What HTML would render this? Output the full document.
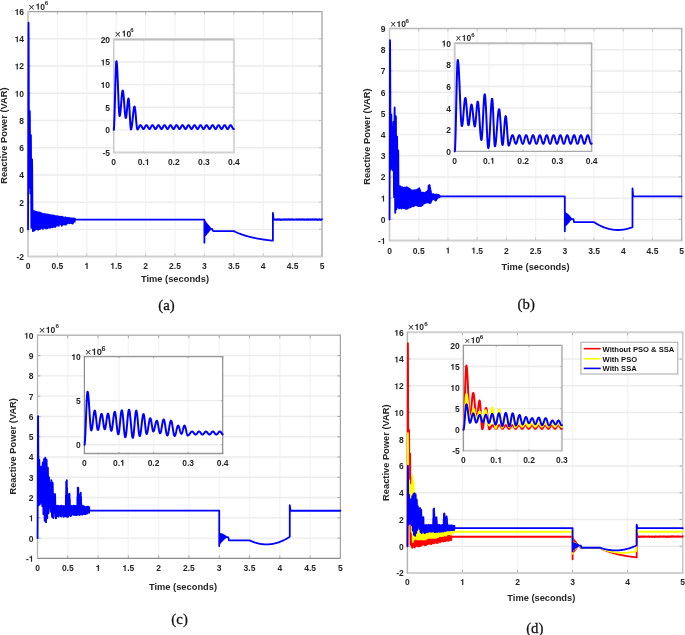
<!DOCTYPE html>
<html><head><meta charset="utf-8"><style>
html,body{margin:0;padding:0;background:#fff;}
svg{display:block;will-change:transform;}
text{font-family:"Liberation Sans",sans-serif;font-weight:bold;fill:#262626;}
text.cap{font-family:"Liberation Serif",serif;font-weight:normal;fill:#111;stroke:#111;stroke-width:0.25px;}
</style></head><body>
<svg width="685" height="635" viewBox="0 0 685 635">
<rect width="685" height="635" fill="#fff"/>
<clipPath id="c0"><rect x="26.5" y="10.1" width="297" height="248"/></clipPath>
<path d="M57.4 11.6V256.6M86.8 11.6V256.6M116.2 11.6V256.6M145.6 11.6V256.6M175 11.6V256.6M204.4 11.6V256.6M233.8 11.6V256.6M263.2 11.6V256.6M292.6 11.6V256.6" stroke="#f4f4f4" stroke-width="1.4" fill="none"/>
<path d="M28 229.38H322M28 202.16H322M28 174.93H322M28 147.71H322M28 120.49H322M28 93.27H322M28 66.04H322M28 38.82H322" stroke="#ececec" stroke-width="1.4" fill="none"/>
<path d="M28 256.6v-3M28 11.6v3M57.4 256.6v-3M57.4 11.6v3M86.8 256.6v-3M86.8 11.6v3M116.2 256.6v-3M116.2 11.6v3M145.6 256.6v-3M145.6 11.6v3M175 256.6v-3M175 11.6v3M204.4 256.6v-3M204.4 11.6v3M233.8 256.6v-3M233.8 11.6v3M263.2 256.6v-3M263.2 11.6v3M292.6 256.6v-3M292.6 11.6v3M322 256.6v-3M322 11.6v3M28 256.6h3M322 256.6h-3M28 229.38h3M322 229.38h-3M28 202.16h3M322 202.16h-3M28 174.93h3M322 174.93h-3M28 147.71h3M322 147.71h-3M28 120.49h3M322 120.49h-3M28 93.27h3M322 93.27h-3M28 66.04h3M322 66.04h-3M28 38.82h3M322 38.82h-3M28 11.6h3M322 11.6h-3" stroke="#c4c4c4" stroke-width="1" fill="none"/>
<path d="M27.5 11.6H322.5" stroke="#a0a0a0" stroke-width="1.2"/>
<path d="M27.5 256.6H322.5" stroke="#cfcfcf" stroke-width="2"/>
<path d="M28 11.1V257.1" stroke="#cfcfcf" stroke-width="2"/>
<path d="M322 11.1V257.1" stroke="#c2c2c2" stroke-width="2"/>
<g clip-path="url(#c0)" fill="none" stroke-linejoin="round" stroke-linecap="round">
<path d="M28 229.38 L28.01 228.99 L28.03 227.84 L28.04 225.93 L28.06 223.27 L28.07 219.89 L28.09 215.81 L28.1 211.07 L28.12 205.68 L28.13 199.71 L28.15 193.18 L28.16 186.16 L28.18 178.68 L28.19 170.82 L28.21 162.62 L28.22 154.14 L28.24 145.46 L28.25 136.63 L28.26 127.72 L28.28 118.8 L28.29 109.93 L28.31 101.18 L28.32 92.61 L28.34 84.29 L28.35 76.29 L28.37 68.65 L28.38 61.44 L28.4 54.71 L28.41 48.5 L28.43 42.88 L28.44 37.87 L28.46 33.52 L28.47 29.86 L28.49 26.91 L28.5 24.7 L28.51 23.24 L28.53 22.55 L28.54 22.57 L28.56 23.06 L28.57 23.99 L28.59 25.35 L28.6 27.15 L28.62 29.37 L28.63 31.99 L28.65 35 L28.66 38.4 L28.68 42.15 L28.69 46.24 L28.71 50.65 L28.72 55.35 L28.73 60.32 L28.75 65.53 L28.76 70.95 L28.78 76.55 L28.79 82.31 L28.81 88.19 L28.82 94.17 L28.84 100.2 L28.85 106.25 L28.87 112.3 L28.88 118.31 L28.9 124.25 L28.91 130.09 L28.93 135.79 L28.94 141.33 L28.96 146.67 L28.97 151.78 L28.98 156.65 L29 161.23 L29.01 165.52 L29.03 169.47 L29.04 173.08 L29.06 176.33 L29.07 179.19 L29.09 181.65 L29.1 183.7 L29.12 185.32 L29.13 186.52 L29.15 187.27 L29.16 187.58 L29.18 187.52 L29.19 187.22 L29.21 186.7 L29.22 185.96 L29.23 185 L29.25 183.83 L29.26 182.46 L29.28 180.89 L29.29 179.13 L29.31 177.19 L29.32 175.09 L29.34 172.83 L29.35 170.44 L29.37 167.92 L29.38 165.29 L29.4 162.57 L29.41 159.76 L29.43 156.9 L29.44 153.98 L29.46 151.05 L29.47 148.1 L29.48 145.15 L29.5 142.24 L29.51 139.36 L29.53 136.54 L29.54 133.8 L29.56 131.15 L29.57 128.61 L29.59 126.19 L29.6 123.9 L29.62 121.77 L29.63 119.8 L29.65 118 L29.66 116.39 L29.68 114.98 L29.69 113.77 L29.71 112.76 L29.72 111.98 L29.73 111.41 L29.75 111.07 L29.76 110.96 L29.78 111.08 L29.79 111.44 L29.81 112.04 L29.82 112.87 L29.84 113.93 L29.85 115.21 L29.87 116.71 L29.88 118.41 L29.9 120.31 L29.91 122.4 L29.93 124.66 L29.94 127.08 L29.96 129.65 L29.97 132.35 L29.98 135.16 L30 138.08 L30.01 141.07 L30.03 144.13 L30.04 147.24 L30.06 150.38 L30.07 153.53 L30.09 156.67 L30.1 159.79 L30.12 162.86 L30.13 165.87 L30.15 168.8 L30.16 171.64 L30.18 174.36 L30.19 176.96 L30.2 179.41 L30.22 181.7 L30.23 183.83 L30.25 185.77 L30.26 187.51 L30.28 189.05 L30.29 190.38 L30.31 191.48 L30.32 192.36 L30.34 193 L30.35 193.41 L30.37 193.58 L30.38 193.51 L30.4 193.21 L30.41 192.69 L30.43 191.95 L30.44 190.99 L30.45 189.83 L30.47 188.47 L30.48 186.92 L30.5 185.19 L30.51 183.3 L30.53 181.27 L30.54 179.1 L30.56 176.81 L30.57 174.43 L30.59 171.97 L30.6 169.45 L30.62 166.9 L30.63 164.32 L30.65 161.74 L30.66 159.18 L30.68 156.66 L30.69 154.2 L30.7 151.82 L30.72 149.54 L30.73 147.37 L30.75 145.33 L30.76 143.44 L30.78 141.72 L30.79 140.17 L30.81 138.8 L30.82 137.64 L30.84 136.68 L30.85 135.94 L30.87 135.42 L30.88 135.13 L30.9 135.06 L30.91 135.34 L30.93 136.03 L30.94 137.11 L30.95 138.59 L30.97 140.43 L30.98 142.64 L31 145.18 L31.01 148.04 L31.03 151.19 L31.04 154.61 L31.06 158.26 L31.07 162.11 L31.09 166.14 L31.1 170.29 L31.12 174.55 L31.13 178.86 L31.15 183.2 L31.16 187.52 L31.18 191.79 L31.19 195.97 L31.2 200.03 L31.22 203.92 L31.23 207.61 L31.25 211.08 L31.26 214.29 L31.28 217.21 L31.29 219.82 L31.31 222.09 L31.32 224.01 L31.34 225.55 L31.35 226.72 L31.37 227.48 L31.38 227.85 L31.4 227.85 L31.41 227.68 L31.43 227.35 L31.44 226.87 L31.45 226.23 L31.47 225.44 L31.48 224.51 L31.5 223.44 L31.51 222.23 L31.53 220.89 L31.54 219.42 L31.56 217.83 L31.57 216.14 L31.59 214.34 L31.6 212.44 L31.62 210.46 L31.63 208.4 L31.65 206.28 L31.66 204.09 L31.68 201.86 L31.69 199.59 L31.7 197.29 L31.72 194.97 L31.73 192.65 L31.75 190.33 L31.76 188.03 L31.78 185.75 L31.79 183.51 L31.81 181.32 L31.82 179.18 L31.84 177.11 L31.85 175.11 L31.87 173.19 L31.88 171.38 L31.9 169.66 L31.91 168.05 L31.92 166.56 L31.94 165.19 L31.95 163.95 L31.97 162.85 L31.98 161.89 L32 161.08 L32.01 160.41 L32.03 159.9 L32.04 159.53 L32.06 159.33 L32.07 159.28 L32.09 159.44 L32.1 159.81 L32.12 160.4 L32.13 161.21 L32.15 162.22 L32.16 163.43 L32.17 164.83 L32.19 166.42 L32.2 168.19 L32.22 170.12 L32.23 172.19 L32.25 174.41 L32.26 176.75 L32.28 179.2 L32.29 181.73 L32.31 184.35 L32.32 187.02 L32.34 189.74 L32.35 192.48 L32.37 195.23 L32.38 197.97 L32.4 200.68 L32.41 203.34 L32.42 205.94 L32.44 208.46 L32.45 210.89 L32.47 213.2 L32.48 215.39 L32.5 217.44 L32.51 219.34 L32.53 221.07 L32.54 222.62 L32.56 223.99 L32.57 225.16 L32.59 226.13 L32.6 226.89 L32.62 227.44 L32.63 227.77 L32.65 227.88 L32.65 210.71 L32.94 231.16 L33.23 210.79 L33.53 229.23 L33.82 211 L34.12 230.49 L34.41 211.34 L34.7 228.63 L35 211.29 L35.29 229.62 L35.59 211.77 L35.88 228.28 L36.17 212.11 L36.47 228.18 L36.76 211.9 L37.06 229.24 L37.35 212.12 L37.64 227.81 L37.94 212.69 L38.23 229.65 L38.53 212.32 L38.82 229.27 L39.11 212.51 L39.41 228.42 L39.7 212.92 L40 228.89 L40.29 212.68 L40.58 228.37 L40.88 213.09 L41.17 227.87 L41.47 213.65 L41.76 227.43 L42.05 213.51 L42.35 227.53 L42.64 213.78 L42.94 228.96 L43.23 214.09 L43.52 226.89 L43.82 214.23 L44.11 226.74 L44.41 214.06 L44.7 227.73 L44.99 214.03 L45.29 226.99 L45.58 214.16 L45.88 228.43 L46.17 214.36 L46.46 228.07 L46.76 214.55 L47.05 228.27 L47.35 214.41 L47.64 227.9 L47.93 214.57 L48.23 227.22 L48.52 214.62 L48.82 225.73 L49.11 215.11 L49.4 227.61 L49.7 214.96 L49.99 226.97 L50.29 215.13 L50.58 227.48 L50.87 215.56 L51.17 225.01 L51.46 215.39 L51.76 226.3 L52.05 215.23 L52.34 227.24 L52.64 215.5 L52.93 226.69 L53.23 215.93 L53.52 226.87 L53.81 215.47 L54.11 224.63 L54.4 215.91 L54.7 226.72 L54.99 216.02 L55.28 226.94 L55.58 216.1 L55.87 224.25 L56.17 216.43 L56.46 224.92 L56.75 216.11 L57.05 225.72 L57.34 216.14 L57.64 224.51 L57.93 216.48 L58.22 224.39 L58.52 216.42 L58.81 225.8 L59.11 216.84 L59.4 223.62 L59.69 216.95 L59.99 224.01 L60.28 217.01 L60.58 224.08 L60.87 216.69 L61.16 224.59 L61.46 216.86 L61.75 225.81 L62.05 216.73 L62.34 225.03 L62.63 216.97 L62.93 223.8 L63.22 217.53 L63.52 224.36 L63.81 217.6 L64.1 222.79 L64.4 217.69 L64.69 224.38 L64.99 217.28 L65.28 224.65 L65.57 217.35 L65.87 224.61 L66.16 217.72 L66.46 222.61 L66.75 217.95 L67.04 223.66 L67.34 217.91 L67.63 222.68 L67.93 217.61 L68.22 222.96 L68.51 218.25 L68.81 222.52 L69.1 218.23 L69.4 223.25 L69.69 217.93 L69.98 222.3 L70.28 218.12 L70.57 222.16 L70.87 218.63 L71.16 223.16 L71.45 218.33 L71.75 221.56 L72.04 218.64 L72.34 223.57 L72.63 218.31 L72.92 223.52 L73.22 218.93 L73.51 221.63 L73.81 218.5 L74.1 221.47 L74.39 219.15 L74.69 221.87 L74.98 218.73 L75.04 219.71 L76.22 219.71 L77.39 219.71 L78.57 219.71 L79.74 219.71 L80.92 219.71 L82.1 219.71 L83.27 219.71 L84.45 219.71 L85.62 219.71 L86.8 219.71 L87.98 219.71 L89.15 219.71 L90.33 219.71 L91.5 219.71 L92.68 219.71 L93.86 219.71 L95.03 219.71 L96.21 219.71 L97.38 219.71 L98.56 219.71 L99.74 219.71 L100.91 219.71 L102.09 219.71 L103.26 219.71 L104.44 219.71 L105.62 219.71 L106.79 219.71 L107.97 219.71 L109.14 219.71 L110.32 219.71 L111.5 219.71 L112.67 219.71 L113.85 219.71 L115.02 219.71 L116.2 219.71 L117.38 219.71 L118.55 219.71 L119.73 219.71 L120.9 219.71 L122.08 219.71 L123.26 219.71 L124.43 219.71 L125.61 219.71 L126.78 219.71 L127.96 219.71 L129.14 219.71 L130.31 219.71 L131.49 219.71 L132.66 219.71 L133.84 219.71 L135.02 219.71 L136.19 219.71 L137.37 219.71 L138.54 219.71 L139.72 219.71 L140.9 219.71 L142.07 219.71 L143.25 219.71 L144.42 219.71 L145.6 219.71 L146.78 219.71 L147.95 219.71 L149.13 219.71 L150.3 219.71 L151.48 219.71 L152.66 219.71 L153.83 219.71 L155.01 219.71 L156.18 219.71 L157.36 219.71 L158.54 219.71 L159.71 219.71 L160.89 219.71 L162.06 219.71 L163.24 219.71 L164.42 219.71 L165.59 219.71 L166.77 219.71 L167.94 219.71 L169.12 219.71 L170.3 219.71 L171.47 219.71 L172.65 219.71 L173.82 219.71 L175 219.71 L176.18 219.71 L177.35 219.71 L178.53 219.71 L179.7 219.71 L180.88 219.71 L182.06 219.71 L183.23 219.71 L184.41 219.71 L185.58 219.71 L186.76 219.71 L187.94 219.71 L189.11 219.71 L190.29 219.71 L191.46 219.71 L192.64 219.71 L193.82 219.71 L194.99 219.71 L196.17 219.71 L197.34 219.71 L198.52 219.71 L199.7 219.71 L200.87 219.71 L202.05 219.71 L203.22 219.71 L204.11 219.71 L204.4 219.71 L204.4 242.72 L204.58 220.94 L204.75 235.78 L204.99 221.67 L205.22 235.23 L205.46 222.25 L205.69 234.69 L205.93 222.84 L206.16 234.14 L206.4 223.42 L206.63 233.6 L206.87 224.01 L207.1 233.05 L207.34 224.59 L207.58 232.51 L207.81 225.18 L208.05 231.96 L208.28 225.76 L208.52 231.42 L208.75 226.35 L208.99 230.88 L209.22 226.93 L209.46 230.33 L209.69 227.52 L209.93 229.79 L210.16 228.1 L210.4 229.24 L210.63 228.69 L210.75 228.83 L212.04 228.97 L213.22 231.15 L233.8 231.15 L234.39 231.43 L234.98 231.71 L235.56 231.98 L236.15 232.24 L236.74 232.5 L237.33 232.75 L237.92 233 L238.5 233.23 L239.09 233.47 L239.68 233.7 L240.27 233.92 L240.86 234.14 L241.44 234.35 L242.03 234.56 L242.62 234.76 L243.21 234.96 L243.8 235.15 L244.38 235.34 L244.97 235.52 L245.56 235.7 L246.15 235.88 L246.74 236.05 L247.32 236.22 L247.91 236.38 L248.5 236.54 L249.09 236.69 L249.68 236.85 L250.26 236.99 L250.85 237.14 L251.44 237.28 L252.03 237.42 L252.62 237.55 L253.2 237.68 L253.79 237.81 L254.38 237.94 L254.97 238.06 L255.56 238.18 L256.14 238.3 L256.73 238.41 L257.32 238.52 L257.91 238.63 L258.5 238.74 L259.08 238.84 L259.67 238.94 L260.26 239.04 L260.85 239.14 L261.44 239.23 L262.02 239.32 L262.61 239.41 L263.2 239.5 L263.79 239.58 L264.38 239.67 L264.96 239.75 L265.55 239.83 L266.14 239.91 L266.73 239.98 L267.32 240.05 L267.9 240.13 L268.49 240.2 L269.08 240.27 L269.67 240.33 L270.26 240.4 L270.84 240.46 L271.43 240.53 L272.02 240.59 L272.61 240.65 L272.9 240.68 L272.9 212.91 L273.61 219.58 L274.31 219.26 L275.02 219.81 L275.72 219.37 L276.43 219.98 L277.14 219.24 L277.84 219.89 L278.55 219.18 L279.25 219.87 L279.96 219.2 L280.66 219.95 L281.37 219.33 L282.07 219.83 L282.78 219.31 L283.49 219.83 L284.19 219.25 L284.9 219.83 L285.6 219.29 L286.31 219.81 L287.01 219.19 L287.72 219.85 L288.43 219.28 L289.13 219.9 L289.84 219.19 L290.54 219.87 L291.25 219.19 L291.95 219.88 L292.66 219.27 L293.36 219.89 L294.07 219.37 L294.78 219.87 L295.48 219.34 L296.19 219.78 L296.89 219.21 L297.6 219.82 L298.3 219.28 L299.01 219.93 L299.71 219.26 L300.42 219.85 L301.13 219.27 L301.83 219.9 L302.54 219.21 L303.24 219.8 L303.95 219.26 L304.65 219.83 L305.36 219.32 L306.07 219.94 L306.77 219.27 L307.48 219.9 L308.18 219.22 L308.89 219.97 L309.59 219.28 L310.3 219.91 L311 219.27 L311.71 219.89 L312.42 219.23 L313.12 219.87 L313.83 219.26 L314.53 219.88 L315.24 219.18 L315.94 219.92 L316.65 219.19 L317.35 219.97 L318.06 219.32 L318.77 219.9 L319.47 219.18 L320.18 219.95 L320.88 219.35 L321.59 219.81 L322 219.28" stroke="#0000ff" stroke-width="1.8"/>
</g>
<text x="28" y="268.9" font-size="8.5" text-anchor="middle" style="font-kerning:none">0</text>
<text x="57.4" y="268.9" font-size="8.5" text-anchor="middle" style="font-kerning:none">0.5</text>
<text x="86.8" y="268.9" font-size="8.5" text-anchor="middle" style="font-kerning:none">&#8199;</text><path d="M378 0V-709H285C263 -625 190 -582 68 -582V-489H238V0Z" transform="translate(84.44 268.9) scale(0.0085)" fill="#262626"/>
<text x="116.2" y="268.9" font-size="8.5" text-anchor="middle" style="font-kerning:none">&#8199;.5</text><path d="M378 0V-709H285C263 -625 190 -582 68 -582V-489H238V0Z" transform="translate(110.29 268.9) scale(0.0085)" fill="#262626"/>
<text x="145.6" y="268.9" font-size="8.5" text-anchor="middle" style="font-kerning:none">2</text>
<text x="175" y="268.9" font-size="8.5" text-anchor="middle" style="font-kerning:none">2.5</text>
<text x="204.4" y="268.9" font-size="8.5" text-anchor="middle" style="font-kerning:none">3</text>
<text x="233.8" y="268.9" font-size="8.5" text-anchor="middle" style="font-kerning:none">3.5</text>
<text x="263.2" y="268.9" font-size="8.5" text-anchor="middle" style="font-kerning:none">4</text>
<text x="292.6" y="268.9" font-size="8.5" text-anchor="middle" style="font-kerning:none">4.5</text>
<text x="322" y="268.9" font-size="8.5" text-anchor="middle" style="font-kerning:none">5</text>
<text x="24.1" y="260" font-size="8.5" text-anchor="end" style="font-kerning:none">-2</text>
<text x="24.1" y="232.78" font-size="8.5" text-anchor="end" style="font-kerning:none">0</text>
<text x="24.1" y="205.56" font-size="8.5" text-anchor="end" style="font-kerning:none">2</text>
<text x="24.1" y="178.33" font-size="8.5" text-anchor="end" style="font-kerning:none">4</text>
<text x="24.1" y="151.11" font-size="8.5" text-anchor="end" style="font-kerning:none">6</text>
<text x="24.1" y="123.89" font-size="8.5" text-anchor="end" style="font-kerning:none">8</text>
<text x="24.1" y="96.67" font-size="8.5" text-anchor="end" style="font-kerning:none">&#8199;0</text><path d="M378 0V-709H285C263 -625 190 -582 68 -582V-489H238V0Z" transform="translate(14.65 96.67) scale(0.0085)" fill="#262626"/>
<text x="24.1" y="69.44" font-size="8.5" text-anchor="end" style="font-kerning:none">&#8199;2</text><path d="M378 0V-709H285C263 -625 190 -582 68 -582V-489H238V0Z" transform="translate(14.65 69.44) scale(0.0085)" fill="#262626"/>
<text x="24.1" y="42.22" font-size="8.5" text-anchor="end" style="font-kerning:none">&#8199;4</text><path d="M378 0V-709H285C263 -625 190 -582 68 -582V-489H238V0Z" transform="translate(14.65 42.22) scale(0.0085)" fill="#262626"/>
<text x="24.1" y="15" font-size="8.5" text-anchor="end" style="font-kerning:none">&#8199;6</text><path d="M378 0V-709H285C263 -625 190 -582 68 -582V-489H238V0Z" transform="translate(14.65 15) scale(0.0085)" fill="#262626"/>
<text x="28.2" y="10.8" font-size="11" style="font-weight:normal">&#215;</text>
<text x="35.6" y="9.6" font-size="8.5" text-anchor="start" style="font-kerning:none">&#8199;0</text><path d="M378 0V-709H285C263 -625 190 -582 68 -582V-489H238V0Z" transform="translate(35.6 9.6) scale(0.0085)" fill="#262626"/>
<text x="44.8" y="4.9" font-size="6.2">6</text>
<clipPath id="c1"><rect x="112.2" y="37.95" width="123.2" height="116.05"/></clipPath>
<rect x="113.7" y="39.45" width="120.2" height="113.05" fill="#fff"/>
<path d="M143.75 39.45V152.5M173.8 39.45V152.5M203.85 39.45V152.5" stroke="#f4f4f4" stroke-width="1.4" fill="none"/>
<path d="M113.7 129.89H233.9M113.7 107.28H233.9M113.7 84.67H233.9M113.7 62.06H233.9" stroke="#ececec" stroke-width="1.4" fill="none"/>
<path d="M113.7 152.5v-1.5M113.7 39.45v1.5M143.75 152.5v-1.5M143.75 39.45v1.5M173.8 152.5v-1.5M173.8 39.45v1.5M203.85 152.5v-1.5M203.85 39.45v1.5M233.9 152.5v-1.5M233.9 39.45v1.5M113.7 152.5h1.5M233.9 152.5h-1.5M113.7 129.89h1.5M233.9 129.89h-1.5M113.7 107.28h1.5M233.9 107.28h-1.5M113.7 84.67h1.5M233.9 84.67h-1.5M113.7 62.06h1.5M233.9 62.06h-1.5M113.7 39.45h1.5M233.9 39.45h-1.5" stroke="#c8c8c8" stroke-width="1" fill="none"/>
<path d="M113.2 39.45H234.4" stroke="#bcbcbc" stroke-width="2"/>
<path d="M113.2 152.5H234.4" stroke="#d2d2d2" stroke-width="2"/>
<path d="M113.7 38.95V153" stroke="#c8c8c8" stroke-width="1.5"/>
<path d="M233.9 38.95V153" stroke="#d6d6d6" stroke-width="2"/>
<g clip-path="url(#c1)" fill="none" stroke-linejoin="round" stroke-linecap="round">
<path d="M113.7 129.89 L113.8 129.66 L113.9 128.98 L114 127.86 L114.1 126.31 L114.2 124.36 L114.3 122.02 L114.4 119.33 L114.5 116.33 L114.6 113.05 L114.7 109.54 L114.8 105.84 L114.9 102.01 L115 98.09 L115.1 94.14 L115.2 90.21 L115.3 86.34 L115.4 82.6 L115.5 79.03 L115.6 75.68 L115.7 72.59 L115.8 69.8 L115.9 67.35 L116 65.28 L116.1 63.6 L116.2 62.35 L116.3 61.54 L116.4 61.18 L116.5 61.22 L116.6 61.53 L116.7 62.11 L116.81 62.93 L116.91 64.01 L117.01 65.31 L117.11 66.84 L117.21 68.58 L117.31 70.51 L117.41 72.61 L117.51 74.87 L117.61 77.26 L117.71 79.75 L117.81 82.33 L117.91 84.97 L118.01 87.64 L118.11 90.33 L118.21 92.99 L118.31 95.62 L118.41 98.17 L118.51 100.64 L118.61 102.99 L118.71 105.2 L118.81 107.25 L118.91 109.12 L119.01 110.8 L119.11 112.27 L119.21 113.5 L119.31 114.5 L119.41 115.25 L119.51 115.75 L119.61 115.99 L119.71 115.98 L119.81 115.84 L119.91 115.56 L120.01 115.15 L120.11 114.61 L120.21 113.96 L120.31 113.2 L120.41 112.33 L120.51 111.36 L120.61 110.31 L120.71 109.18 L120.81 108 L120.91 106.76 L121.01 105.49 L121.11 104.19 L121.21 102.89 L121.31 101.58 L121.41 100.3 L121.51 99.05 L121.61 97.84 L121.71 96.69 L121.81 95.61 L121.91 94.61 L122.01 93.7 L122.11 92.89 L122.21 92.19 L122.31 91.61 L122.41 91.15 L122.51 90.82 L122.61 90.62 L122.72 90.55 L122.82 90.62 L122.92 90.83 L123.02 91.18 L123.12 91.67 L123.22 92.28 L123.32 93.02 L123.42 93.88 L123.52 94.84 L123.62 95.9 L123.72 97.05 L123.82 98.27 L123.92 99.56 L124.02 100.89 L124.12 102.26 L124.22 103.65 L124.32 105.04 L124.42 106.43 L124.52 107.79 L124.62 109.12 L124.72 110.4 L124.82 111.61 L124.92 112.75 L125.02 113.8 L125.12 114.76 L125.22 115.6 L125.32 116.33 L125.42 116.93 L125.52 117.4 L125.62 117.74 L125.72 117.94 L125.82 118 L125.92 117.92 L126.02 117.7 L126.12 117.36 L126.22 116.89 L126.32 116.3 L126.42 115.6 L126.52 114.8 L126.62 113.91 L126.72 112.94 L126.82 111.9 L126.92 110.82 L127.02 109.7 L127.12 108.56 L127.22 107.42 L127.32 106.29 L127.42 105.18 L127.52 104.12 L127.62 103.12 L127.72 102.19 L127.82 101.34 L127.92 100.59 L128.02 99.94 L128.12 99.41 L128.22 99 L128.32 98.72 L128.42 98.58 L128.52 98.57 L128.62 98.79 L128.72 99.24 L128.83 99.92 L128.93 100.81 L129.03 101.92 L129.13 103.21 L129.23 104.66 L129.33 106.26 L129.43 107.98 L129.53 109.8 L129.63 111.67 L129.73 113.59 L129.83 115.51 L129.93 117.4 L130.03 119.25 L130.13 121.01 L130.23 122.66 L130.33 124.18 L130.43 125.53 L130.53 126.71 L130.63 127.69 L130.73 128.46 L130.83 129.01 L130.93 129.32 L131.03 129.39 L131.13 129.33 L131.23 129.17 L131.33 128.92 L131.43 128.58 L131.53 128.16 L131.63 127.65 L131.73 127.07 L131.83 126.41 L131.93 125.68 L132.03 124.89 L132.13 124.05 L132.23 123.15 L132.33 122.22 L132.43 121.24 L132.53 120.25 L132.63 119.23 L132.73 118.2 L132.83 117.17 L132.93 116.15 L133.03 115.15 L133.13 114.16 L133.23 113.21 L133.33 112.3 L133.43 111.43 L133.53 110.62 L133.63 109.87 L133.73 109.18 L133.83 108.57 L133.93 108.03 L134.03 107.57 L134.13 107.2 L134.23 106.91 L134.33 106.72 L134.43 106.62 L134.53 106.61 L134.63 106.73 L134.74 106.97 L134.84 107.35 L134.94 107.84 L135.04 108.45 L135.14 109.16 L135.24 109.98 L135.34 110.89 L135.44 111.88 L135.54 112.94 L135.64 114.06 L135.74 115.22 L135.84 116.42 L135.94 117.63 L136.04 118.85 L136.14 120.06 L136.24 121.24 L136.34 122.39 L136.44 123.48 L136.54 124.52 L136.64 125.48 L136.74 126.35 L136.84 127.13 L136.94 127.8 L137.04 128.37 L137.14 128.81 L137.24 129.13 L137.34 129.33 L137.44 129.39 L137.54 129.38 L137.64 129.35 L137.74 129.29 L137.84 129.21 L137.94 129.11 L138.04 128.99 L138.14 128.85 L138.24 128.69 L138.34 128.52 L138.44 128.33 L138.54 128.13 L138.64 127.92 L138.74 127.71 L138.84 127.49 L138.94 127.27 L139.04 127.05 L139.14 126.83 L139.24 126.61 L139.34 126.4 L139.44 126.2 L139.54 126.02 L139.64 125.85 L139.74 125.69 L139.84 125.55 L139.94 125.43 L140.04 125.33 L140.14 125.25 L140.24 125.19 L140.34 125.15 L140.44 125.14 L140.54 125.15 L140.64 125.18 L140.75 125.24 L140.85 125.31 L140.95 125.4 L141.05 125.51 L141.15 125.64 L141.25 125.78 L141.35 125.93 L141.45 126.1 L141.55 126.28 L141.65 126.47 L141.75 126.66 L141.85 126.86 L141.95 127.06 L142.05 127.26 L142.15 127.46 L142.25 127.66 L142.35 127.85 L142.45 128.02 L142.55 128.19 L142.65 128.35 L142.75 128.49 L142.85 128.62 L142.95 128.73 L143.05 128.82 L143.15 128.89 L143.25 128.94 L143.35 128.98 L143.45 128.99 L143.55 128.98 L143.65 128.94 L143.75 128.89 L143.85 128.82 L143.95 128.73 L144.05 128.62 L144.15 128.49 L144.25 128.35 L144.35 128.19 L144.45 128.02 L144.55 127.85 L144.65 127.66 L144.75 127.46 L144.85 127.26 L144.95 127.06 L145.05 126.86 L145.15 126.66 L145.25 126.47 L145.35 126.28 L145.45 126.1 L145.55 125.93 L145.65 125.78 L145.75 125.64 L145.85 125.51 L145.95 125.4 L146.05 125.31 L146.15 125.24 L146.25 125.18 L146.35 125.15 L146.45 125.14 L146.55 125.15 L146.65 125.18 L146.75 125.24 L146.86 125.31 L146.96 125.4 L147.06 125.51 L147.16 125.64 L147.26 125.78 L147.36 125.93 L147.46 126.1 L147.56 126.28 L147.66 126.47 L147.76 126.66 L147.86 126.86 L147.96 127.06 L148.06 127.26 L148.16 127.46 L148.26 127.66 L148.36 127.85 L148.46 128.02 L148.56 128.19 L148.66 128.35 L148.76 128.49 L148.86 128.62 L148.96 128.73 L149.06 128.82 L149.16 128.89 L149.26 128.94 L149.36 128.98 L149.46 128.99 L149.56 128.98 L149.66 128.94 L149.76 128.89 L149.86 128.82 L149.96 128.73 L150.06 128.62 L150.16 128.49 L150.26 128.35 L150.36 128.19 L150.46 128.02 L150.56 127.85 L150.66 127.66 L150.76 127.46 L150.86 127.26 L150.96 127.06 L151.06 126.86 L151.16 126.66 L151.26 126.47 L151.36 126.28 L151.46 126.1 L151.56 125.93 L151.66 125.78 L151.76 125.64 L151.86 125.51 L151.96 125.4 L152.06 125.31 L152.16 125.24 L152.26 125.18 L152.36 125.15 L152.46 125.14 L152.56 125.15 L152.66 125.18 L152.77 125.24 L152.87 125.31 L152.97 125.4 L153.07 125.51 L153.17 125.64 L153.27 125.78 L153.37 125.93 L153.47 126.1 L153.57 126.28 L153.67 126.47 L153.77 126.66 L153.87 126.86 L153.97 127.06 L154.07 127.26 L154.17 127.46 L154.27 127.66 L154.37 127.85 L154.47 128.02 L154.57 128.19 L154.67 128.35 L154.77 128.49 L154.87 128.62 L154.97 128.73 L155.07 128.82 L155.17 128.89 L155.27 128.94 L155.37 128.98 L155.47 128.99 L155.57 128.98 L155.67 128.94 L155.77 128.89 L155.87 128.82 L155.97 128.73 L156.07 128.62 L156.17 128.49 L156.27 128.35 L156.37 128.19 L156.47 128.02 L156.57 127.85 L156.67 127.66 L156.77 127.46 L156.87 127.26 L156.97 127.06 L157.07 126.86 L157.17 126.66 L157.27 126.47 L157.37 126.28 L157.47 126.1 L157.57 125.93 L157.67 125.78 L157.77 125.64 L157.87 125.51 L157.97 125.4 L158.07 125.31 L158.17 125.24 L158.27 125.18 L158.37 125.15 L158.47 125.14 L158.57 125.15 L158.67 125.18 L158.78 125.24 L158.88 125.31 L158.98 125.4 L159.08 125.51 L159.18 125.64 L159.28 125.78 L159.38 125.93 L159.48 126.1 L159.58 126.28 L159.68 126.47 L159.78 126.66 L159.88 126.86 L159.98 127.06 L160.08 127.26 L160.18 127.46 L160.28 127.66 L160.38 127.85 L160.48 128.02 L160.58 128.19 L160.68 128.35 L160.78 128.49 L160.88 128.62 L160.98 128.73 L161.08 128.82 L161.18 128.89 L161.28 128.94 L161.38 128.98 L161.48 128.99 L161.58 128.98 L161.68 128.94 L161.78 128.89 L161.88 128.82 L161.98 128.73 L162.08 128.62 L162.18 128.49 L162.28 128.35 L162.38 128.19 L162.48 128.02 L162.58 127.85 L162.68 127.66 L162.78 127.46 L162.88 127.26 L162.98 127.06 L163.08 126.86 L163.18 126.66 L163.28 126.47 L163.38 126.28 L163.48 126.1 L163.58 125.93 L163.68 125.78 L163.78 125.64 L163.88 125.51 L163.98 125.4 L164.08 125.31 L164.18 125.24 L164.28 125.18 L164.38 125.15 L164.48 125.14 L164.58 125.15 L164.68 125.18 L164.78 125.24 L164.89 125.31 L164.99 125.4 L165.09 125.51 L165.19 125.64 L165.29 125.78 L165.39 125.93 L165.49 126.1 L165.59 126.28 L165.69 126.47 L165.79 126.66 L165.89 126.86 L165.99 127.06 L166.09 127.26 L166.19 127.46 L166.29 127.66 L166.39 127.85 L166.49 128.02 L166.59 128.19 L166.69 128.35 L166.79 128.49 L166.89 128.62 L166.99 128.73 L167.09 128.82 L167.19 128.89 L167.29 128.94 L167.39 128.98 L167.49 128.99 L167.59 128.98 L167.69 128.94 L167.79 128.89 L167.89 128.82 L167.99 128.73 L168.09 128.62 L168.19 128.49 L168.29 128.35 L168.39 128.19 L168.49 128.02 L168.59 127.85 L168.69 127.66 L168.79 127.46 L168.89 127.26 L168.99 127.06 L169.09 126.86 L169.19 126.66 L169.29 126.47 L169.39 126.28 L169.49 126.1 L169.59 125.93 L169.69 125.78 L169.79 125.64 L169.89 125.51 L169.99 125.4 L170.09 125.31 L170.19 125.24 L170.29 125.18 L170.39 125.15 L170.49 125.14 L170.59 125.15 L170.69 125.18 L170.8 125.24 L170.9 125.31 L171 125.4 L171.1 125.51 L171.2 125.64 L171.3 125.78 L171.4 125.93 L171.5 126.1 L171.6 126.28 L171.7 126.47 L171.8 126.66 L171.9 126.86 L172 127.06 L172.1 127.26 L172.2 127.46 L172.3 127.66 L172.4 127.85 L172.5 128.02 L172.6 128.19 L172.7 128.35 L172.8 128.49 L172.9 128.62 L173 128.73 L173.1 128.82 L173.2 128.89 L173.3 128.94 L173.4 128.98 L173.5 128.99 L173.6 128.98 L173.7 128.94 L173.8 128.89 L173.9 128.82 L174 128.73 L174.1 128.62 L174.2 128.49 L174.3 128.35 L174.4 128.19 L174.5 128.02 L174.6 127.85 L174.7 127.66 L174.8 127.46 L174.9 127.26 L175 127.06 L175.1 126.86 L175.2 126.66 L175.3 126.47 L175.4 126.28 L175.5 126.1 L175.6 125.93 L175.7 125.78 L175.8 125.64 L175.9 125.51 L176 125.4 L176.1 125.31 L176.2 125.24 L176.3 125.18 L176.4 125.15 L176.5 125.14 L176.6 125.15 L176.7 125.18 L176.81 125.24 L176.91 125.31 L177.01 125.4 L177.11 125.51 L177.21 125.64 L177.31 125.78 L177.41 125.93 L177.51 126.1 L177.61 126.28 L177.71 126.47 L177.81 126.66 L177.91 126.86 L178.01 127.06 L178.11 127.26 L178.21 127.46 L178.31 127.66 L178.41 127.85 L178.51 128.02 L178.61 128.19 L178.71 128.35 L178.81 128.49 L178.91 128.62 L179.01 128.73 L179.11 128.82 L179.21 128.89 L179.31 128.94 L179.41 128.98 L179.51 128.99 L179.61 128.98 L179.71 128.94 L179.81 128.89 L179.91 128.82 L180.01 128.73 L180.11 128.62 L180.21 128.49 L180.31 128.35 L180.41 128.19 L180.51 128.02 L180.61 127.85 L180.71 127.66 L180.81 127.46 L180.91 127.26 L181.01 127.06 L181.11 126.86 L181.21 126.66 L181.31 126.47 L181.41 126.28 L181.51 126.1 L181.61 125.93 L181.71 125.78 L181.81 125.64 L181.91 125.51 L182.01 125.4 L182.11 125.31 L182.21 125.24 L182.31 125.18 L182.41 125.15 L182.51 125.14 L182.61 125.15 L182.71 125.18 L182.81 125.24 L182.92 125.31 L183.02 125.4 L183.12 125.51 L183.22 125.64 L183.32 125.78 L183.42 125.93 L183.52 126.1 L183.62 126.28 L183.72 126.47 L183.82 126.66 L183.92 126.86 L184.02 127.06 L184.12 127.26 L184.22 127.46 L184.32 127.66 L184.42 127.85 L184.52 128.02 L184.62 128.19 L184.72 128.35 L184.82 128.49 L184.92 128.62 L185.02 128.73 L185.12 128.82 L185.22 128.89 L185.32 128.94 L185.42 128.98 L185.52 128.99 L185.62 128.98 L185.72 128.94 L185.82 128.89 L185.92 128.82 L186.02 128.73 L186.12 128.62 L186.22 128.49 L186.32 128.35 L186.42 128.19 L186.52 128.02 L186.62 127.85 L186.72 127.66 L186.82 127.46 L186.92 127.26 L187.02 127.06 L187.12 126.86 L187.22 126.66 L187.32 126.47 L187.42 126.28 L187.52 126.1 L187.62 125.93 L187.72 125.78 L187.82 125.64 L187.92 125.51 L188.02 125.4 L188.12 125.31 L188.22 125.24 L188.32 125.18 L188.42 125.15 L188.52 125.14 L188.62 125.15 L188.72 125.18 L188.82 125.24 L188.93 125.31 L189.03 125.4 L189.13 125.51 L189.23 125.64 L189.33 125.78 L189.43 125.93 L189.53 126.1 L189.63 126.28 L189.73 126.47 L189.83 126.66 L189.93 126.86 L190.03 127.06 L190.13 127.26 L190.23 127.46 L190.33 127.66 L190.43 127.85 L190.53 128.02 L190.63 128.19 L190.73 128.35 L190.83 128.49 L190.93 128.62 L191.03 128.73 L191.13 128.82 L191.23 128.89 L191.33 128.94 L191.43 128.98 L191.53 128.99 L191.63 128.98 L191.73 128.94 L191.83 128.89 L191.93 128.82 L192.03 128.73 L192.13 128.62 L192.23 128.49 L192.33 128.35 L192.43 128.19 L192.53 128.02 L192.63 127.85 L192.73 127.66 L192.83 127.46 L192.93 127.26 L193.03 127.06 L193.13 126.86 L193.23 126.66 L193.33 126.47 L193.43 126.28 L193.53 126.1 L193.63 125.93 L193.73 125.78 L193.83 125.64 L193.93 125.51 L194.03 125.4 L194.13 125.31 L194.23 125.24 L194.33 125.18 L194.43 125.15 L194.53 125.14 L194.63 125.15 L194.73 125.18 L194.84 125.24 L194.94 125.31 L195.04 125.4 L195.14 125.51 L195.24 125.64 L195.34 125.78 L195.44 125.93 L195.54 126.1 L195.64 126.28 L195.74 126.47 L195.84 126.66 L195.94 126.86 L196.04 127.06 L196.14 127.26 L196.24 127.46 L196.34 127.66 L196.44 127.85 L196.54 128.02 L196.64 128.19 L196.74 128.35 L196.84 128.49 L196.94 128.62 L197.04 128.73 L197.14 128.82 L197.24 128.89 L197.34 128.94 L197.44 128.98 L197.54 128.99 L197.64 128.98 L197.74 128.94 L197.84 128.89 L197.94 128.82 L198.04 128.73 L198.14 128.62 L198.24 128.49 L198.34 128.35 L198.44 128.19 L198.54 128.02 L198.64 127.85 L198.74 127.66 L198.84 127.46 L198.94 127.26 L199.04 127.06 L199.14 126.86 L199.24 126.66 L199.34 126.47 L199.44 126.28 L199.54 126.1 L199.64 125.93 L199.74 125.78 L199.84 125.64 L199.94 125.51 L200.04 125.4 L200.14 125.31 L200.24 125.24 L200.34 125.18 L200.44 125.15 L200.54 125.14 L200.64 125.15 L200.74 125.18 L200.84 125.24 L200.95 125.31 L201.05 125.4 L201.15 125.51 L201.25 125.64 L201.35 125.78 L201.45 125.93 L201.55 126.1 L201.65 126.28 L201.75 126.47 L201.85 126.66 L201.95 126.86 L202.05 127.06 L202.15 127.26 L202.25 127.46 L202.35 127.66 L202.45 127.85 L202.55 128.02 L202.65 128.19 L202.75 128.35 L202.85 128.49 L202.95 128.62 L203.05 128.73 L203.15 128.82 L203.25 128.89 L203.35 128.94 L203.45 128.98 L203.55 128.99 L203.65 128.98 L203.75 128.94 L203.85 128.89 L203.95 128.82 L204.05 128.73 L204.15 128.62 L204.25 128.49 L204.35 128.35 L204.45 128.19 L204.55 128.02 L204.65 127.85 L204.75 127.66 L204.85 127.46 L204.95 127.26 L205.05 127.06 L205.15 126.86 L205.25 126.66 L205.35 126.47 L205.45 126.28 L205.55 126.1 L205.65 125.93 L205.75 125.78 L205.85 125.64 L205.95 125.51 L206.05 125.4 L206.15 125.31 L206.25 125.24 L206.35 125.18 L206.45 125.15 L206.55 125.14 L206.65 125.15 L206.75 125.18 L206.85 125.24 L206.96 125.31 L207.06 125.4 L207.16 125.51 L207.26 125.64 L207.36 125.78 L207.46 125.93 L207.56 126.1 L207.66 126.28 L207.76 126.47 L207.86 126.66 L207.96 126.86 L208.06 127.06 L208.16 127.26 L208.26 127.46 L208.36 127.66 L208.46 127.85 L208.56 128.02 L208.66 128.19 L208.76 128.35 L208.86 128.49 L208.96 128.62 L209.06 128.73 L209.16 128.82 L209.26 128.89 L209.36 128.94 L209.46 128.98 L209.56 128.99 L209.66 128.98 L209.76 128.94 L209.86 128.89 L209.96 128.82 L210.06 128.73 L210.16 128.62 L210.26 128.49 L210.36 128.35 L210.46 128.19 L210.56 128.02 L210.66 127.85 L210.76 127.66 L210.86 127.46 L210.96 127.26 L211.06 127.06 L211.16 126.86 L211.26 126.66 L211.36 126.47 L211.46 126.28 L211.56 126.1 L211.66 125.93 L211.76 125.78 L211.86 125.64 L211.96 125.51 L212.06 125.4 L212.16 125.31 L212.26 125.24 L212.36 125.18 L212.46 125.15 L212.56 125.14 L212.66 125.15 L212.76 125.18 L212.87 125.24 L212.97 125.31 L213.07 125.4 L213.17 125.51 L213.27 125.64 L213.37 125.78 L213.47 125.93 L213.57 126.1 L213.67 126.28 L213.77 126.47 L213.87 126.66 L213.97 126.86 L214.07 127.06 L214.17 127.26 L214.27 127.46 L214.37 127.66 L214.47 127.85 L214.57 128.02 L214.67 128.19 L214.77 128.35 L214.87 128.49 L214.97 128.62 L215.07 128.73 L215.17 128.82 L215.27 128.89 L215.37 128.94 L215.47 128.98 L215.57 128.99 L215.67 128.98 L215.77 128.94 L215.87 128.89 L215.97 128.82 L216.07 128.73 L216.17 128.62 L216.27 128.49 L216.37 128.35 L216.47 128.19 L216.57 128.02 L216.67 127.85 L216.77 127.66 L216.87 127.46 L216.97 127.26 L217.07 127.06 L217.17 126.86 L217.27 126.66 L217.37 126.47 L217.47 126.28 L217.57 126.1 L217.67 125.93 L217.77 125.78 L217.87 125.64 L217.97 125.51 L218.07 125.4 L218.17 125.31 L218.27 125.24 L218.37 125.18 L218.47 125.15 L218.57 125.14 L218.67 125.15 L218.77 125.18 L218.88 125.24 L218.98 125.31 L219.08 125.4 L219.18 125.51 L219.28 125.64 L219.38 125.78 L219.48 125.93 L219.58 126.1 L219.68 126.28 L219.78 126.47 L219.88 126.66 L219.98 126.86 L220.08 127.06 L220.18 127.26 L220.28 127.46 L220.38 127.66 L220.48 127.85 L220.58 128.02 L220.68 128.19 L220.78 128.35 L220.88 128.49 L220.98 128.62 L221.08 128.73 L221.18 128.82 L221.28 128.89 L221.38 128.94 L221.48 128.98 L221.58 128.99 L221.68 128.98 L221.78 128.94 L221.88 128.89 L221.98 128.82 L222.08 128.73 L222.18 128.62 L222.28 128.49 L222.38 128.35 L222.48 128.19 L222.58 128.02 L222.68 127.85 L222.78 127.66 L222.88 127.46 L222.98 127.26 L223.08 127.06 L223.18 126.86 L223.28 126.66 L223.38 126.47 L223.48 126.28 L223.58 126.1 L223.68 125.93 L223.78 125.78 L223.88 125.64 L223.98 125.51 L224.08 125.4 L224.18 125.31 L224.28 125.24 L224.38 125.18 L224.48 125.15 L224.58 125.14 L224.68 125.15 L224.78 125.18 L224.88 125.24 L224.99 125.31 L225.09 125.4 L225.19 125.51 L225.29 125.64 L225.39 125.78 L225.49 125.93 L225.59 126.1 L225.69 126.28 L225.79 126.47 L225.89 126.66 L225.99 126.86 L226.09 127.06 L226.19 127.26 L226.29 127.46 L226.39 127.66 L226.49 127.85 L226.59 128.02 L226.69 128.19 L226.79 128.35 L226.89 128.49 L226.99 128.62 L227.09 128.73 L227.19 128.82 L227.29 128.89 L227.39 128.94 L227.49 128.98 L227.59 128.99 L227.69 128.98 L227.79 128.94 L227.89 128.89 L227.99 128.82 L228.09 128.73 L228.19 128.62 L228.29 128.49 L228.39 128.35 L228.49 128.19 L228.59 128.02 L228.69 127.85 L228.79 127.66 L228.89 127.46 L228.99 127.26 L229.09 127.06 L229.19 126.86 L229.29 126.66 L229.39 126.47 L229.49 126.28 L229.59 126.1 L229.69 125.93 L229.79 125.78 L229.89 125.64 L229.99 125.51 L230.09 125.4 L230.19 125.31 L230.29 125.24 L230.39 125.18 L230.49 125.15 L230.59 125.14 L230.69 125.15 L230.79 125.18 L230.89 125.24 L231 125.31 L231.1 125.4 L231.2 125.51 L231.3 125.64 L231.4 125.78 L231.5 125.93 L231.6 126.1 L231.7 126.28 L231.8 126.47 L231.9 126.66 L232 126.86 L232.1 127.06 L232.2 127.26 L232.3 127.46 L232.4 127.66 L232.5 127.85 L232.6 128.02 L232.7 128.19 L232.8 128.35 L232.9 128.49 L233 128.62 L233.1 128.73 L233.2 128.82 L233.3 128.89 L233.4 128.94 L233.5 128.98 L233.6 128.99 L233.7 128.98 L233.8 128.94 L233.9 128.89" stroke="#0000ff" stroke-width="2.0"/>
</g>
<text x="113.7" y="165" font-size="8.5" text-anchor="middle" style="font-kerning:none">0</text>
<text x="143.75" y="165" font-size="8.5" text-anchor="middle" style="font-kerning:none">0.&#8199;</text><path d="M378 0V-709H285C263 -625 190 -582 68 -582V-489H238V0Z" transform="translate(144.93 165) scale(0.0085)" fill="#262626"/>
<text x="173.8" y="165" font-size="8.5" text-anchor="middle" style="font-kerning:none">0.2</text>
<text x="203.85" y="165" font-size="8.5" text-anchor="middle" style="font-kerning:none">0.3</text>
<text x="233.9" y="165" font-size="8.5" text-anchor="middle" style="font-kerning:none">0.4</text>
<text x="110.1" y="155.9" font-size="8.5" text-anchor="end" style="font-kerning:none">-5</text>
<text x="110.1" y="133.29" font-size="8.5" text-anchor="end" style="font-kerning:none">0</text>
<text x="110.1" y="110.68" font-size="8.5" text-anchor="end" style="font-kerning:none">5</text>
<text x="110.1" y="88.07" font-size="8.5" text-anchor="end" style="font-kerning:none">&#8199;0</text><path d="M378 0V-709H285C263 -625 190 -582 68 -582V-489H238V0Z" transform="translate(100.65 88.07) scale(0.0085)" fill="#262626"/>
<text x="110.1" y="65.46" font-size="8.5" text-anchor="end" style="font-kerning:none">&#8199;5</text><path d="M378 0V-709H285C263 -625 190 -582 68 -582V-489H238V0Z" transform="translate(100.65 65.46) scale(0.0085)" fill="#262626"/>
<text x="110.1" y="42.85" font-size="8.5" text-anchor="end" style="font-kerning:none">20</text>
<text x="114.6" y="37.8" font-size="11" style="font-weight:normal">&#215;</text>
<text x="121.7" y="36.6" font-size="8.5" text-anchor="start" style="font-kerning:none">&#8199;0</text><path d="M378 0V-709H285C263 -625 190 -582 68 -582V-489H238V0Z" transform="translate(121.7 36.6) scale(0.0085)" fill="#262626"/>
<text x="130.2" y="32.4" font-size="6.2">6</text>
<clipPath id="c2"><rect x="388" y="27.1" width="295.2" height="215"/></clipPath>
<path d="M418.72 28.6V240.6M447.94 28.6V240.6M477.16 28.6V240.6M506.38 28.6V240.6M535.6 28.6V240.6M564.82 28.6V240.6M594.04 28.6V240.6M623.26 28.6V240.6M652.48 28.6V240.6" stroke="#f4f4f4" stroke-width="1.4" fill="none"/>
<path d="M389.5 219.4H681.7M389.5 198.2H681.7M389.5 177H681.7M389.5 155.8H681.7M389.5 134.6H681.7M389.5 113.4H681.7M389.5 92.2H681.7M389.5 71H681.7M389.5 49.8H681.7" stroke="#ececec" stroke-width="1.4" fill="none"/>
<path d="M389.5 240.6v-3M389.5 28.6v3M418.72 240.6v-3M418.72 28.6v3M447.94 240.6v-3M447.94 28.6v3M477.16 240.6v-3M477.16 28.6v3M506.38 240.6v-3M506.38 28.6v3M535.6 240.6v-3M535.6 28.6v3M564.82 240.6v-3M564.82 28.6v3M594.04 240.6v-3M594.04 28.6v3M623.26 240.6v-3M623.26 28.6v3M652.48 240.6v-3M652.48 28.6v3M681.7 240.6v-3M681.7 28.6v3M389.5 240.6h3M681.7 240.6h-3M389.5 219.4h3M681.7 219.4h-3M389.5 198.2h3M681.7 198.2h-3M389.5 177h3M681.7 177h-3M389.5 155.8h3M681.7 155.8h-3M389.5 134.6h3M681.7 134.6h-3M389.5 113.4h3M681.7 113.4h-3M389.5 92.2h3M681.7 92.2h-3M389.5 71h3M681.7 71h-3M389.5 49.8h3M681.7 49.8h-3M389.5 28.6h3M681.7 28.6h-3" stroke="#c0c0c0" stroke-width="1" fill="none"/>
<path d="M389 28.6H682.2" stroke="#b8b8b8" stroke-width="1.5"/>
<path d="M389 240.6H682.2" stroke="#cfcfcf" stroke-width="2"/>
<path d="M389.5 28.1V241.1" stroke="#c8c8c8" stroke-width="1.5"/>
<path d="M681.7 28.1V241.1" stroke="#acacac" stroke-width="1.3"/>
<g clip-path="url(#c2)" fill="none" stroke-linejoin="round" stroke-linecap="round">
<path d="M389.5 219.4 L389.51 219.06 L389.53 218.04 L389.54 216.34 L389.56 213.98 L389.57 210.99 L389.59 207.37 L389.6 203.16 L389.62 198.39 L389.63 193.1 L389.65 187.33 L389.66 181.12 L389.68 174.51 L389.69 167.57 L389.7 160.33 L389.72 152.87 L389.73 145.23 L389.75 137.47 L389.76 129.65 L389.78 121.84 L389.79 114.08 L389.81 106.45 L389.82 98.99 L389.84 91.77 L389.85 84.84 L389.87 78.25 L389.88 72.06 L389.89 66.31 L389.91 61.04 L389.92 56.29 L389.94 52.11 L389.95 48.52 L389.97 45.55 L389.98 43.23 L390 41.56 L390.01 40.57 L390.03 40.26 L390.04 40.41 L390.06 40.84 L390.07 41.55 L390.09 42.52 L390.1 43.77 L390.11 45.28 L390.13 47.04 L390.14 49.06 L390.16 51.31 L390.17 53.79 L390.19 56.5 L390.2 59.41 L390.22 62.52 L390.23 65.81 L390.25 69.27 L390.26 72.89 L390.28 76.64 L390.29 80.51 L390.3 84.49 L390.32 88.55 L390.33 92.69 L390.35 96.88 L390.36 101.11 L390.38 105.35 L390.39 109.59 L390.41 113.81 L390.42 117.99 L390.44 122.12 L390.45 126.18 L390.47 130.14 L390.48 133.99 L390.49 137.73 L390.51 141.32 L390.52 144.75 L390.54 148.02 L390.55 151.1 L390.57 153.98 L390.58 156.65 L390.6 159.1 L390.61 161.32 L390.63 163.29 L390.64 165.02 L390.66 166.49 L390.67 167.7 L390.68 168.63 L390.7 169.29 L390.71 169.68 L390.73 169.79 L390.74 169.69 L390.76 169.43 L390.77 169.01 L390.79 168.42 L390.8 167.68 L390.82 166.79 L390.83 165.76 L390.85 164.58 L390.86 163.27 L390.88 161.84 L390.89 160.29 L390.9 158.63 L390.92 156.88 L390.93 155.04 L390.95 153.12 L390.96 151.14 L390.98 149.1 L390.99 147.03 L391.01 144.92 L391.02 142.8 L391.04 140.68 L391.05 138.56 L391.07 136.47 L391.08 134.41 L391.09 132.4 L391.11 130.44 L391.12 128.56 L391.14 126.76 L391.15 125.05 L391.17 123.44 L391.18 121.94 L391.2 120.57 L391.21 119.32 L391.23 118.21 L391.24 117.24 L391.26 116.42 L391.27 115.75 L391.28 115.24 L391.3 114.89 L391.31 114.71 L391.33 114.68 L391.34 114.86 L391.36 115.22 L391.37 115.79 L391.39 116.54 L391.4 117.48 L391.42 118.6 L391.43 119.89 L391.45 121.34 L391.46 122.94 L391.47 124.68 L391.49 126.54 L391.5 128.51 L391.52 130.58 L391.53 132.73 L391.55 134.94 L391.56 137.2 L391.58 139.5 L391.59 141.8 L391.61 144.11 L391.62 146.39 L391.64 148.64 L391.65 150.83 L391.67 152.95 L391.68 154.98 L391.69 156.92 L391.71 158.74 L391.72 160.42 L391.74 161.97 L391.75 163.36 L391.77 164.59 L391.78 165.65 L391.8 166.52 L391.81 167.21 L391.83 167.7 L391.84 168 L391.86 168.1 L391.87 168.01 L391.88 167.76 L391.9 167.35 L391.91 166.78 L391.93 166.06 L391.94 165.19 L391.96 164.17 L391.97 163.02 L391.99 161.75 L392 160.37 L392.02 158.88 L392.03 157.3 L392.05 155.65 L392.06 153.93 L392.07 152.16 L392.09 150.36 L392.1 148.53 L392.12 146.7 L392.13 144.88 L392.15 143.09 L392.16 141.33 L392.18 139.63 L392.19 137.99 L392.21 136.44 L392.22 134.97 L392.24 133.61 L392.25 132.37 L392.26 131.26 L392.28 130.28 L392.29 129.44 L392.31 128.76 L392.32 128.23 L392.34 127.86 L392.35 127.65 L392.37 127.61 L392.38 127.71 L392.4 127.96 L392.41 128.34 L392.43 128.86 L392.44 129.51 L392.45 130.29 L392.47 131.2 L392.48 132.22 L392.5 133.35 L392.51 134.58 L392.53 135.91 L392.54 137.32 L392.56 138.81 L392.57 140.37 L392.59 141.99 L392.6 143.65 L392.62 145.34 L392.63 147.06 L392.65 148.8 L392.66 150.53 L392.67 152.26 L392.69 153.96 L392.7 155.63 L392.72 157.26 L392.73 158.83 L392.75 160.34 L392.76 161.77 L392.78 163.12 L392.79 164.38 L392.81 165.54 L392.82 166.59 L392.84 167.52 L392.85 168.33 L392.86 169.02 L392.88 169.57 L392.89 169.99 L392.91 170.27 L392.92 170.41 L392.94 170.4 L392.95 170.21 L392.97 169.81 L392.98 169.22 L393 168.45 L393.01 167.49 L393.03 166.36 L393.04 165.06 L393.05 163.61 L393.07 162.02 L393.08 160.3 L393.1 158.46 L393.11 156.52 L393.13 154.49 L393.14 152.4 L393.16 150.26 L393.17 148.08 L393.19 145.89 L393.2 143.7 L393.22 141.53 L393.23 139.4 L393.24 137.32 L393.26 135.32 L393.27 133.4 L393.29 131.59 L393.3 129.89 L393.32 128.33 L393.33 126.92 L393.35 125.66 L393.36 124.57 L393.38 123.66 L393.39 122.93 L393.41 122.38 L393.42 122.04 L393.44 121.89 L393.45 121.94 L393.46 122.19 L393.48 122.66 L393.49 123.32 L393.51 124.18 L393.52 125.24 L393.54 126.49 L393.55 127.92 L393.57 129.52 L393.58 131.29 L393.6 133.21 L393.61 135.28 L393.63 137.48 L393.64 139.8 L393.65 142.23 L393.67 144.75 L393.68 147.36 L393.7 150.03 L393.71 152.76 L393.73 155.52 L393.74 158.31 L393.76 161.1 L393.77 163.88 L393.79 166.64 L393.8 169.36 L393.82 172.02 L393.83 174.62 L393.84 177.13 L393.86 179.55 L393.87 181.85 L393.89 184.04 L393.9 186.08 L393.92 187.99 L393.93 189.73 L393.95 191.31 L393.96 192.71 L393.98 193.93 L393.99 194.97 L394.01 195.8 L394.02 196.44 L394.03 196.87 L394.05 197.1 L394.06 197.12 L394.08 196.85 L394.09 196.3 L394.11 195.45 L394.12 194.32 L394.14 192.92 L394.15 191.25 L394.17 189.32 L394.18 187.15 L394.2 184.75 L394.21 182.14 L394.23 179.33 L394.24 176.34 L394.25 173.2 L394.27 169.92 L394.28 166.52 L394.3 163.03 L394.31 159.47 L394.33 155.86 L394.34 152.23 L394.36 148.6 L394.37 144.99 L394.39 141.43 L394.4 137.95 L394.42 134.55 L394.43 131.28 L394.44 128.14 L394.46 125.16 L394.47 122.36 L394.49 119.75 L394.5 117.36 L394.52 115.2 L394.53 113.28 L394.55 111.62 L394.56 110.23 L394.58 109.11 L394.59 108.28 L394.61 107.73 L394.62 107.48 L394.63 107.52 L394.65 107.86 L394.66 108.47 L394.68 109.38 L394.69 110.56 L394.71 112.02 L394.72 113.74 L394.74 115.71 L394.75 117.93 L394.77 120.38 L394.78 123.06 L394.8 125.93 L394.81 128.99 L394.82 132.23 L394.84 135.62 L394.85 139.14 L394.87 142.78 L394.88 146.51 L394.9 150.32 L394.91 154.19 L394.93 158.08 L394.94 161.99 L394.96 165.89 L394.97 169.75 L394.99 173.57 L395 177.3 L395.01 180.95 L395.03 184.48 L395.04 187.88 L395.06 191.12 L395.07 194.19 L395.09 197.08 L395.1 199.76 L395.12 202.23 L395.13 204.46 L395.15 206.45 L395.16 208.19 L395.18 209.66 L395.19 210.85 L395.21 211.77 L395.22 212.41 L395.23 212.76 L395.25 212.82 L395.26 212.62 L395.28 212.19 L395.29 211.51 L395.31 210.6 L395.32 209.46 L395.34 208.09 L395.35 206.51 L395.37 204.71 L395.38 202.71 L395.4 200.52 L395.41 198.15 L395.42 195.61 L395.44 192.92 L395.45 190.08 L395.47 187.11 L395.48 184.03 L395.5 180.85 L395.51 177.59 L395.53 174.26 L395.54 170.89 L395.56 167.48 L395.57 164.06 L395.59 160.64 L395.6 157.24 L395.61 153.87 L395.63 150.56 L395.64 147.32 L395.66 144.16 L395.67 141.11 L395.69 138.17 L395.7 135.37 L395.72 132.71 L395.73 130.21 L395.75 127.89 L395.76 125.75 L395.78 123.8 L395.79 122.05 L395.8 120.52 L395.82 119.21 L395.83 118.13 L395.85 117.28 L395.86 116.66 L395.88 116.29 L395.89 116.16 L395.91 116.35 L395.92 116.97 L395.94 118.02 L395.95 119.47 L395.97 121.32 L395.98 123.56 L396 126.15 L396.01 129.08 L396.02 132.32 L396.04 135.84 L396.05 139.61 L396.07 143.6 L396.08 147.75 L396.1 152.05 L396.11 156.45 L396.13 160.9 L396.14 165.37 L396.16 169.82 L396.17 174.2 L396.19 178.48 L396.2 182.61 L396.21 186.56 L396.23 190.3 L396.24 193.78 L396.26 196.97 L396.27 199.86 L396.29 202.4 L396.3 204.57 L396.32 206.37 L396.33 207.76 L396.35 208.74 L396.36 209.3 L396.38 209.43 L396.39 209.33 L396.4 209.07 L396.42 208.65 L396.43 208.09 L396.45 207.38 L396.46 206.53 L396.48 205.53 L396.49 204.4 L396.51 203.13 L396.52 201.74 L396.54 200.23 L396.55 198.6 L396.57 196.86 L396.58 195.03 L396.59 193.1 L396.61 191.09 L396.62 189 L396.64 186.84 L396.65 184.62 L396.67 182.36 L396.68 180.06 L396.7 177.73 L396.71 175.37 L396.73 173.01 L396.74 170.65 L396.76 168.3 L396.77 165.97 L396.79 163.67 L396.8 161.41 L396.81 159.2 L396.83 157.04 L396.84 154.96 L396.86 152.95 L396.87 151.03 L396.89 149.2 L396.9 147.47 L396.92 145.84 L396.93 144.34 L396.95 142.95 L396.96 141.69 L396.98 140.57 L396.99 139.58 L397 138.73 L397.02 138.03 L397.03 137.48 L397.05 137.07 L397.06 136.82 L397.08 136.72 L397.09 136.8 L397.11 137.09 L397.12 137.59 L397.14 138.29 L397.15 139.2 L397.17 140.31 L397.18 141.6 L397.19 143.08 L397.21 144.74 L397.22 146.56 L397.24 148.53 L397.25 150.64 L397.27 152.88 L397.28 155.24 L397.3 157.69 L397.31 160.23 L397.33 162.85 L397.34 165.51 L397.36 168.22 L397.37 170.94 L397.38 173.67 L397.4 176.39 L397.41 179.08 L397.43 181.73 L397.44 184.32 L397.46 186.83 L397.47 189.25 L397.49 191.57 L397.5 193.76 L397.52 195.82 L397.53 197.74 L397.55 199.5 L397.56 201.09 L397.57 202.51 L397.59 203.73 L397.6 204.77 L397.62 205.6 L397.63 206.23 L397.65 206.66 L397.66 206.87 L397.68 206.87 L397.69 206.66 L397.71 206.24 L397.72 205.63 L397.74 204.82 L397.75 203.81 L397.77 202.62 L397.78 201.26 L397.79 199.73 L397.81 198.05 L397.82 196.22 L397.84 194.27 L397.85 192.2 L397.87 190.03 L397.88 187.78 L397.9 185.46 L397.91 183.09 L397.93 180.69 L397.94 178.27 L397.96 175.85 L397.97 173.46 L397.98 171.1 L398 168.8 L398.01 166.57 L398.03 164.42 L398.04 162.38 L398.06 160.46 L398.07 158.67 L398.09 157.03 L398.1 155.54 L398.12 154.22 L398.13 153.08 L398.15 152.13 L398.16 151.37 L398.17 150.81 L398.19 150.45 L398.2 150.29 L398.22 150.36 L398.23 150.65 L398.25 151.18 L398.26 151.93 L398.28 152.91 L398.29 154.1 L398.31 155.5 L398.32 157.09 L398.34 158.86 L398.35 160.79 L398.36 162.87 L398.38 165.09 L398.39 167.42 L398.41 169.85 L398.42 172.35 L398.44 174.91 L398.45 177.5 L398.47 180.1 L398.48 182.7 L398.5 185.27 L398.51 187.79 L398.53 190.23 L398.54 192.59 L398.56 194.84 L398.57 196.95 L398.58 198.93 L398.6 200.74 L398.61 202.37 L398.63 203.81 L398.64 205.06 L398.66 206.09 L398.67 206.9 L398.69 207.48 L398.7 207.83 L398.72 207.95 L398.72 185.59 L399.01 208.44 L399.3 185.8 L399.59 207.81 L399.88 187.08 L400.18 207.47 L400.47 186.36 L400.76 207.74 L401.05 187.33 L401.35 208.59 L401.64 187.88 L401.93 207.36 L402.22 187.12 L402.51 207.39 L402.81 187.6 L403.1 208.08 L403.39 188.7 L403.68 207.56 L403.98 187.59 L404.27 208.16 L404.56 187.97 L404.85 208.3 L405.14 187.36 L405.44 208.36 L405.73 188 L406.02 208.91 L406.31 187.61 L406.61 208.39 L406.9 187.06 L407.19 208.65 L407.48 188.32 L407.77 208.37 L408.07 187.85 L408.36 207.32 L408.65 189.28 L408.94 207 L409.24 188.63 L409.53 207.7 L409.82 188.89 L410.11 206.6 L410.4 189.59 L410.7 207.22 L410.99 190.18 L411.28 205.71 L411.57 191.13 L411.86 206.34 L412.16 190.49 L412.45 205.09 L412.74 191.15 L413.03 205.36 L413.33 190.36 L413.62 206.26 L413.91 191.18 L414.2 205.66 L414.49 190.2 L414.79 204.85 L415.08 190.96 L415.37 205 L415.66 190.07 L415.96 204.87 L416.25 189.79 L416.54 204.8 L416.83 190.04 L417.12 205.56 L417.42 189.87 L417.71 204.75 L418 189.13 L418.29 205.99 L418.59 189.2 L418.88 205.89 L419.17 188.26 L419.46 206.06 L419.75 189.13 L420.05 206.06 L420.34 190.86 L420.63 205.97 L420.92 192.87 L421.22 205.88 L421.51 192.85 L421.8 205.45 L422.09 192.69 L422.38 205.09 L422.68 192.62 L422.97 204.5 L423.26 193.41 L423.55 203.12 L423.85 192.67 L424.14 202.79 L424.43 193.85 L424.72 203.3 L425.01 193.39 L425.31 202.78 L425.6 192.53 L425.89 202.15 L426.18 191.99 L426.47 202.6 L426.77 192.04 L427.06 201.86 L427.35 191.15 L427.64 202.04 L427.94 190.3 L428.23 202.3 L428.52 185.78 L428.81 202.69 L429.1 185.14 L429.4 202.98 L429.69 185.16 L429.98 202.04 L430.27 187.97 L430.57 202.86 L430.86 191 L431.15 201.47 L431.44 194.55 L431.73 200.38 L432.03 194.23 L432.32 199.67 L432.61 194.34 L432.9 198.49 L433.2 194.23 L433.49 198.98 L433.78 194.47 L434.07 198.68 L434.36 195.61 L434.66 199.76 L434.95 194.62 L435.24 199.61 L435.53 194.81 L435.83 200.64 L436.12 194.44 L436.41 199.8 L436.7 195.23 L436.99 198.83 L437.29 194.91 L437.58 198.03 L437.87 194.71 L438.16 197.72 L438.46 194.92 L438.75 197.2 L439.04 195.09 L439.33 197.44 L439.62 195.76 L439.92 196.81 L440.21 196.46 L440.34 196.4 L441.51 196.4 L442.68 196.4 L443.85 196.4 L445.02 196.4 L446.19 196.4 L447.36 196.4 L448.52 196.4 L449.69 196.4 L450.86 196.4 L452.03 196.4 L453.2 196.4 L454.37 196.4 L455.54 196.4 L456.71 196.4 L457.87 196.4 L459.04 196.4 L460.21 196.4 L461.38 196.4 L462.55 196.4 L463.72 196.4 L464.89 196.4 L466.06 196.4 L467.23 196.4 L468.39 196.4 L469.56 196.4 L470.73 196.4 L471.9 196.4 L473.07 196.4 L474.24 196.4 L475.41 196.4 L476.58 196.4 L477.74 196.4 L478.91 196.4 L480.08 196.4 L481.25 196.4 L482.42 196.4 L483.59 196.4 L484.76 196.4 L485.93 196.4 L487.09 196.4 L488.26 196.4 L489.43 196.4 L490.6 196.4 L491.77 196.4 L492.94 196.4 L494.11 196.4 L495.28 196.4 L496.45 196.4 L497.61 196.4 L498.78 196.4 L499.95 196.4 L501.12 196.4 L502.29 196.4 L503.46 196.4 L504.63 196.4 L505.8 196.4 L506.96 196.4 L508.13 196.4 L509.3 196.4 L510.47 196.4 L511.64 196.4 L512.81 196.4 L513.98 196.4 L515.15 196.4 L516.31 196.4 L517.48 196.4 L518.65 196.4 L519.82 196.4 L520.99 196.4 L522.16 196.4 L523.33 196.4 L524.5 196.4 L525.67 196.4 L526.83 196.4 L528 196.4 L529.17 196.4 L530.34 196.4 L531.51 196.4 L532.68 196.4 L533.85 196.4 L535.02 196.4 L536.18 196.4 L537.35 196.4 L538.52 196.4 L539.69 196.4 L540.86 196.4 L542.03 196.4 L543.2 196.4 L544.37 196.4 L545.53 196.4 L546.7 196.4 L547.87 196.4 L549.04 196.4 L550.21 196.4 L551.38 196.4 L552.55 196.4 L553.72 196.4 L554.89 196.4 L556.05 196.4 L557.22 196.4 L558.39 196.4 L559.56 196.4 L560.73 196.4 L561.9 196.4 L563.07 196.4 L564.24 196.4 L564.53 196.4 L564.82 196.4 L564.82 231.27 L565 214.31 L565.17 225.79 L565.4 213.17 L565.64 225.27 L565.87 213.37 L566.11 224.74 L566.34 213.63 L566.57 224.22 L566.81 213.95 L567.04 223.69 L567.27 214.31 L567.51 223.17 L567.74 214.72 L567.98 222.65 L568.21 215.17 L568.44 222.12 L568.68 215.66 L568.91 221.6 L569.14 216.19 L569.38 221.07 L569.61 216.75 L569.85 220.55 L570.08 217.35 L570.31 220.02 L570.55 217.97 L570.78 219.5 L571.01 218.63 L571.25 218.98 L573.47 219.19 L574 222.16 L594.04 222.16 L594.62 222.53 L595.21 222.9 L595.79 223.26 L596.38 223.61 L596.96 223.95 L597.55 224.28 L598.13 224.6 L598.72 224.92 L599.3 225.22 L599.88 225.51 L600.47 225.8 L601.05 226.07 L601.64 226.34 L602.22 226.6 L602.81 226.84 L603.39 227.08 L603.97 227.31 L604.56 227.53 L605.14 227.74 L605.73 227.94 L606.31 228.13 L606.9 228.31 L607.48 228.49 L608.07 228.65 L608.65 228.8 L609.23 228.95 L609.82 229.08 L610.4 229.21 L610.99 229.32 L611.57 229.43 L612.16 229.53 L612.74 229.62 L613.33 229.7 L613.91 229.77 L614.49 229.83 L615.08 229.88 L615.66 229.92 L616.25 229.95 L616.83 229.98 L617.42 229.99 L618 230 L618.58 229.99 L619.17 229.98 L619.75 229.95 L620.34 229.92 L620.92 229.88 L621.51 229.83 L622.09 229.77 L622.68 229.7 L623.26 229.62 L623.84 229.53 L624.43 229.43 L625.01 229.32 L625.6 229.21 L626.18 229.08 L626.77 228.95 L627.35 228.8 L627.94 228.65 L628.52 228.49 L629.1 228.31 L629.69 228.13 L630.27 227.94 L630.86 227.74 L631.44 227.53 L632.03 227.31 L632.49 227.13 L632.49 188.45 L633.19 196.4 L634.95 196.4 L636.7 196.4 L638.45 196.4 L640.21 196.4 L641.96 196.4 L643.71 196.4 L645.47 196.4 L647.22 196.4 L648.97 196.4 L650.73 196.4 L652.48 196.4 L654.23 196.4 L655.99 196.4 L657.74 196.4 L659.49 196.4 L661.25 196.4 L663 196.4 L664.75 196.4 L666.51 196.4 L668.26 196.4 L670.01 196.4 L671.77 196.4 L673.52 196.4 L675.27 196.4 L677.02 196.4 L678.78 196.4 L680.53 196.4 L681.7 196.4" stroke="#0000ff" stroke-width="1.8"/>
</g>
<text x="389.5" y="253.5" font-size="8.5" text-anchor="middle" style="font-kerning:none">0</text>
<text x="418.72" y="253.5" font-size="8.5" text-anchor="middle" style="font-kerning:none">0.5</text>
<text x="447.94" y="253.5" font-size="8.5" text-anchor="middle" style="font-kerning:none">&#8199;</text><path d="M378 0V-709H285C263 -625 190 -582 68 -582V-489H238V0Z" transform="translate(445.58 253.5) scale(0.0085)" fill="#262626"/>
<text x="477.16" y="253.5" font-size="8.5" text-anchor="middle" style="font-kerning:none">&#8199;.5</text><path d="M378 0V-709H285C263 -625 190 -582 68 -582V-489H238V0Z" transform="translate(471.25 253.5) scale(0.0085)" fill="#262626"/>
<text x="506.38" y="253.5" font-size="8.5" text-anchor="middle" style="font-kerning:none">2</text>
<text x="535.6" y="253.5" font-size="8.5" text-anchor="middle" style="font-kerning:none">2.5</text>
<text x="564.82" y="253.5" font-size="8.5" text-anchor="middle" style="font-kerning:none">3</text>
<text x="594.04" y="253.5" font-size="8.5" text-anchor="middle" style="font-kerning:none">3.5</text>
<text x="623.26" y="253.5" font-size="8.5" text-anchor="middle" style="font-kerning:none">4</text>
<text x="652.48" y="253.5" font-size="8.5" text-anchor="middle" style="font-kerning:none">4.5</text>
<text x="681.7" y="253.5" font-size="8.5" text-anchor="middle" style="font-kerning:none">5</text>
<text x="385.6" y="244" font-size="8.5" text-anchor="end" style="font-kerning:none">-&#8199;</text><path d="M378 0V-709H285C263 -625 190 -582 68 -582V-489H238V0Z" transform="translate(380.87 244) scale(0.0085)" fill="#262626"/>
<text x="385.6" y="222.8" font-size="8.5" text-anchor="end" style="font-kerning:none">0</text>
<text x="385.6" y="201.6" font-size="8.5" text-anchor="end" style="font-kerning:none">&#8199;</text><path d="M378 0V-709H285C263 -625 190 -582 68 -582V-489H238V0Z" transform="translate(380.87 201.6) scale(0.0085)" fill="#262626"/>
<text x="385.6" y="180.4" font-size="8.5" text-anchor="end" style="font-kerning:none">2</text>
<text x="385.6" y="159.2" font-size="8.5" text-anchor="end" style="font-kerning:none">3</text>
<text x="385.6" y="138" font-size="8.5" text-anchor="end" style="font-kerning:none">4</text>
<text x="385.6" y="116.8" font-size="8.5" text-anchor="end" style="font-kerning:none">5</text>
<text x="385.6" y="95.6" font-size="8.5" text-anchor="end" style="font-kerning:none">6</text>
<text x="385.6" y="74.4" font-size="8.5" text-anchor="end" style="font-kerning:none">7</text>
<text x="385.6" y="53.2" font-size="8.5" text-anchor="end" style="font-kerning:none">8</text>
<text x="385.6" y="32" font-size="8.5" text-anchor="end" style="font-kerning:none">9</text>
<text x="390.2" y="28.2" font-size="10" style="font-weight:normal">&#215;</text>
<text x="396.5" y="27" font-size="8.5" text-anchor="start" style="font-kerning:none">&#8199;0</text><path d="M378 0V-709H285C263 -625 190 -582 68 -582V-489H238V0Z" transform="translate(396.5 27) scale(0.0085)" fill="#262626"/>
<text x="405.4" y="22.8" font-size="6.2">6</text>
<clipPath id="c3"><rect x="453.2" y="41.7" width="139.9" height="111.2"/></clipPath>
<rect x="454.7" y="43.2" width="136.9" height="108.2" fill="#fff"/>
<path d="M488.93 43.2V151.4M523.15 43.2V151.4M557.38 43.2V151.4" stroke="#f4f4f4" stroke-width="1.4" fill="none"/>
<path d="M454.7 129.76H591.6M454.7 108.12H591.6M454.7 86.48H591.6M454.7 64.84H591.6" stroke="#ececec" stroke-width="1.4" fill="none"/>
<path d="M454.7 151.4v-1.5M454.7 43.2v1.5M488.93 151.4v-1.5M488.93 43.2v1.5M523.15 151.4v-1.5M523.15 43.2v1.5M557.38 151.4v-1.5M557.38 43.2v1.5M591.6 151.4v-1.5M591.6 43.2v1.5M454.7 151.4h1.5M591.6 151.4h-1.5M454.7 129.76h1.5M591.6 129.76h-1.5M454.7 108.12h1.5M591.6 108.12h-1.5M454.7 86.48h1.5M591.6 86.48h-1.5M454.7 64.84h1.5M591.6 64.84h-1.5M454.7 43.2h1.5M591.6 43.2h-1.5" stroke="#b8b8b8" stroke-width="1" fill="none"/>
<path d="M454.2 43.2H592.1" stroke="#bbbbbb" stroke-width="2"/>
<path d="M454.2 151.4H592.1" stroke="#a8a8a8" stroke-width="1.4"/>
<path d="M454.7 42.7V151.9" stroke="#cccccc" stroke-width="2"/>
<path d="M591.6 42.7V151.9" stroke="#b0b0b0" stroke-width="1.5"/>
<g clip-path="url(#c3)" fill="none" stroke-linejoin="round" stroke-linecap="round">
<path d="M454.7 151.4 L454.81 151.09 L454.93 150.17 L455.04 148.64 L455.16 146.54 L455.27 143.88 L455.38 140.7 L455.5 137.06 L455.61 132.98 L455.73 128.54 L455.84 123.79 L455.95 118.8 L456.07 113.62 L456.18 108.34 L456.3 103.03 L456.41 97.75 L456.53 92.57 L456.64 87.58 L456.75 82.83 L456.87 78.39 L456.98 74.31 L457.1 70.67 L457.21 67.49 L457.32 64.83 L457.44 62.73 L457.55 61.2 L457.67 60.28 L457.78 59.97 L457.89 60.1 L458.01 60.47 L458.12 61.1 L458.24 61.96 L458.35 63.07 L458.46 64.4 L458.58 65.95 L458.69 67.7 L458.81 69.65 L458.92 71.78 L459.04 74.07 L459.15 76.5 L459.26 79.06 L459.38 81.72 L459.49 84.47 L459.61 87.29 L459.72 90.15 L459.83 93.03 L459.95 95.91 L460.06 98.77 L460.18 101.58 L460.29 104.33 L460.4 107 L460.52 109.55 L460.63 111.99 L460.75 114.27 L460.86 116.4 L460.97 118.35 L461.09 120.1 L461.2 121.65 L461.32 122.98 L461.43 124.09 L461.55 124.95 L461.66 125.58 L461.77 125.96 L461.89 126.08 L462 126.01 L462.12 125.79 L462.23 125.42 L462.34 124.91 L462.46 124.27 L462.57 123.5 L462.69 122.6 L462.8 121.6 L462.91 120.49 L463.03 119.3 L463.14 118.03 L463.26 116.69 L463.37 115.31 L463.48 113.89 L463.6 112.45 L463.71 111.01 L463.83 109.57 L463.94 108.17 L464.05 106.8 L464.17 105.49 L464.28 104.25 L464.4 103.08 L464.51 102.02 L464.63 101.06 L464.74 100.21 L464.85 99.49 L464.97 98.9 L465.08 98.45 L465.2 98.14 L465.31 97.98 L465.42 97.96 L465.54 98.13 L465.65 98.47 L465.77 98.98 L465.88 99.66 L465.99 100.5 L466.11 101.48 L466.22 102.6 L466.34 103.84 L466.45 105.18 L466.56 106.6 L466.68 108.09 L466.79 109.63 L466.91 111.19 L467.02 112.76 L467.14 114.31 L467.25 115.83 L467.36 117.28 L467.48 118.67 L467.59 119.96 L467.71 121.14 L467.82 122.19 L467.93 123.11 L468.05 123.87 L468.16 124.46 L468.28 124.89 L468.39 125.14 L468.5 125.21 L468.62 125.13 L468.73 124.89 L468.85 124.5 L468.96 123.98 L469.07 123.33 L469.19 122.55 L469.3 121.67 L469.42 120.68 L469.53 119.61 L469.64 118.48 L469.76 117.29 L469.87 116.06 L469.99 114.82 L470.1 113.58 L470.22 112.36 L470.33 111.17 L470.44 110.04 L470.56 108.98 L470.67 108.01 L470.79 107.13 L470.9 106.36 L471.01 105.72 L471.13 105.22 L471.24 104.85 L471.36 104.62 L471.47 104.55 L471.58 104.61 L471.7 104.8 L471.81 105.12 L471.93 105.55 L472.04 106.1 L472.15 106.76 L472.27 107.52 L472.38 108.38 L472.5 109.31 L472.61 110.32 L472.73 111.39 L472.84 112.51 L472.95 113.66 L473.07 114.83 L473.18 116.01 L473.3 117.18 L473.41 118.33 L473.52 119.45 L473.64 120.53 L473.75 121.54 L473.87 122.49 L473.98 123.35 L474.09 124.12 L474.21 124.79 L474.32 125.35 L474.44 125.8 L474.55 126.13 L474.66 126.33 L474.78 126.41 L474.89 126.33 L475.01 126.08 L475.12 125.66 L475.24 125.07 L475.35 124.31 L475.46 123.41 L475.58 122.37 L475.69 121.21 L475.81 119.95 L475.92 118.6 L476.03 117.19 L476.15 115.73 L476.26 114.24 L476.38 112.75 L476.49 111.28 L476.6 109.85 L476.72 108.48 L476.83 107.19 L476.95 106 L477.06 104.92 L477.17 103.98 L477.29 103.18 L477.4 102.54 L477.52 102.06 L477.63 101.76 L477.74 101.63 L477.86 101.69 L477.97 101.93 L478.09 102.36 L478.2 102.97 L478.32 103.75 L478.43 104.7 L478.54 105.8 L478.66 107.05 L478.77 108.44 L478.89 109.95 L479 111.56 L479.11 113.27 L479.23 115.04 L479.34 116.88 L479.46 118.75 L479.57 120.64 L479.68 122.54 L479.8 124.42 L479.91 126.26 L480.03 128.05 L480.14 129.77 L480.25 131.4 L480.37 132.93 L480.48 134.35 L480.6 135.63 L480.71 136.76 L480.83 137.74 L480.94 138.56 L481.05 139.2 L481.17 139.67 L481.28 139.95 L481.4 140.04 L481.51 139.91 L481.62 139.51 L481.74 138.85 L481.85 137.94 L481.97 136.79 L482.08 135.4 L482.19 133.81 L482.31 132.02 L482.42 130.06 L482.54 127.95 L482.65 125.71 L482.76 123.38 L482.88 120.97 L482.99 118.51 L483.11 116.04 L483.22 113.59 L483.33 111.17 L483.45 108.83 L483.56 106.58 L483.68 104.45 L483.79 102.48 L483.91 100.67 L484.02 99.06 L484.13 97.65 L484.25 96.48 L484.36 95.54 L484.48 94.86 L484.59 94.43 L484.7 94.27 L484.82 94.38 L484.93 94.74 L485.05 95.37 L485.16 96.24 L485.27 97.36 L485.39 98.71 L485.5 100.28 L485.62 102.05 L485.73 104.01 L485.84 106.14 L485.96 108.41 L486.07 110.81 L486.19 113.31 L486.3 115.88 L486.42 118.51 L486.53 121.16 L486.64 123.81 L486.76 126.44 L486.87 129.01 L486.99 131.51 L487.1 133.91 L487.21 136.18 L487.33 138.31 L487.44 140.26 L487.56 142.04 L487.67 143.61 L487.78 144.96 L487.9 146.07 L488.01 146.95 L488.13 147.57 L488.24 147.94 L488.35 148.04 L488.47 147.91 L488.58 147.56 L488.7 147 L488.81 146.22 L488.93 145.24 L489.04 144.07 L489.15 142.72 L489.27 141.19 L489.38 139.5 L489.5 137.67 L489.61 135.71 L489.72 133.64 L489.84 131.48 L489.95 129.25 L490.07 126.97 L490.18 124.66 L490.29 122.33 L490.41 120.01 L490.52 117.72 L490.64 115.49 L490.75 113.32 L490.86 111.24 L490.98 109.27 L491.09 107.43 L491.21 105.73 L491.32 104.18 L491.43 102.81 L491.55 101.62 L491.66 100.62 L491.78 99.82 L491.89 99.24 L492.01 98.86 L492.12 98.71 L492.23 98.83 L492.35 99.33 L492.46 100.21 L492.58 101.45 L492.69 103.04 L492.8 104.94 L492.92 107.13 L493.03 109.57 L493.15 112.22 L493.26 115.04 L493.37 117.98 L493.49 120.99 L493.6 124.03 L493.72 127.04 L493.83 129.98 L493.94 132.8 L494.06 135.45 L494.17 137.89 L494.29 140.08 L494.4 141.98 L494.52 143.57 L494.63 144.81 L494.74 145.69 L494.86 146.19 L494.97 146.31 L495.09 146.21 L495.2 145.98 L495.31 145.61 L495.43 145.1 L495.54 144.47 L495.66 143.71 L495.77 142.83 L495.88 141.83 L496 140.74 L496.11 139.54 L496.23 138.26 L496.34 136.9 L496.45 135.47 L496.57 133.98 L496.68 132.44 L496.8 130.88 L496.91 129.28 L497.02 127.68 L497.14 126.07 L497.25 124.48 L497.37 122.92 L497.48 121.39 L497.6 119.9 L497.71 118.48 L497.82 117.13 L497.94 115.85 L498.05 114.67 L498.17 113.58 L498.28 112.6 L498.39 111.73 L498.51 110.98 L498.62 110.36 L498.74 109.87 L498.85 109.51 L498.96 109.29 L499.08 109.2 L499.19 109.28 L499.31 109.55 L499.42 110.01 L499.53 110.65 L499.65 111.46 L499.76 112.45 L499.88 113.59 L499.99 114.88 L500.11 116.3 L500.22 117.84 L500.33 119.47 L500.45 121.19 L500.56 122.97 L500.68 124.79 L500.79 126.64 L500.9 128.5 L501.02 130.34 L501.13 132.15 L501.25 133.9 L501.36 135.58 L501.47 137.16 L501.59 138.64 L501.7 140 L501.82 141.22 L501.93 142.28 L502.04 143.18 L502.16 143.92 L502.27 144.46 L502.39 144.83 L502.5 145 L502.62 144.98 L502.73 144.78 L502.84 144.39 L502.96 143.82 L503.07 143.08 L503.19 142.18 L503.3 141.13 L503.41 139.94 L503.53 138.63 L503.64 137.22 L503.76 135.72 L503.87 134.15 L503.98 132.54 L504.1 130.9 L504.21 129.26 L504.33 127.63 L504.44 126.05 L504.55 124.52 L504.67 123.07 L504.78 121.71 L504.9 120.47 L505.01 119.37 L505.12 118.4 L505.24 117.6 L505.35 116.96 L505.47 116.5 L505.58 116.22 L505.7 116.13 L505.81 116.23 L505.92 116.55 L506.04 117.08 L506.15 117.8 L506.27 118.71 L506.38 119.8 L506.49 121.05 L506.61 122.44 L506.72 123.95 L506.84 125.56 L506.95 127.25 L507.06 128.99 L507.18 130.75 L507.29 132.52 L507.41 134.26 L507.52 135.96 L507.63 137.58 L507.75 139.1 L507.86 140.5 L507.98 141.77 L508.09 142.87 L508.21 143.8 L508.32 144.54 L508.43 145.09 L508.55 145.43 L508.66 145.56 L508.78 145.54 L508.89 145.47 L509 145.36 L509.12 145.21 L509.23 145.01 L509.35 144.77 L509.46 144.5 L509.57 144.18 L509.69 143.83 L509.8 143.45 L509.92 143.04 L510.03 142.61 L510.14 142.16 L510.26 141.7 L510.37 141.22 L510.49 140.73 L510.6 140.24 L510.71 139.75 L510.83 139.27 L510.94 138.8 L511.06 138.34 L511.17 137.9 L511.29 137.48 L511.4 137.08 L511.51 136.72 L511.63 136.39 L511.74 136.09 L511.86 135.83 L511.97 135.61 L512.08 135.43 L512.2 135.3 L512.31 135.22 L512.43 135.17 L512.54 135.18 L512.65 135.23 L512.77 135.33 L512.88 135.47 L513 135.66 L513.11 135.89 L513.22 136.16 L513.34 136.47 L513.45 136.81 L513.57 137.18 L513.68 137.57 L513.8 137.99 L513.91 138.42 L514.02 138.87 L514.14 139.32 L514.25 139.77 L514.37 140.22 L514.48 140.66 L514.59 141.09 L514.71 141.5 L514.82 141.89 L514.94 142.26 L515.05 142.59 L515.16 142.89 L515.28 143.15 L515.39 143.37 L515.51 143.55 L515.62 143.69 L515.73 143.78 L515.85 143.82 L515.96 143.82 L516.08 143.77 L516.19 143.67 L516.3 143.52 L516.42 143.33 L516.53 143.1 L516.65 142.83 L516.76 142.53 L516.88 142.19 L516.99 141.82 L517.1 141.42 L517.22 141.01 L517.33 140.57 L517.45 140.13 L517.56 139.68 L517.67 139.23 L517.79 138.78 L517.9 138.33 L518.02 137.9 L518.13 137.49 L518.24 137.1 L518.36 136.74 L518.47 136.41 L518.59 136.11 L518.7 135.84 L518.81 135.62 L518.93 135.44 L519.04 135.31 L519.16 135.22 L519.27 135.17 L519.39 135.18 L519.5 135.23 L519.61 135.33 L519.73 135.47 L519.84 135.66 L519.96 135.89 L520.07 136.16 L520.18 136.47 L520.3 136.81 L520.41 137.18 L520.53 137.57 L520.64 137.99 L520.75 138.42 L520.87 138.87 L520.98 139.32 L521.1 139.77 L521.21 140.22 L521.32 140.66 L521.44 141.09 L521.55 141.5 L521.67 141.89 L521.78 142.26 L521.9 142.59 L522.01 142.89 L522.12 143.15 L522.24 143.37 L522.35 143.55 L522.47 143.69 L522.58 143.78 L522.69 143.82 L522.81 143.82 L522.92 143.77 L523.04 143.67 L523.15 143.52 L523.26 143.33 L523.38 143.1 L523.49 142.83 L523.61 142.53 L523.72 142.19 L523.83 141.82 L523.95 141.42 L524.06 141.01 L524.18 140.57 L524.29 140.13 L524.4 139.68 L524.52 139.23 L524.63 138.78 L524.75 138.33 L524.86 137.9 L524.98 137.49 L525.09 137.1 L525.2 136.74 L525.32 136.41 L525.43 136.11 L525.55 135.84 L525.66 135.62 L525.77 135.44 L525.89 135.31 L526 135.22 L526.12 135.17 L526.23 135.18 L526.34 135.23 L526.46 135.33 L526.57 135.47 L526.69 135.66 L526.8 135.89 L526.91 136.16 L527.03 136.47 L527.14 136.81 L527.26 137.18 L527.37 137.57 L527.49 137.99 L527.6 138.42 L527.71 138.87 L527.83 139.32 L527.94 139.77 L528.06 140.22 L528.17 140.66 L528.28 141.09 L528.4 141.5 L528.51 141.89 L528.63 142.26 L528.74 142.59 L528.85 142.89 L528.97 143.15 L529.08 143.37 L529.2 143.55 L529.31 143.69 L529.42 143.78 L529.54 143.82 L529.65 143.82 L529.77 143.77 L529.88 143.67 L530 143.52 L530.11 143.33 L530.22 143.1 L530.34 142.83 L530.45 142.53 L530.57 142.19 L530.68 141.82 L530.79 141.42 L530.91 141.01 L531.02 140.57 L531.14 140.13 L531.25 139.68 L531.36 139.23 L531.48 138.78 L531.59 138.33 L531.71 137.9 L531.82 137.49 L531.93 137.1 L532.05 136.74 L532.16 136.41 L532.28 136.11 L532.39 135.84 L532.5 135.62 L532.62 135.44 L532.73 135.31 L532.85 135.22 L532.96 135.17 L533.08 135.18 L533.19 135.23 L533.3 135.33 L533.42 135.47 L533.53 135.66 L533.65 135.89 L533.76 136.16 L533.87 136.47 L533.99 136.81 L534.1 137.18 L534.22 137.57 L534.33 137.99 L534.44 138.42 L534.56 138.87 L534.67 139.32 L534.79 139.77 L534.9 140.22 L535.01 140.66 L535.13 141.09 L535.24 141.5 L535.36 141.89 L535.47 142.26 L535.59 142.59 L535.7 142.89 L535.81 143.15 L535.93 143.37 L536.04 143.55 L536.16 143.69 L536.27 143.78 L536.38 143.82 L536.5 143.82 L536.61 143.77 L536.73 143.67 L536.84 143.52 L536.95 143.33 L537.07 143.1 L537.18 142.83 L537.3 142.53 L537.41 142.19 L537.52 141.82 L537.64 141.42 L537.75 141.01 L537.87 140.57 L537.98 140.13 L538.09 139.68 L538.21 139.23 L538.32 138.78 L538.44 138.33 L538.55 137.9 L538.67 137.49 L538.78 137.1 L538.89 136.74 L539.01 136.41 L539.12 136.11 L539.24 135.84 L539.35 135.62 L539.46 135.44 L539.58 135.31 L539.69 135.22 L539.81 135.17 L539.92 135.18 L540.03 135.23 L540.15 135.33 L540.26 135.47 L540.38 135.66 L540.49 135.89 L540.6 136.16 L540.72 136.47 L540.83 136.81 L540.95 137.18 L541.06 137.57 L541.18 137.99 L541.29 138.42 L541.4 138.87 L541.52 139.32 L541.63 139.77 L541.75 140.22 L541.86 140.66 L541.97 141.09 L542.09 141.5 L542.2 141.89 L542.32 142.26 L542.43 142.59 L542.54 142.89 L542.66 143.15 L542.77 143.37 L542.89 143.55 L543 143.69 L543.11 143.78 L543.23 143.82 L543.34 143.82 L543.46 143.77 L543.57 143.67 L543.69 143.52 L543.8 143.33 L543.91 143.1 L544.03 142.83 L544.14 142.53 L544.26 142.19 L544.37 141.82 L544.48 141.42 L544.6 141.01 L544.71 140.57 L544.83 140.13 L544.94 139.68 L545.05 139.23 L545.17 138.78 L545.28 138.33 L545.4 137.9 L545.51 137.49 L545.62 137.1 L545.74 136.74 L545.85 136.41 L545.97 136.11 L546.08 135.84 L546.19 135.62 L546.31 135.44 L546.42 135.31 L546.54 135.22 L546.65 135.17 L546.77 135.18 L546.88 135.23 L546.99 135.33 L547.11 135.47 L547.22 135.66 L547.34 135.89 L547.45 136.16 L547.56 136.47 L547.68 136.81 L547.79 137.18 L547.91 137.57 L548.02 137.99 L548.13 138.42 L548.25 138.87 L548.36 139.32 L548.48 139.77 L548.59 140.22 L548.7 140.66 L548.82 141.09 L548.93 141.5 L549.05 141.89 L549.16 142.26 L549.28 142.59 L549.39 142.89 L549.5 143.15 L549.62 143.37 L549.73 143.55 L549.85 143.69 L549.96 143.78 L550.07 143.82 L550.19 143.82 L550.3 143.77 L550.42 143.67 L550.53 143.52 L550.64 143.33 L550.76 143.1 L550.87 142.83 L550.99 142.53 L551.1 142.19 L551.21 141.82 L551.33 141.42 L551.44 141.01 L551.56 140.57 L551.67 140.13 L551.78 139.68 L551.9 139.23 L552.01 138.78 L552.13 138.33 L552.24 137.9 L552.36 137.49 L552.47 137.1 L552.58 136.74 L552.7 136.41 L552.81 136.11 L552.93 135.84 L553.04 135.62 L553.15 135.44 L553.27 135.31 L553.38 135.22 L553.5 135.17 L553.61 135.18 L553.72 135.23 L553.84 135.33 L553.95 135.47 L554.07 135.66 L554.18 135.89 L554.29 136.16 L554.41 136.47 L554.52 136.81 L554.64 137.18 L554.75 137.57 L554.87 137.99 L554.98 138.42 L555.09 138.87 L555.21 139.32 L555.32 139.77 L555.44 140.22 L555.55 140.66 L555.66 141.09 L555.78 141.5 L555.89 141.89 L556.01 142.26 L556.12 142.59 L556.23 142.89 L556.35 143.15 L556.46 143.37 L556.58 143.55 L556.69 143.69 L556.8 143.78 L556.92 143.82 L557.03 143.82 L557.15 143.77 L557.26 143.67 L557.38 143.52 L557.49 143.33 L557.6 143.1 L557.72 142.83 L557.83 142.53 L557.95 142.19 L558.06 141.82 L558.17 141.42 L558.29 141.01 L558.4 140.57 L558.52 140.13 L558.63 139.68 L558.74 139.23 L558.86 138.78 L558.97 138.33 L559.09 137.9 L559.2 137.49 L559.31 137.1 L559.43 136.74 L559.54 136.41 L559.66 136.11 L559.77 135.84 L559.88 135.62 L560 135.44 L560.11 135.31 L560.23 135.22 L560.34 135.17 L560.46 135.18 L560.57 135.23 L560.68 135.33 L560.8 135.47 L560.91 135.66 L561.03 135.89 L561.14 136.16 L561.25 136.47 L561.37 136.81 L561.48 137.18 L561.6 137.57 L561.71 137.99 L561.82 138.42 L561.94 138.87 L562.05 139.32 L562.17 139.77 L562.28 140.22 L562.39 140.66 L562.51 141.09 L562.62 141.5 L562.74 141.89 L562.85 142.26 L562.97 142.59 L563.08 142.89 L563.19 143.15 L563.31 143.37 L563.42 143.55 L563.54 143.69 L563.65 143.78 L563.76 143.82 L563.88 143.82 L563.99 143.77 L564.11 143.67 L564.22 143.52 L564.33 143.33 L564.45 143.1 L564.56 142.83 L564.68 142.53 L564.79 142.19 L564.9 141.82 L565.02 141.42 L565.13 141.01 L565.25 140.57 L565.36 140.13 L565.47 139.68 L565.59 139.23 L565.7 138.78 L565.82 138.33 L565.93 137.9 L566.05 137.49 L566.16 137.1 L566.27 136.74 L566.39 136.41 L566.5 136.11 L566.62 135.84 L566.73 135.62 L566.84 135.44 L566.96 135.31 L567.07 135.22 L567.19 135.17 L567.3 135.18 L567.41 135.23 L567.53 135.33 L567.64 135.47 L567.76 135.66 L567.87 135.89 L567.98 136.16 L568.1 136.47 L568.21 136.81 L568.33 137.18 L568.44 137.57 L568.56 137.99 L568.67 138.42 L568.78 138.87 L568.9 139.32 L569.01 139.77 L569.13 140.22 L569.24 140.66 L569.35 141.09 L569.47 141.5 L569.58 141.89 L569.7 142.26 L569.81 142.59 L569.92 142.89 L570.04 143.15 L570.15 143.37 L570.27 143.55 L570.38 143.69 L570.49 143.78 L570.61 143.82 L570.72 143.82 L570.84 143.77 L570.95 143.67 L571.07 143.52 L571.18 143.33 L571.29 143.1 L571.41 142.83 L571.52 142.53 L571.64 142.19 L571.75 141.82 L571.86 141.42 L571.98 141.01 L572.09 140.57 L572.21 140.13 L572.32 139.68 L572.43 139.23 L572.55 138.78 L572.66 138.33 L572.78 137.9 L572.89 137.49 L573 137.1 L573.12 136.74 L573.23 136.41 L573.35 136.11 L573.46 135.84 L573.57 135.62 L573.69 135.44 L573.8 135.31 L573.92 135.22 L574.03 135.17 L574.15 135.18 L574.26 135.23 L574.37 135.33 L574.49 135.47 L574.6 135.66 L574.72 135.89 L574.83 136.16 L574.94 136.47 L575.06 136.81 L575.17 137.18 L575.29 137.57 L575.4 137.99 L575.51 138.42 L575.63 138.87 L575.74 139.32 L575.86 139.77 L575.97 140.22 L576.08 140.66 L576.2 141.09 L576.31 141.5 L576.43 141.89 L576.54 142.26 L576.66 142.59 L576.77 142.89 L576.88 143.15 L577 143.37 L577.11 143.55 L577.23 143.69 L577.34 143.78 L577.45 143.82 L577.57 143.82 L577.68 143.77 L577.8 143.67 L577.91 143.52 L578.02 143.33 L578.14 143.1 L578.25 142.83 L578.37 142.53 L578.48 142.19 L578.59 141.82 L578.71 141.42 L578.82 141.01 L578.94 140.57 L579.05 140.13 L579.16 139.68 L579.28 139.23 L579.39 138.78 L579.51 138.33 L579.62 137.9 L579.74 137.49 L579.85 137.1 L579.96 136.74 L580.08 136.41 L580.19 136.11 L580.31 135.84 L580.42 135.62 L580.53 135.44 L580.65 135.31 L580.76 135.22 L580.88 135.17 L580.99 135.18 L581.1 135.23 L581.22 135.33 L581.33 135.47 L581.45 135.66 L581.56 135.89 L581.67 136.16 L581.79 136.47 L581.9 136.81 L582.02 137.18 L582.13 137.57 L582.25 137.99 L582.36 138.42 L582.47 138.87 L582.59 139.32 L582.7 139.77 L582.82 140.22 L582.93 140.66 L583.04 141.09 L583.16 141.5 L583.27 141.89 L583.39 142.26 L583.5 142.59 L583.61 142.89 L583.73 143.15 L583.84 143.37 L583.96 143.55 L584.07 143.69 L584.18 143.78 L584.3 143.82 L584.41 143.82 L584.53 143.77 L584.64 143.67 L584.75 143.52 L584.87 143.33 L584.98 143.1 L585.1 142.83 L585.21 142.53 L585.33 142.19 L585.44 141.82 L585.55 141.42 L585.67 141.01 L585.78 140.57 L585.9 140.13 L586.01 139.68 L586.12 139.23 L586.24 138.78 L586.35 138.33 L586.47 137.9 L586.58 137.49 L586.69 137.1 L586.81 136.74 L586.92 136.41 L587.04 136.11 L587.15 135.84 L587.26 135.62 L587.38 135.44 L587.49 135.31 L587.61 135.22 L587.72 135.17 L587.84 135.18 L587.95 135.23 L588.06 135.33 L588.18 135.47 L588.29 135.66 L588.41 135.89 L588.52 136.16 L588.63 136.47 L588.75 136.81 L588.86 137.18 L588.98 137.57 L589.09 137.99 L589.2 138.42 L589.32 138.87 L589.43 139.32 L589.55 139.77 L589.66 140.22 L589.77 140.66 L589.89 141.09 L590 141.5 L590.12 141.89 L590.23 142.26 L590.35 142.59 L590.46 142.89 L590.57 143.15 L590.69 143.37 L590.8 143.55 L590.92 143.69 L591.03 143.78 L591.14 143.82 L591.26 143.82 L591.37 143.77 L591.49 143.67 L591.6 143.52" stroke="#0000ff" stroke-width="2.0"/>
</g>
<text x="454.7" y="163.7" font-size="8.5" text-anchor="middle" style="font-kerning:none">0</text>
<text x="488.93" y="163.7" font-size="8.5" text-anchor="middle" style="font-kerning:none">0.&#8199;</text><path d="M378 0V-709H285C263 -625 190 -582 68 -582V-489H238V0Z" transform="translate(490.11 163.7) scale(0.0085)" fill="#262626"/>
<text x="523.15" y="163.7" font-size="8.5" text-anchor="middle" style="font-kerning:none">0.2</text>
<text x="557.38" y="163.7" font-size="8.5" text-anchor="middle" style="font-kerning:none">0.3</text>
<text x="591.6" y="163.7" font-size="8.5" text-anchor="middle" style="font-kerning:none">0.4</text>
<text x="451.1" y="154.8" font-size="8.5" text-anchor="end" style="font-kerning:none">0</text>
<text x="451.1" y="133.16" font-size="8.5" text-anchor="end" style="font-kerning:none">2</text>
<text x="451.1" y="111.52" font-size="8.5" text-anchor="end" style="font-kerning:none">4</text>
<text x="451.1" y="89.88" font-size="8.5" text-anchor="end" style="font-kerning:none">6</text>
<text x="451.1" y="68.24" font-size="8.5" text-anchor="end" style="font-kerning:none">8</text>
<text x="451.1" y="46.6" font-size="8.5" text-anchor="end" style="font-kerning:none">&#8199;0</text><path d="M378 0V-709H285C263 -625 190 -582 68 -582V-489H238V0Z" transform="translate(441.65 46.6) scale(0.0085)" fill="#262626"/>
<text x="455.6" y="42.2" font-size="10" style="font-weight:normal">&#215;</text>
<text x="461.7" y="41" font-size="8.5" text-anchor="start" style="font-kerning:none">&#8199;0</text><path d="M378 0V-709H285C263 -625 190 -582 68 -582V-489H238V0Z" transform="translate(461.7 41) scale(0.0085)" fill="#262626"/>
<text x="471.2" y="36.8" font-size="6.2">6</text>
<clipPath id="c4"><rect x="36" y="333.8" width="305.9" height="226.1"/></clipPath>
<path d="M67.79 335.3V558.4M98.08 335.3V558.4M128.37 335.3V558.4M158.66 335.3V558.4M188.95 335.3V558.4M219.24 335.3V558.4M249.53 335.3V558.4M279.82 335.3V558.4M310.11 335.3V558.4" stroke="#f4f4f4" stroke-width="1.4" fill="none"/>
<path d="M37.5 538.12H340.4M37.5 517.84H340.4M37.5 497.55H340.4M37.5 477.27H340.4M37.5 456.99H340.4M37.5 436.71H340.4M37.5 416.43H340.4M37.5 396.15H340.4M37.5 375.86H340.4M37.5 355.58H340.4" stroke="#ececec" stroke-width="1.4" fill="none"/>
<path d="M37.5 558.4v-3M37.5 335.3v3M67.79 558.4v-3M67.79 335.3v3M98.08 558.4v-3M98.08 335.3v3M128.37 558.4v-3M128.37 335.3v3M158.66 558.4v-3M158.66 335.3v3M188.95 558.4v-3M188.95 335.3v3M219.24 558.4v-3M219.24 335.3v3M249.53 558.4v-3M249.53 335.3v3M279.82 558.4v-3M279.82 335.3v3M310.11 558.4v-3M310.11 335.3v3M340.4 558.4v-3M340.4 335.3v3M37.5 558.4h3M340.4 558.4h-3M37.5 538.12h3M340.4 538.12h-3M37.5 517.84h3M340.4 517.84h-3M37.5 497.55h3M340.4 497.55h-3M37.5 477.27h3M340.4 477.27h-3M37.5 456.99h3M340.4 456.99h-3M37.5 436.71h3M340.4 436.71h-3M37.5 416.43h3M340.4 416.43h-3M37.5 396.15h3M340.4 396.15h-3M37.5 375.86h3M340.4 375.86h-3M37.5 355.58h3M340.4 355.58h-3M37.5 335.3h3M340.4 335.3h-3" stroke="#a8a8a8" stroke-width="1" fill="none"/>
<path d="M37 335.3H340.9" stroke="#b8b8b8" stroke-width="1.5"/>
<path d="M37 558.4H340.9" stroke="#8c8c8c" stroke-width="1.3"/>
<path d="M37.5 334.8V558.9" stroke="#b3b3b3" stroke-width="1.3"/>
<path d="M340.4 334.8V558.9" stroke="#a3a3a3" stroke-width="1.2"/>
<g clip-path="url(#c4)" fill="none" stroke-linejoin="round" stroke-linecap="round">
<path d="M37.5 538.12 L37.52 537.9 L37.53 537.23 L37.55 536.13 L37.56 534.59 L37.58 532.64 L37.59 530.28 L37.61 527.54 L37.62 524.43 L37.64 520.97 L37.65 517.19 L37.67 513.12 L37.68 508.79 L37.7 504.23 L37.71 499.47 L37.73 494.54 L37.74 489.49 L37.76 484.35 L37.77 479.15 L37.79 473.94 L37.8 468.76 L37.82 463.63 L37.83 458.6 L37.85 453.71 L37.86 448.98 L37.88 444.46 L37.89 440.18 L37.91 436.17 L37.92 432.45 L37.94 429.06 L37.95 426.02 L37.97 423.35 L37.98 421.08 L38 419.21 L38.01 417.76 L38.03 416.74 L38.05 416.16 L38.06 416.03 L38.08 416.19 L38.09 416.59 L38.11 417.22 L38.12 418.09 L38.14 419.17 L38.15 420.48 L38.17 422 L38.18 423.72 L38.2 425.64 L38.21 427.74 L38.23 430.02 L38.24 432.46 L38.26 435.05 L38.27 437.77 L38.29 440.62 L38.3 443.57 L38.32 446.61 L38.33 449.72 L38.35 452.89 L38.36 456.11 L38.38 459.34 L38.39 462.59 L38.41 465.82 L38.42 469.03 L38.44 472.19 L38.45 475.29 L38.47 478.31 L38.48 481.24 L38.5 484.07 L38.51 486.76 L38.53 489.32 L38.55 491.73 L38.56 493.97 L38.58 496.04 L38.59 497.92 L38.61 499.6 L38.62 501.08 L38.64 502.34 L38.65 503.39 L38.67 504.2 L38.68 504.79 L38.7 505.14 L38.71 505.26 L38.73 505.19 L38.74 504.98 L38.76 504.63 L38.77 504.14 L38.79 503.52 L38.8 502.77 L38.82 501.9 L38.83 500.9 L38.85 499.79 L38.86 498.58 L38.88 497.26 L38.89 495.86 L38.91 494.37 L38.92 492.8 L38.94 491.18 L38.95 489.5 L38.97 487.77 L38.98 486.01 L39 484.23 L39.01 482.44 L39.03 480.65 L39.04 478.88 L39.06 477.12 L39.08 475.39 L39.09 473.71 L39.11 472.09 L39.12 470.52 L39.14 469.03 L39.15 467.63 L39.17 466.31 L39.18 465.09 L39.2 463.99 L39.21 462.99 L39.23 462.11 L39.24 461.36 L39.26 460.74 L39.27 460.26 L39.29 459.91 L39.3 459.7 L39.32 459.63 L39.33 459.71 L39.35 459.97 L39.36 460.39 L39.38 460.97 L39.39 461.72 L39.41 462.62 L39.42 463.66 L39.44 464.85 L39.45 466.16 L39.47 467.6 L39.48 469.14 L39.5 470.78 L39.51 472.51 L39.53 474.31 L39.54 476.16 L39.56 478.06 L39.57 479.99 L39.59 481.94 L39.61 483.88 L39.62 485.81 L39.64 487.71 L39.65 489.57 L39.67 491.37 L39.68 493.09 L39.7 494.73 L39.71 496.28 L39.73 497.71 L39.74 499.03 L39.76 500.21 L39.77 501.26 L39.79 502.16 L39.8 502.9 L39.82 503.49 L39.83 503.91 L39.85 504.16 L39.86 504.25 L39.88 504.2 L39.89 504.05 L39.91 503.8 L39.92 503.45 L39.94 503.01 L39.95 502.48 L39.97 501.85 L39.98 501.14 L40 500.34 L40.01 499.47 L40.03 498.52 L40.04 497.5 L40.06 496.42 L40.07 495.28 L40.09 494.09 L40.1 492.85 L40.12 491.58 L40.14 490.27 L40.15 488.94 L40.17 487.59 L40.18 486.23 L40.2 484.87 L40.21 483.52 L40.23 482.17 L40.24 480.84 L40.26 479.54 L40.27 478.27 L40.29 477.05 L40.3 475.87 L40.32 474.74 L40.33 473.67 L40.35 472.66 L40.36 471.73 L40.38 470.87 L40.39 470.09 L40.41 469.4 L40.42 468.79 L40.44 468.27 L40.45 467.85 L40.47 467.52 L40.48 467.29 L40.5 467.16 L40.51 467.13 L40.53 467.22 L40.54 467.44 L40.56 467.79 L40.57 468.26 L40.59 468.85 L40.6 469.56 L40.62 470.38 L40.64 471.31 L40.65 472.33 L40.67 473.45 L40.68 474.64 L40.7 475.92 L40.71 477.26 L40.73 478.65 L40.74 480.09 L40.76 481.56 L40.77 483.06 L40.79 484.58 L40.8 486.09 L40.82 487.59 L40.83 489.08 L40.85 490.54 L40.86 491.95 L40.88 493.31 L40.89 494.61 L40.91 495.84 L40.92 496.99 L40.94 498.05 L40.95 499.02 L40.97 499.88 L40.98 500.64 L41 501.27 L41.01 501.79 L41.03 502.19 L41.04 502.46 L41.06 502.6 L41.07 502.61 L41.09 502.5 L41.1 502.26 L41.12 501.9 L41.13 501.42 L41.15 500.82 L41.17 500.11 L41.18 499.28 L41.2 498.36 L41.21 497.34 L41.23 496.23 L41.24 495.04 L41.26 493.77 L41.27 492.44 L41.29 491.06 L41.3 489.63 L41.32 488.17 L41.33 486.68 L41.35 485.18 L41.36 483.67 L41.38 482.17 L41.39 480.68 L41.41 479.23 L41.42 477.81 L41.44 476.43 L41.45 475.12 L41.47 473.87 L41.48 472.69 L41.5 471.6 L41.51 470.6 L41.53 469.69 L41.54 468.89 L41.56 468.2 L41.57 467.62 L41.59 467.16 L41.6 466.83 L41.62 466.61 L41.63 466.53 L41.65 466.57 L41.66 466.74 L41.68 467.05 L41.7 467.49 L41.71 468.06 L41.73 468.75 L41.74 469.57 L41.76 470.49 L41.77 471.53 L41.79 472.67 L41.8 473.9 L41.82 475.21 L41.83 476.6 L41.85 478.06 L41.86 479.57 L41.88 481.13 L41.89 482.72 L41.91 484.34 L41.92 485.97 L41.94 487.61 L41.95 489.23 L41.97 490.83 L41.98 492.41 L42 493.94 L42.01 495.42 L42.03 496.84 L42.04 498.18 L42.06 499.45 L42.07 500.62 L42.09 501.7 L42.1 502.67 L42.12 503.53 L42.13 504.27 L42.15 504.89 L42.16 505.38 L42.18 505.75 L42.19 505.98 L42.21 506.07 L42.23 506.03 L42.24 505.86 L42.26 505.56 L42.27 505.12 L42.29 504.56 L42.3 503.88 L42.32 503.08 L42.33 502.17 L42.35 501.14 L42.36 500.01 L42.38 498.79 L42.39 497.48 L42.41 496.09 L42.42 494.63 L42.44 493.1 L42.45 491.52 L42.47 489.89 L42.48 488.23 L42.5 486.55 L42.51 484.85 L42.53 483.15 L42.54 481.45 L42.56 479.77 L42.57 478.12 L42.59 476.5 L42.6 474.93 L42.62 473.41 L42.63 471.96 L42.65 470.59 L42.66 469.29 L42.68 468.09 L42.69 466.98 L42.71 465.98 L42.73 465.09 L42.74 464.31 L42.76 463.65 L42.77 463.12 L42.79 462.71 L42.8 462.43 L42.82 462.29 L42.83 462.28 L42.85 462.42 L42.86 462.71 L42.88 463.17 L42.89 463.77 L42.91 464.52 L42.92 465.41 L42.94 466.45 L42.95 467.61 L42.97 468.9 L42.98 470.3 L43 471.81 L43.01 473.43 L43.03 475.13 L43.04 476.91 L43.06 478.76 L43.07 480.66 L43.09 482.62 L43.1 484.6 L43.12 486.61 L43.13 488.63 L43.15 490.64 L43.16 492.64 L43.18 494.62 L43.19 496.55 L43.21 498.44 L43.22 500.26 L43.24 502.01 L43.26 503.68 L43.27 505.25 L43.29 506.72 L43.3 508.08 L43.32 509.32 L43.33 510.43 L43.35 511.41 L43.36 512.25 L43.38 512.94 L43.39 513.48 L43.41 513.87 L43.42 514.11 L43.44 514.19 L43.45 514.1 L43.47 513.86 L43.48 513.45 L43.5 512.89 L43.51 512.17 L43.53 511.29 L43.54 510.27 L43.56 509.12 L43.57 507.82 L43.59 506.4 L43.6 504.87 L43.62 503.22 L43.63 501.48 L43.65 499.65 L43.66 497.74 L43.68 495.77 L43.69 493.74 L43.71 491.67 L43.72 489.57 L43.74 487.45 L43.75 485.33 L43.77 483.21 L43.79 481.12 L43.8 479.05 L43.82 477.04 L43.83 475.07 L43.85 473.18 L43.86 471.37 L43.88 469.64 L43.89 468.02 L43.91 466.51 L43.92 465.11 L43.94 463.85 L43.95 462.71 L43.97 461.72 L43.98 460.88 L44 460.19 L44.01 459.66 L44.03 459.28 L44.04 459.07 L44.06 459.02 L44.07 459.15 L44.09 459.47 L44.1 459.97 L44.12 460.65 L44.13 461.51 L44.15 462.54 L44.16 463.74 L44.18 465.1 L44.19 466.6 L44.21 468.25 L44.22 470.03 L44.24 471.92 L44.25 473.93 L44.27 476.04 L44.28 478.22 L44.3 480.48 L44.32 482.8 L44.33 485.16 L44.35 487.55 L44.36 489.95 L44.38 492.35 L44.39 494.74 L44.41 497.1 L44.42 499.42 L44.44 501.67 L44.45 503.86 L44.47 505.97 L44.48 507.97 L44.5 509.87 L44.51 511.65 L44.53 513.3 L44.54 514.8 L44.56 516.16 L44.57 517.35 L44.59 518.38 L44.6 519.24 L44.62 519.93 L44.63 520.43 L44.65 520.74 L44.66 520.87 L44.68 520.83 L44.69 520.61 L44.71 520.22 L44.72 519.68 L44.74 518.97 L44.75 518.11 L44.77 517.09 L44.78 515.92 L44.8 514.62 L44.82 513.18 L44.83 511.61 L44.85 509.93 L44.86 508.13 L44.88 506.24 L44.89 504.26 L44.91 502.19 L44.92 500.06 L44.94 497.87 L44.95 495.64 L44.97 493.37 L44.98 491.08 L45 488.78 L45.01 486.48 L45.03 484.2 L45.04 481.94 L45.06 479.72 L45.07 477.56 L45.09 475.45 L45.1 473.42 L45.12 471.47 L45.13 469.61 L45.15 467.86 L45.16 466.23 L45.18 464.71 L45.19 463.32 L45.21 462.07 L45.22 460.96 L45.24 460.01 L45.25 459.21 L45.27 458.56 L45.28 458.08 L45.3 457.76 L45.31 457.61 L45.33 457.63 L45.35 457.81 L45.36 458.17 L45.38 458.68 L45.39 459.36 L45.41 460.2 L45.42 461.19 L45.44 462.33 L45.45 463.61 L45.47 465.04 L45.48 466.59 L45.5 468.26 L45.51 470.04 L45.53 471.93 L45.54 473.91 L45.56 475.97 L45.57 478.11 L45.59 480.31 L45.6 482.56 L45.62 484.84 L45.63 487.16 L45.65 489.48 L45.66 491.81 L45.68 494.13 L45.69 496.43 L45.71 498.7 L45.72 500.92 L45.74 503.08 L45.75 505.17 L45.77 507.19 L45.78 509.11 L45.8 510.94 L45.81 512.66 L45.83 514.26 L45.84 515.73 L45.86 517.07 L45.88 518.27 L45.89 519.32 L45.91 520.22 L45.92 520.96 L45.94 521.55 L45.95 521.96 L45.97 522.21 L45.98 522.3 L46 522.2 L46.01 521.91 L46.03 521.43 L46.04 520.76 L46.06 519.91 L46.07 518.88 L46.09 517.68 L46.1 516.31 L46.12 514.79 L46.13 513.12 L46.15 511.31 L46.16 509.38 L46.18 507.34 L46.19 505.19 L46.21 502.95 L46.22 500.65 L46.24 498.28 L46.25 495.86 L46.27 493.42 L46.28 490.96 L46.3 488.5 L46.31 486.06 L46.33 483.65 L46.34 481.28 L46.36 478.97 L46.37 476.74 L46.39 474.59 L46.41 472.54 L46.42 470.61 L46.44 468.81 L46.45 467.14 L46.47 465.61 L46.48 464.25 L46.5 463.04 L46.51 462.01 L46.53 461.16 L46.54 460.49 L46.56 460.01 L46.57 459.72 L46.59 459.63 L46.6 459.72 L46.62 459.99 L46.63 460.44 L46.65 461.06 L46.66 461.86 L46.68 462.82 L46.69 463.95 L46.71 465.22 L46.72 466.65 L46.74 468.21 L46.75 469.9 L46.77 471.71 L46.78 473.62 L46.8 475.63 L46.81 477.72 L46.83 479.88 L46.84 482.09 L46.86 484.35 L46.87 486.64 L46.89 488.93 L46.91 491.23 L46.92 493.52 L46.94 495.78 L46.95 497.99 L46.97 500.15 L46.98 502.24 L47 504.25 L47.01 506.16 L47.03 507.97 L47.04 509.66 L47.06 511.22 L47.07 512.64 L47.09 513.92 L47.1 515.05 L47.12 516.01 L47.13 516.81 L47.15 517.43 L47.16 517.88 L47.18 518.15 L47.19 518.24 L47.21 518.18 L47.22 517.98 L47.24 517.66 L47.25 517.22 L47.27 516.64 L47.28 515.95 L47.3 515.14 L47.31 514.22 L47.33 513.19 L47.34 512.05 L47.36 510.82 L47.37 509.49 L47.39 508.08 L47.4 506.6 L47.42 505.04 L47.44 503.42 L47.45 501.75 L47.47 500.03 L47.48 498.28 L47.5 496.5 L47.51 494.7 L47.53 492.89 L47.54 491.08 L47.56 489.28 L47.57 487.5 L47.59 485.75 L47.6 484.03 L47.62 482.36 L47.63 480.74 L47.65 479.18 L47.66 477.7 L47.68 476.29 L47.69 474.96 L47.71 473.73 L47.72 472.59 L47.74 471.56 L47.75 470.64 L47.77 469.83 L47.78 469.14 L47.8 468.56 L47.81 468.12 L47.83 467.8 L47.84 467.6 L47.86 467.54 L47.87 467.62 L47.89 467.89 L47.9 468.32 L47.92 468.92 L47.93 469.68 L47.95 470.61 L47.97 471.68 L47.98 472.9 L48 474.25 L48.01 475.72 L48.03 477.31 L48.04 479 L48.06 480.77 L48.07 482.62 L48.09 484.52 L48.1 486.48 L48.12 488.46 L48.13 490.46 L48.15 492.45 L48.16 494.44 L48.18 496.39 L48.19 498.29 L48.21 500.14 L48.22 501.92 L48.24 503.6 L48.25 505.19 L48.27 506.66 L48.28 508.01 L48.3 509.23 L48.31 510.3 L48.33 511.23 L48.34 511.99 L48.36 512.59 L48.37 513.03 L48.39 513.29 L48.4 513.37 L48.42 513.32 L48.43 513.18 L48.45 512.93 L48.46 512.59 L48.48 512.15 L48.5 511.62 L48.51 511 L48.53 510.29 L48.54 509.51 L48.56 508.64 L48.57 507.7 L48.59 506.7 L48.6 505.63 L48.62 504.5 L48.63 503.33 L48.65 502.11 L48.66 500.85 L48.68 499.56 L48.69 498.25 L48.71 496.93 L48.72 495.59 L48.74 494.25 L48.75 492.92 L48.77 491.61 L48.78 490.31 L48.8 489.04 L48.81 487.8 L48.83 486.61 L48.84 485.46 L48.86 484.37 L48.87 483.34 L48.89 482.37 L48.9 481.48 L48.92 480.66 L48.93 479.92 L48.95 479.26 L48.96 478.7 L48.98 478.22 L49 477.84 L49.01 477.56 L49.03 477.37 L49.04 477.28 L49.06 477.29 L49.07 477.43 L49.09 477.68 L49.1 478.05 L49.12 478.53 L49.13 479.12 L49.15 479.82 L49.16 480.62 L49.18 481.51 L49.19 482.49 L49.21 483.54 L49.22 484.67 L49.24 485.86 L49.25 487.1 L49.27 488.39 L49.28 489.7 L49.3 491.04 L49.31 492.38 L49.33 493.73 L49.34 495.07 L49.36 496.38 L49.37 497.66 L49.39 498.9 L49.4 500.09 L49.42 501.22 L49.43 502.28 L49.45 503.26 L49.46 504.15 L49.48 504.95 L49.49 505.64 L49.51 506.24 L49.53 506.72 L49.54 507.09 L49.56 507.34 L49.57 507.47 L49.59 507.49 L49.6 507.42 L49.62 507.28 L49.63 507.06 L49.65 506.78 L49.66 506.42 L49.68 505.99 L49.69 505.5 L49.71 504.95 L49.72 504.33 L49.74 503.66 L49.75 502.94 L49.77 502.17 L49.78 501.36 L49.8 500.51 L49.81 499.63 L49.83 498.72 L49.84 497.79 L49.86 496.85 L49.87 495.89 L49.89 494.93 L49.9 493.97 L49.92 493.01 L49.93 492.07 L49.95 491.15 L49.96 490.25 L49.98 489.38 L49.99 488.55 L50.01 487.76 L50.02 487.01 L50.04 486.3 L50.06 485.66 L50.07 485.07 L50.09 484.54 L50.1 484.07 L50.12 483.67 L50.13 483.34 L50.15 483.08 L50.16 482.9 L50.18 482.79 L50.19 482.75 L50.21 482.8 L50.22 482.95 L50.24 483.2 L50.25 483.55 L50.27 484 L50.28 484.53 L50.3 485.16 L50.31 485.87 L50.33 486.66 L50.34 487.52 L50.36 488.45 L50.37 489.45 L50.39 490.49 L50.4 491.59 L50.42 492.72 L50.43 493.89 L50.45 495.08 L50.46 496.28 L50.48 497.49 L50.49 498.7 L50.51 499.9 L50.52 501.08 L50.54 502.24 L50.55 503.35 L50.57 504.43 L50.59 505.46 L50.6 506.43 L50.62 507.33 L50.63 508.17 L50.65 508.93 L50.66 509.6 L50.68 510.19 L50.69 510.69 L50.71 511.1 L50.72 511.41 L50.74 511.62 L50.75 511.73 L50.77 511.74 L50.78 511.66 L50.8 511.49 L50.81 511.23 L50.83 510.89 L50.84 510.45 L50.86 509.94 L50.87 509.35 L50.89 508.67 L50.9 507.93 L50.92 507.12 L50.93 506.24 L50.95 505.31 L50.96 504.32 L50.98 503.28 L50.99 502.21 L51.01 501.09 L51.02 499.95 L51.04 498.78 L51.05 497.6 L51.07 496.41 L51.09 495.22 L51.1 494.03 L51.12 492.85 L51.13 491.68 L51.15 490.55 L51.16 489.44 L51.18 488.37 L51.19 487.34 L51.21 486.36 L51.22 485.44 L51.24 484.58 L51.25 483.78 L51.27 483.05 L51.28 482.39 L51.3 481.81 L51.31 481.32 L51.33 480.9 L51.34 480.57 L51.36 480.33 L51.37 480.18 L51.39 480.11 L51.4 480.15 L51.42 480.28 L51.43 480.51 L51.45 480.85 L51.46 481.28 L51.48 481.81 L51.49 482.44 L51.51 483.15 L51.52 483.95 L51.54 484.83 L51.55 485.78 L51.57 486.81 L51.58 487.9 L51.6 489.05 L51.62 490.26 L51.63 491.51 L51.65 492.8 L51.66 494.12 L51.68 495.46 L51.69 496.82 L51.71 498.19 L51.72 499.56 L51.74 500.93 L51.75 502.28 L51.77 503.61 L51.78 504.92 L51.8 506.18 L51.81 507.41 L51.83 508.58 L51.84 509.7 L51.86 510.75 L51.87 511.73 L51.89 512.64 L51.9 513.48 L51.92 514.22 L51.93 514.88 L51.95 515.45 L51.96 515.92 L51.98 516.3 L51.99 516.57 L52.01 516.75 L52.02 516.82 L52.04 516.79 L52.05 516.67 L52.07 516.46 L52.08 516.16 L52.1 515.78 L52.11 515.3 L52.13 514.74 L52.15 514.11 L52.16 513.39 L52.18 512.6 L52.19 511.74 L52.21 510.82 L52.22 509.84 L52.24 508.8 L52.25 507.72 L52.27 506.59 L52.28 505.43 L52.3 504.24 L52.31 503.02 L52.33 501.78 L52.34 500.54 L52.36 499.29 L52.37 498.04 L52.39 496.8 L52.4 495.58 L52.42 494.38 L52.43 493.21 L52.45 492.07 L52.46 490.98 L52.48 489.93 L52.49 488.94 L52.51 488.01 L52.52 487.14 L52.54 486.33 L52.55 485.6 L52.57 484.95 L52.58 484.37 L52.6 483.88 L52.61 483.48 L52.63 483.16 L52.64 482.93 L52.66 482.79 L52.68 482.75 L52.69 482.8 L52.71 482.95 L52.72 483.19 L52.74 483.53 L52.75 483.97 L52.77 484.5 L52.78 485.11 L52.8 485.81 L52.81 486.6 L52.83 487.46 L52.84 488.39 L52.86 489.39 L52.87 490.45 L52.89 491.57 L52.9 492.74 L52.92 493.95 L52.93 495.19 L52.95 496.47 L52.96 497.76 L52.98 499.08 L52.99 500.39 L53.01 501.71 L53.02 503.02 L53.04 504.32 L53.05 505.6 L53.07 506.84 L53.08 508.05 L53.1 509.22 L53.11 510.33 L53.13 511.4 L53.14 512.4 L53.16 513.33 L53.18 514.19 L53.19 514.97 L53.21 515.68 L53.22 516.29 L53.24 516.82 L53.25 517.26 L53.27 517.6 L53.28 517.84 L53.3 517.99 L53.31 518.04 L53.33 518 L53.34 517.89 L53.36 517.72 L53.37 517.46 L53.39 517.15 L53.4 516.76 L53.42 516.31 L53.43 515.8 L53.45 515.23 L53.46 514.6 L53.48 513.92 L53.49 513.2 L53.51 512.43 L53.52 511.62 L53.54 510.78 L53.55 509.91 L53.57 509.02 L53.58 508.11 L53.6 507.19 L53.61 506.26 L53.63 505.33 L53.64 504.4 L53.66 503.49 L53.67 502.59 L53.69 501.71 L53.71 500.86 L53.72 500.04 L53.74 499.25 L53.75 498.51 L53.77 497.81 L53.78 497.16 L53.8 496.57 L53.81 496.03 L53.83 495.56 L53.84 495.15 L53.86 494.8 L53.87 494.52 L53.89 494.31 L53.9 494.18 L53.92 494.11 L53.93 494.12 L53.95 494.19 L53.96 494.32 L53.98 494.52 L53.99 494.78 L54.01 495.1 L54.02 495.48 L54.04 495.91 L54.05 496.39 L54.07 496.92 L54.08 497.5 L54.1 498.12 L54.11 498.78 L54.13 499.47 L54.14 500.18 L54.16 500.92 L54.17 501.68 L54.19 502.45 L54.2 503.23 L54.22 504.01 L54.24 504.78 L54.25 505.55 L54.27 506.3 L54.28 507.04 L54.3 507.75 L54.31 508.43 L54.33 509.08 L54.34 509.69 L54.36 510.26 L54.37 510.78 L54.39 511.26 L54.4 511.68 L54.42 512.04 L54.43 512.35 L54.45 512.6 L54.46 512.78 L54.48 512.91 L54.49 512.96 L54.51 512.96 L54.52 512.87 L54.54 512.72 L54.55 512.5 L54.57 512.2 L54.58 511.84 L54.6 511.41 L54.61 510.93 L54.63 510.38 L54.64 509.78 L54.66 509.13 L54.67 508.44 L54.69 507.72 L54.7 506.95 L54.72 506.17 L54.74 505.36 L54.75 504.53 L54.77 503.7 L54.78 502.87 L54.8 502.05 L54.81 501.23 L54.83 500.43 L54.84 499.66 L54.86 498.92 L54.87 498.21 L54.89 497.55 L54.9 496.93 L54.92 496.36 L54.93 495.85 L54.95 495.4 L54.96 495.01 L54.98 494.69 L54.99 494.44 L55.01 494.25 L55.02 494.14 L55.04 494.11 L55.05 494.15 L55.07 494.26 L55.08 494.45 L55.1 494.72 L55.11 495.06 L55.13 495.48 L55.14 495.96 L55.16 496.5 L55.17 497.11 L55.19 497.77 L55.2 498.49 L55.22 499.25 L55.23 500.06 L55.25 500.9 L55.27 501.78 L55.28 502.68 L55.3 503.6 L55.31 504.53 L55.33 505.46 L55.34 506.4 L55.36 507.33 L55.37 508.25 L55.39 509.15 L55.4 510.03 L55.42 510.87 L55.43 511.68 L55.45 512.44 L55.46 513.16 L55.48 513.82 L55.49 514.43 L55.51 514.97 L55.52 515.45 L55.54 515.87 L55.55 516.21 L55.57 516.47 L55.58 516.67 L55.6 516.78 L55.61 516.82 L55.61 505.73 L55.76 518.25 L55.92 506.4 L56.07 518.16 L56.22 507.36 L56.37 516.12 L56.52 506.94 L56.67 515.64 L56.83 507.05 L56.98 515.99 L57.13 505.67 L57.28 514.54 L57.43 507.18 L57.58 515.53 L57.73 506.75 L57.89 514.7 L58.04 505.8 L58.19 514.18 L58.34 506.18 L58.49 516.66 L58.64 506.21 L58.79 513.86 L58.95 506.08 L59.1 513.82 L59.25 507.65 L59.4 514.82 L59.55 506.44 L59.7 514.88 L59.85 507.05 L60.01 513.71 L60.16 506.92 L60.31 514.21 L60.46 505.82 L60.61 516.22 L60.76 506.18 L60.91 513.81 L61.07 506.28 L61.22 514.52 L61.37 505.69 L61.52 516.58 L61.67 506.21 L61.82 514.1 L61.97 507.07 L62.13 514.08 L62.28 506.26 L62.43 514.73 L62.58 506.61 L62.73 514.93 L62.88 505.91 L63.03 513.2 L63.19 506.07 L63.34 512.85 L63.49 507.57 L63.64 516.75 L63.79 506.6 L63.94 513.5 L64.09 507.63 L64.25 515 L64.4 506.21 L64.55 515.97 L64.7 507.59 L64.85 515.97 L65 506.85 L65.15 516.25 L65.31 506.73 L65.46 512.96 L65.61 505.94 L65.76 513.5 L65.91 495.34 L66.06 513.22 L66.21 481.54 L66.37 515.88 L66.52 481.93 L66.67 514.85 L66.82 480.16 L66.97 516.81 L67.12 487.94 L67.28 514.99 L67.43 498.93 L67.58 516.25 L67.73 501.29 L67.88 515.53 L68.03 502.3 L68.18 516.78 L68.34 502.12 L68.49 513.35 L68.64 498.34 L68.79 512.96 L68.94 494.54 L69.09 513.03 L69.24 493.68 L69.4 515.15 L69.55 493.89 L69.7 512.58 L69.85 499.32 L70 515.14 L70.15 505.28 L70.3 515.45 L70.46 505.77 L70.61 516.13 L70.76 507.36 L70.91 515.35 L71.06 507.56 L71.21 515.47 L71.36 506.21 L71.52 514.38 L71.67 506.05 L71.82 514.9 L71.97 507.61 L72.12 512.8 L72.27 507.31 L72.42 513.8 L72.58 507.52 L72.73 512.51 L72.88 506.78 L73.03 513.38 L73.18 505.77 L73.33 513.29 L73.48 506.58 L73.64 513.18 L73.79 506.97 L73.94 515.04 L74.09 505.77 L74.24 512.39 L74.39 505.93 L74.54 514.19 L74.7 506.36 L74.85 514.85 L75 507.17 L75.15 512.04 L75.3 506.19 L75.45 513.29 L75.6 506.28 L75.76 513.65 L75.91 506.47 L76.06 515.18 L76.21 506 L76.36 514.97 L76.51 507.5 L76.66 513.74 L76.82 506.11 L76.97 512.04 L77.12 507.69 L77.27 513.84 L77.42 496.82 L77.57 514.83 L77.73 487.6 L77.88 514.18 L78.03 487.6 L78.18 514.55 L78.33 487.94 L78.48 513.16 L78.63 494.62 L78.79 512.38 L78.94 500.42 L79.09 513.69 L79.24 500.65 L79.39 513.79 L79.54 500.27 L79.69 515.02 L79.85 500.15 L80 511.3 L80.15 494.97 L80.3 513.14 L80.45 493.56 L80.6 511.63 L80.75 492.72 L80.91 513.98 L81.06 496.8 L81.21 513.41 L81.36 503.89 L81.51 511.11 L81.66 507.41 L81.81 511.39 L81.97 505.78 L82.12 514.75 L82.27 507.21 L82.42 511.2 L82.57 506.77 L82.72 512.41 L82.87 505.86 L83.03 513.15 L83.18 507.78 L83.33 511.34 L83.48 507.67 L83.63 510.7 L83.78 506.48 L83.93 514.15 L84.09 506.33 L84.24 512.43 L84.39 507.44 L84.54 510.68 L84.69 507.56 L84.84 511.82 L84.99 507.69 L85.15 512.54 L85.3 507.3 L85.45 514.19 L85.6 507.81 L85.75 513.36 L85.9 508.13 L86.05 511.63 L86.21 506.92 L86.36 513.68 L86.51 506.86 L86.66 511.57 L86.81 507.8 L86.96 513.65 L87.12 506.57 L87.27 511.93 L87.42 507.65 L87.57 512.43 L87.72 506.96 L87.87 511.52 L88.02 506.57 L88.18 512.69 L88.33 507.53 L88.48 509.97 L88.63 507.94 L88.78 510.23 L88.93 507.64 L89.08 512.83 L89.24 507.18 L89.3 510.53 L90.51 510.53 L91.72 510.53 L92.93 510.53 L94.14 510.53 L95.35 510.53 L96.57 510.53 L97.78 510.53 L98.99 510.53 L100.2 510.53 L101.41 510.53 L102.62 510.53 L103.84 510.53 L105.05 510.53 L106.26 510.53 L107.47 510.53 L108.68 510.53 L109.89 510.53 L111.1 510.53 L112.32 510.53 L113.53 510.53 L114.74 510.53 L115.95 510.53 L117.16 510.53 L118.37 510.53 L119.59 510.53 L120.8 510.53 L122.01 510.53 L123.22 510.53 L124.43 510.53 L125.64 510.53 L126.86 510.53 L128.07 510.53 L129.28 510.53 L130.49 510.53 L131.7 510.53 L132.91 510.53 L134.13 510.53 L135.34 510.53 L136.55 510.53 L137.76 510.53 L138.97 510.53 L140.18 510.53 L141.39 510.53 L142.61 510.53 L143.82 510.53 L145.03 510.53 L146.24 510.53 L147.45 510.53 L148.66 510.53 L149.88 510.53 L151.09 510.53 L152.3 510.53 L153.51 510.53 L154.72 510.53 L155.93 510.53 L157.15 510.53 L158.36 510.53 L159.57 510.53 L160.78 510.53 L161.99 510.53 L163.2 510.53 L164.42 510.53 L165.63 510.53 L166.84 510.53 L168.05 510.53 L169.26 510.53 L170.47 510.53 L171.68 510.53 L172.9 510.53 L174.11 510.53 L175.32 510.53 L176.53 510.53 L177.74 510.53 L178.95 510.53 L180.17 510.53 L181.38 510.53 L182.59 510.53 L183.8 510.53 L185.01 510.53 L186.22 510.53 L187.44 510.53 L188.65 510.53 L189.86 510.53 L191.07 510.53 L192.28 510.53 L193.49 510.53 L194.71 510.53 L195.92 510.53 L197.13 510.53 L198.34 510.53 L199.55 510.53 L200.76 510.53 L201.97 510.53 L203.19 510.53 L204.4 510.53 L205.61 510.53 L206.82 510.53 L208.03 510.53 L209.24 510.53 L210.46 510.53 L211.67 510.53 L212.88 510.53 L214.09 510.53 L215.3 510.53 L216.51 510.53 L217.73 510.53 L218.94 510.53 L219.24 510.53 L219.24 546.03 L219.42 534.67 L219.6 543.53 L219.85 533.72 L220.09 542.88 L220.33 533.82 L220.57 542.3 L220.82 533.94 L221.06 541.76 L221.3 534.1 L221.54 541.25 L221.78 534.28 L222.03 540.77 L222.27 534.48 L222.51 540.3 L222.75 534.7 L223 539.84 L223.24 534.94 L223.48 539.39 L223.72 535.19 L223.97 538.96 L224.21 535.47 L224.45 538.53 L224.69 535.76 L224.93 538.12 L225.18 536.07 L225.42 537.7 L225.66 536.39 L225.9 537.3 L226.15 536.73 L226.39 536.9 L228.33 537.31 L228.93 540.35 L249.53 540.35 L250.14 540.63 L250.74 540.91 L251.35 541.17 L251.95 541.42 L252.56 541.67 L253.16 541.9 L253.77 542.12 L254.38 542.34 L254.98 542.54 L255.59 542.73 L256.19 542.91 L256.8 543.08 L257.41 543.24 L258.01 543.39 L258.62 543.53 L259.22 543.66 L259.83 543.78 L260.43 543.89 L261.04 543.99 L261.65 544.07 L262.25 544.15 L262.86 544.22 L263.46 544.27 L264.07 544.32 L264.67 544.36 L265.28 544.38 L265.89 544.4 L266.49 544.4 L267.1 544.4 L267.7 544.38 L268.31 544.36 L268.92 544.32 L269.52 544.27 L270.13 544.22 L270.73 544.15 L271.34 544.07 L271.94 543.99 L272.55 543.89 L273.16 543.78 L273.76 543.66 L274.37 543.53 L274.97 543.39 L275.58 543.24 L276.19 543.08 L276.79 542.91 L277.4 542.73 L278 542.54 L278.61 542.34 L279.21 542.12 L279.82 541.9 L280.43 541.67 L281.03 541.42 L281.64 541.17 L282.24 540.91 L282.85 540.63 L283.45 540.35 L284.06 540.05 L284.67 539.75 L285.27 539.43 L285.88 539.11 L286.48 538.77 L287.09 538.43 L287.7 538.07 L288.3 537.7 L288.91 537.32 L289.51 536.94 L289.76 536.78 L289.76 505.26 L290.48 510.74 L292.3 510.74 L294.12 510.74 L295.93 510.74 L297.75 510.74 L299.57 510.74 L301.39 510.74 L303.2 510.74 L305.02 510.74 L306.84 510.74 L308.66 510.74 L310.47 510.74 L312.29 510.74 L314.11 510.74 L315.93 510.74 L317.74 510.74 L319.56 510.74 L321.38 510.74 L323.2 510.74 L325.01 510.74 L326.83 510.74 L328.65 510.74 L330.46 510.74 L332.28 510.74 L334.1 510.74 L335.92 510.74 L337.73 510.74 L339.55 510.74 L340.4 510.74" stroke="#0000ff" stroke-width="1.8"/>
</g>
<text x="37.5" y="571.1" font-size="8.5" text-anchor="middle" style="font-kerning:none">0</text>
<text x="67.79" y="571.1" font-size="8.5" text-anchor="middle" style="font-kerning:none">0.5</text>
<text x="98.08" y="571.1" font-size="8.5" text-anchor="middle" style="font-kerning:none">&#8199;</text><path d="M378 0V-709H285C263 -625 190 -582 68 -582V-489H238V0Z" transform="translate(95.72 571.1) scale(0.0085)" fill="#262626"/>
<text x="128.37" y="571.1" font-size="8.5" text-anchor="middle" style="font-kerning:none">&#8199;.5</text><path d="M378 0V-709H285C263 -625 190 -582 68 -582V-489H238V0Z" transform="translate(122.46 571.1) scale(0.0085)" fill="#262626"/>
<text x="158.66" y="571.1" font-size="8.5" text-anchor="middle" style="font-kerning:none">2</text>
<text x="188.95" y="571.1" font-size="8.5" text-anchor="middle" style="font-kerning:none">2.5</text>
<text x="219.24" y="571.1" font-size="8.5" text-anchor="middle" style="font-kerning:none">3</text>
<text x="249.53" y="571.1" font-size="8.5" text-anchor="middle" style="font-kerning:none">3.5</text>
<text x="279.82" y="571.1" font-size="8.5" text-anchor="middle" style="font-kerning:none">4</text>
<text x="310.11" y="571.1" font-size="8.5" text-anchor="middle" style="font-kerning:none">4.5</text>
<text x="340.4" y="571.1" font-size="8.5" text-anchor="middle" style="font-kerning:none">5</text>
<text x="33.6" y="561.8" font-size="8.5" text-anchor="end" style="font-kerning:none">-&#8199;</text><path d="M378 0V-709H285C263 -625 190 -582 68 -582V-489H238V0Z" transform="translate(28.87 561.8) scale(0.0085)" fill="#262626"/>
<text x="33.6" y="541.52" font-size="8.5" text-anchor="end" style="font-kerning:none">0</text>
<text x="33.6" y="521.24" font-size="8.5" text-anchor="end" style="font-kerning:none">&#8199;</text><path d="M378 0V-709H285C263 -625 190 -582 68 -582V-489H238V0Z" transform="translate(28.87 521.24) scale(0.0085)" fill="#262626"/>
<text x="33.6" y="500.95" font-size="8.5" text-anchor="end" style="font-kerning:none">2</text>
<text x="33.6" y="480.67" font-size="8.5" text-anchor="end" style="font-kerning:none">3</text>
<text x="33.6" y="460.39" font-size="8.5" text-anchor="end" style="font-kerning:none">4</text>
<text x="33.6" y="440.11" font-size="8.5" text-anchor="end" style="font-kerning:none">5</text>
<text x="33.6" y="419.83" font-size="8.5" text-anchor="end" style="font-kerning:none">6</text>
<text x="33.6" y="399.55" font-size="8.5" text-anchor="end" style="font-kerning:none">7</text>
<text x="33.6" y="379.26" font-size="8.5" text-anchor="end" style="font-kerning:none">8</text>
<text x="33.6" y="358.98" font-size="8.5" text-anchor="end" style="font-kerning:none">9</text>
<text x="33.6" y="338.7" font-size="8.5" text-anchor="end" style="font-kerning:none">&#8199;0</text><path d="M378 0V-709H285C263 -625 190 -582 68 -582V-489H238V0Z" transform="translate(24.15 338.7) scale(0.0085)" fill="#262626"/>
<text x="38.7" y="334.1" font-size="11" style="font-weight:normal">&#215;</text>
<text x="45.8" y="332.9" font-size="8.5" text-anchor="start" style="font-kerning:none">&#8199;0</text><path d="M378 0V-709H285C263 -625 190 -582 68 -582V-489H238V0Z" transform="translate(45.8 332.9) scale(0.0085)" fill="#262626"/>
<text x="55.5" y="327.9" font-size="6.2">6</text>
<clipPath id="c5"><rect x="82.9" y="355.15" width="141.3" height="99.85"/></clipPath>
<rect x="84.4" y="356.65" width="138.3" height="96.85" fill="#fff"/>
<path d="M118.97 356.65V453.5M153.55 356.65V453.5M188.12 356.65V453.5" stroke="#f4f4f4" stroke-width="1.4" fill="none"/>
<path d="M84.4 444.7H222.7M84.4 400.67H222.7" stroke="#ececec" stroke-width="1.4" fill="none"/>
<path d="M84.4 453.5v-1.5M84.4 356.65v1.5M118.97 453.5v-1.5M118.97 356.65v1.5M153.55 453.5v-1.5M153.55 356.65v1.5M188.12 453.5v-1.5M188.12 356.65v1.5M222.7 453.5v-1.5M222.7 356.65v1.5M84.4 444.7h1.5M222.7 444.7h-1.5M84.4 400.67h1.5M222.7 400.67h-1.5M84.4 356.65h1.5M222.7 356.65h-1.5" stroke="#a0a0a0" stroke-width="1" fill="none"/>
<path d="M83.9 356.65H223.2" stroke="#999999" stroke-width="1.2"/>
<path d="M83.9 453.5H223.2" stroke="#999999" stroke-width="1.3"/>
<path d="M84.4 356.15V454" stroke="#8c8c8c" stroke-width="1.2"/>
<path d="M222.7 356.15V454" stroke="#8c8c8c" stroke-width="1.2"/>
<g clip-path="url(#c5)" fill="none" stroke-linejoin="round" stroke-linecap="round">
<path d="M84.4 444.7 L84.52 444.52 L84.63 444.01 L84.75 443.17 L84.86 442 L84.98 440.52 L85.09 438.75 L85.21 436.72 L85.32 434.45 L85.44 431.96 L85.55 429.3 L85.67 426.5 L85.78 423.59 L85.9 420.6 L86.01 417.59 L86.13 414.59 L86.24 411.63 L86.36 408.75 L86.47 406 L86.59 403.41 L86.71 401.01 L86.82 398.83 L86.94 396.9 L87.05 395.24 L87.17 393.89 L87.28 392.84 L87.4 392.13 L87.51 391.75 L87.63 391.71 L87.74 391.87 L87.86 392.21 L87.97 392.74 L88.09 393.43 L88.2 394.29 L88.32 395.3 L88.43 396.47 L88.55 397.77 L88.66 399.2 L88.78 400.73 L88.89 402.37 L89.01 404.09 L89.13 405.87 L89.24 407.7 L89.36 409.56 L89.47 411.44 L89.59 413.31 L89.7 415.16 L89.82 416.98 L89.93 418.73 L90.05 420.42 L90.16 422.02 L90.28 423.51 L90.39 424.89 L90.51 426.14 L90.62 427.25 L90.74 428.2 L90.85 428.99 L90.97 429.62 L91.08 430.07 L91.2 430.34 L91.31 430.43 L91.43 430.38 L91.55 430.22 L91.66 429.95 L91.78 429.58 L91.89 429.11 L92.01 428.54 L92.12 427.89 L92.24 427.15 L92.35 426.35 L92.47 425.48 L92.58 424.56 L92.7 423.59 L92.81 422.59 L92.93 421.56 L93.04 420.53 L93.16 419.49 L93.27 418.47 L93.39 417.47 L93.5 416.5 L93.62 415.57 L93.74 414.7 L93.85 413.9 L93.97 413.17 L94.08 412.51 L94.2 411.95 L94.31 411.48 L94.43 411.11 L94.54 410.84 L94.66 410.68 L94.77 410.62 L94.89 410.69 L95 410.88 L95.12 411.21 L95.23 411.65 L95.35 412.22 L95.46 412.89 L95.58 413.66 L95.69 414.52 L95.81 415.46 L95.93 416.47 L96.04 417.53 L96.16 418.63 L96.27 419.74 L96.39 420.87 L96.5 421.99 L96.62 423.08 L96.73 424.14 L96.85 425.15 L96.96 426.09 L97.08 426.95 L97.19 427.73 L97.31 428.4 L97.42 428.96 L97.54 429.41 L97.65 429.73 L97.77 429.93 L97.88 429.99 L98 429.95 L98.11 429.84 L98.23 429.65 L98.35 429.38 L98.46 429.05 L98.58 428.64 L98.69 428.17 L98.81 427.65 L98.92 427.06 L99.04 426.43 L99.15 425.76 L99.27 425.05 L99.38 424.3 L99.5 423.54 L99.61 422.76 L99.73 421.98 L99.84 421.19 L99.96 420.41 L100.07 419.64 L100.19 418.9 L100.3 418.18 L100.42 417.51 L100.53 416.87 L100.65 416.28 L100.77 415.75 L100.88 415.27 L101 414.86 L101.11 414.52 L101.23 414.25 L101.34 414.05 L101.46 413.93 L101.57 413.88 L101.69 413.92 L101.8 414.06 L101.92 414.3 L102.03 414.63 L102.15 415.05 L102.26 415.55 L102.38 416.14 L102.49 416.79 L102.61 417.51 L102.72 418.27 L102.84 419.09 L102.96 419.93 L103.07 420.8 L103.19 421.67 L103.3 422.55 L103.42 423.41 L103.53 424.25 L103.65 425.05 L103.76 425.81 L103.88 426.51 L103.99 427.15 L104.11 427.72 L104.22 428.21 L104.34 428.61 L104.45 428.93 L104.57 429.14 L104.68 429.26 L104.8 429.28 L104.91 429.21 L105.03 429.03 L105.15 428.76 L105.26 428.41 L105.38 427.96 L105.49 427.44 L105.61 426.84 L105.72 426.17 L105.84 425.44 L105.95 424.67 L106.07 423.86 L106.18 423.01 L106.3 422.15 L106.41 421.28 L106.53 420.41 L106.64 419.55 L106.76 418.72 L106.87 417.92 L106.99 417.16 L107.1 416.46 L107.22 415.82 L107.33 415.25 L107.45 414.75 L107.57 414.34 L107.68 414.02 L107.8 413.79 L107.91 413.65 L108.03 413.62 L108.14 413.68 L108.26 413.84 L108.37 414.11 L108.49 414.48 L108.6 414.94 L108.72 415.48 L108.83 416.11 L108.95 416.82 L109.06 417.58 L109.18 418.41 L109.29 419.28 L109.41 420.18 L109.52 421.11 L109.64 422.06 L109.75 423 L109.87 423.94 L109.99 424.85 L110.1 425.73 L110.22 426.57 L110.33 427.36 L110.45 428.08 L110.56 428.74 L110.68 429.31 L110.79 429.79 L110.91 430.19 L111.02 430.49 L111.14 430.68 L111.25 430.78 L111.37 430.77 L111.48 430.65 L111.6 430.44 L111.71 430.13 L111.83 429.72 L111.94 429.23 L112.06 428.64 L112.18 427.98 L112.29 427.25 L112.41 426.45 L112.52 425.6 L112.64 424.7 L112.75 423.76 L112.87 422.8 L112.98 421.82 L113.1 420.83 L113.21 419.85 L113.33 418.89 L113.44 417.95 L113.56 417.04 L113.67 416.18 L113.79 415.38 L113.9 414.64 L114.02 413.97 L114.13 413.38 L114.25 412.87 L114.37 412.46 L114.48 412.14 L114.6 411.91 L114.71 411.79 L114.83 411.77 L114.94 411.87 L115.06 412.09 L115.17 412.42 L115.29 412.87 L115.4 413.43 L115.52 414.09 L115.63 414.84 L115.75 415.69 L115.86 416.61 L115.98 417.6 L116.09 418.66 L116.21 419.75 L116.32 420.89 L116.44 422.04 L116.55 423.21 L116.67 424.38 L116.79 425.53 L116.9 426.65 L117.02 427.74 L117.13 428.77 L117.25 429.75 L117.36 430.65 L117.48 431.47 L117.59 432.19 L117.71 432.83 L117.82 433.35 L117.94 433.77 L118.05 434.06 L118.17 434.25 L118.28 434.31 L118.4 434.24 L118.51 434.05 L118.63 433.74 L118.74 433.31 L118.86 432.76 L118.97 432.11 L119.09 431.34 L119.21 430.49 L119.32 429.55 L119.44 428.53 L119.55 427.45 L119.67 426.31 L119.78 425.13 L119.9 423.93 L120.01 422.7 L120.13 421.47 L120.24 420.25 L120.36 419.06 L120.47 417.89 L120.59 416.78 L120.7 415.72 L120.82 414.73 L120.93 413.82 L121.05 413 L121.16 412.28 L121.28 411.67 L121.4 411.17 L121.51 410.78 L121.63 410.52 L121.74 410.38 L121.86 410.37 L121.97 410.5 L122.09 410.77 L122.2 411.18 L122.32 411.73 L122.43 412.41 L122.55 413.21 L122.66 414.12 L122.78 415.14 L122.89 416.25 L123.01 417.44 L123.12 418.69 L123.24 420.01 L123.35 421.36 L123.47 422.74 L123.59 424.13 L123.7 425.52 L123.82 426.89 L123.93 428.22 L124.05 429.51 L124.16 430.74 L124.28 431.89 L124.39 432.95 L124.51 433.92 L124.62 434.78 L124.74 435.52 L124.85 436.13 L124.97 436.61 L125.08 436.95 L125.2 437.15 L125.31 437.21 L125.43 437.13 L125.54 436.93 L125.66 436.6 L125.77 436.14 L125.89 435.57 L126.01 434.88 L126.12 434.08 L126.24 433.19 L126.35 432.2 L126.47 431.13 L126.58 430 L126.7 428.79 L126.81 427.54 L126.93 426.25 L127.04 424.94 L127.16 423.61 L127.27 422.28 L127.39 420.96 L127.5 419.66 L127.62 418.41 L127.73 417.19 L127.85 416.04 L127.96 414.96 L128.08 413.95 L128.19 413.04 L128.31 412.23 L128.43 411.52 L128.54 410.92 L128.66 410.44 L128.77 410.08 L128.89 409.85 L129 409.75 L129.12 409.77 L129.23 409.93 L129.35 410.21 L129.46 410.62 L129.58 411.15 L129.69 411.79 L129.81 412.55 L129.92 413.41 L130.04 414.37 L130.15 415.41 L130.27 416.53 L130.38 417.72 L130.5 418.96 L130.62 420.25 L130.73 421.57 L130.85 422.91 L130.96 424.26 L131.08 425.6 L131.19 426.93 L131.31 428.23 L131.42 429.48 L131.54 430.69 L131.65 431.83 L131.77 432.9 L131.88 433.88 L132 434.77 L132.11 435.56 L132.23 436.24 L132.34 436.8 L132.46 437.25 L132.57 437.57 L132.69 437.76 L132.81 437.83 L132.92 437.75 L133.04 437.53 L133.15 437.16 L133.27 436.65 L133.38 436.01 L133.5 435.23 L133.61 434.33 L133.73 433.33 L133.84 432.22 L133.96 431.03 L134.07 429.76 L134.19 428.43 L134.3 427.05 L134.42 425.65 L134.53 424.22 L134.65 422.8 L134.76 421.4 L134.88 420.02 L134.99 418.69 L135.11 417.42 L135.23 416.23 L135.34 415.12 L135.46 414.12 L135.57 413.22 L135.69 412.44 L135.8 411.8 L135.92 411.29 L136.03 410.92 L136.15 410.7 L136.26 410.62 L136.38 410.69 L136.49 410.9 L136.61 411.24 L136.72 411.72 L136.84 412.33 L136.95 413.05 L137.07 413.89 L137.18 414.83 L137.3 415.87 L137.41 416.98 L137.53 418.17 L137.65 419.41 L137.76 420.7 L137.88 422.01 L137.99 423.34 L138.11 424.67 L138.22 425.99 L138.34 427.28 L138.45 428.52 L138.57 429.71 L138.68 430.82 L138.8 431.86 L138.91 432.8 L139.03 433.64 L139.14 434.36 L139.26 434.97 L139.37 435.44 L139.49 435.79 L139.6 436 L139.72 436.07 L139.84 436.02 L139.95 435.87 L140.07 435.62 L140.18 435.28 L140.3 434.84 L140.41 434.32 L140.53 433.71 L140.64 433.03 L140.76 432.27 L140.87 431.45 L140.99 430.56 L141.1 429.63 L141.22 428.66 L141.33 427.66 L141.45 426.63 L141.56 425.58 L141.68 424.54 L141.79 423.5 L141.91 422.47 L142.02 421.46 L142.14 420.49 L142.26 419.56 L142.37 418.68 L142.49 417.85 L142.6 417.1 L142.72 416.41 L142.83 415.8 L142.95 415.28 L143.06 414.84 L143.18 414.5 L143.29 414.25 L143.41 414.11 L143.52 414.06 L143.64 414.12 L143.75 414.32 L143.87 414.66 L143.98 415.11 L144.1 415.69 L144.21 416.38 L144.33 417.18 L144.45 418.06 L144.56 419.03 L144.68 420.06 L144.79 421.15 L144.91 422.28 L145.02 423.43 L145.14 424.58 L145.25 425.73 L145.37 426.86 L145.48 427.95 L145.6 428.98 L145.71 429.95 L145.83 430.83 L145.94 431.63 L146.06 432.32 L146.17 432.9 L146.29 433.35 L146.4 433.69 L146.52 433.89 L146.63 433.95 L146.75 433.92 L146.87 433.8 L146.98 433.61 L147.1 433.35 L147.21 433.02 L147.33 432.62 L147.44 432.15 L147.56 431.63 L147.67 431.06 L147.79 430.43 L147.9 429.76 L148.02 429.06 L148.13 428.33 L148.25 427.58 L148.36 426.81 L148.48 426.04 L148.59 425.27 L148.71 424.5 L148.82 423.76 L148.94 423.03 L149.06 422.33 L149.17 421.68 L149.29 421.06 L149.4 420.5 L149.52 419.98 L149.63 419.53 L149.75 419.15 L149.86 418.83 L149.98 418.58 L150.09 418.41 L150.21 418.31 L150.32 418.28 L150.44 418.35 L150.55 418.51 L150.67 418.75 L150.78 419.08 L150.9 419.5 L151.01 419.99 L151.13 420.55 L151.25 421.16 L151.36 421.84 L151.48 422.55 L151.59 423.29 L151.71 424.06 L151.82 424.84 L151.94 425.62 L152.05 426.39 L152.17 427.13 L152.28 427.85 L152.4 428.52 L152.51 429.14 L152.63 429.69 L152.74 430.18 L152.86 430.6 L152.97 430.93 L153.09 431.18 L153.2 431.33 L153.32 431.4 L153.43 431.38 L153.55 431.31 L153.67 431.18 L153.78 430.99 L153.9 430.75 L154.01 430.46 L154.13 430.12 L154.24 429.74 L154.36 429.32 L154.47 428.86 L154.59 428.37 L154.7 427.86 L154.82 427.33 L154.93 426.78 L155.05 426.22 L155.16 425.67 L155.28 425.12 L155.39 424.57 L155.51 424.05 L155.62 423.54 L155.74 423.06 L155.85 422.61 L155.97 422.2 L156.09 421.83 L156.2 421.51 L156.32 421.23 L156.43 421.01 L156.55 420.84 L156.66 420.72 L156.78 420.67 L156.89 420.67 L157.01 420.75 L157.12 420.9 L157.24 421.13 L157.35 421.43 L157.47 421.8 L157.58 422.24 L157.7 422.73 L157.81 423.28 L157.93 423.87 L158.04 424.5 L158.16 425.16 L158.28 425.84 L158.39 426.53 L158.51 427.23 L158.62 427.93 L158.74 428.62 L158.85 429.28 L158.97 429.92 L159.08 430.52 L159.2 431.07 L159.31 431.58 L159.43 432.02 L159.54 432.41 L159.66 432.72 L159.77 432.97 L159.89 433.14 L160 433.23 L160.12 433.25 L160.23 433.19 L160.35 433.07 L160.46 432.87 L160.58 432.62 L160.7 432.29 L160.81 431.91 L160.93 431.48 L161.04 430.99 L161.16 430.45 L161.27 429.88 L161.39 429.26 L161.5 428.62 L161.62 427.96 L161.73 427.28 L161.85 426.59 L161.96 425.9 L162.08 425.21 L162.19 424.54 L162.31 423.88 L162.42 423.25 L162.54 422.65 L162.65 422.09 L162.77 421.58 L162.89 421.11 L163 420.69 L163.12 420.33 L163.23 420.04 L163.35 419.81 L163.46 419.64 L163.58 419.54 L163.69 419.51 L163.81 419.56 L163.92 419.69 L164.04 419.89 L164.15 420.17 L164.27 420.52 L164.38 420.94 L164.5 421.43 L164.61 421.98 L164.73 422.58 L164.84 423.23 L164.96 423.92 L165.07 424.65 L165.19 425.4 L165.31 426.18 L165.42 426.97 L165.54 427.76 L165.65 428.55 L165.77 429.33 L165.88 430.1 L166 430.83 L166.11 431.54 L166.23 432.2 L166.34 432.81 L166.46 433.38 L166.57 433.88 L166.69 434.32 L166.8 434.7 L166.92 435 L167.03 435.22 L167.15 435.37 L167.26 435.44 L167.38 435.44 L167.5 435.36 L167.61 435.21 L167.73 435 L167.84 434.71 L167.96 434.37 L168.07 433.96 L168.19 433.5 L168.3 432.98 L168.42 432.42 L168.53 431.82 L168.65 431.18 L168.76 430.5 L168.88 429.81 L168.99 429.1 L169.11 428.38 L169.22 427.66 L169.34 426.94 L169.45 426.23 L169.57 425.54 L169.69 424.87 L169.8 424.23 L169.92 423.63 L170.03 423.07 L170.15 422.56 L170.26 422.11 L170.38 421.7 L170.49 421.36 L170.61 421.09 L170.72 420.88 L170.84 420.74 L170.95 420.67 L171.07 420.67 L171.18 420.74 L171.3 420.9 L171.41 421.12 L171.53 421.42 L171.64 421.78 L171.76 422.21 L171.87 422.7 L171.99 423.25 L172.11 423.85 L172.22 424.49 L172.34 425.17 L172.45 425.88 L172.57 426.61 L172.68 427.37 L172.8 428.13 L172.91 428.89 L173.03 429.65 L173.14 430.39 L173.26 431.12 L173.37 431.81 L173.49 432.47 L173.6 433.09 L173.72 433.67 L173.83 434.19 L173.95 434.65 L174.06 435.05 L174.18 435.38 L174.3 435.64 L174.41 435.83 L174.53 435.94 L174.64 435.98 L174.76 435.95 L174.87 435.87 L174.99 435.73 L175.1 435.54 L175.22 435.3 L175.33 435.01 L175.45 434.67 L175.56 434.29 L175.68 433.88 L175.79 433.43 L175.91 432.95 L176.02 432.45 L176.14 431.93 L176.25 431.4 L176.37 430.87 L176.48 430.33 L176.6 429.79 L176.72 429.27 L176.83 428.77 L176.95 428.28 L177.06 427.82 L177.18 427.4 L177.29 427.01 L177.41 426.66 L177.52 426.35 L177.64 426.1 L177.75 425.89 L177.87 425.74 L177.98 425.64 L178.1 425.59 L178.21 425.6 L178.33 425.66 L178.44 425.77 L178.56 425.93 L178.67 426.13 L178.79 426.37 L178.9 426.66 L179.02 426.98 L179.14 427.33 L179.25 427.72 L179.37 428.12 L179.48 428.55 L179.6 428.99 L179.71 429.44 L179.83 429.89 L179.94 430.34 L180.06 430.78 L180.17 431.2 L180.29 431.61 L180.4 432 L180.52 432.36 L180.63 432.68 L180.75 432.97 L180.86 433.22 L180.98 433.42 L181.09 433.58 L181.21 433.7 L181.33 433.76 L181.44 433.78 L181.56 433.74 L181.67 433.64 L181.79 433.49 L181.9 433.29 L182.02 433.04 L182.13 432.74 L182.25 432.39 L182.36 432.02 L182.48 431.6 L182.59 431.17 L182.71 430.71 L182.82 430.24 L182.94 429.76 L183.05 429.27 L183.17 428.8 L183.28 428.34 L183.4 427.89 L183.51 427.47 L183.63 427.08 L183.75 426.73 L183.86 426.42 L183.98 426.15 L184.09 425.93 L184.21 425.77 L184.32 425.65 L184.44 425.6 L184.55 425.6 L184.67 425.66 L184.78 425.78 L184.9 425.95 L185.01 426.18 L185.13 426.47 L185.24 426.8 L185.36 427.18 L185.47 427.6 L185.59 428.05 L185.7 428.54 L185.82 429.05 L185.94 429.57 L186.05 430.11 L186.17 430.66 L186.28 431.2 L186.4 431.73 L186.51 432.25 L186.63 432.75 L186.74 433.22 L186.86 433.65 L186.97 434.05 L187.09 434.41 L187.2 434.72 L187.32 434.98 L187.43 435.18 L187.55 435.33 L187.66 435.42 L187.78 435.45 L187.89 435.44 L188.01 435.42 L188.12 435.39 L188.24 435.34 L188.36 435.28 L188.47 435.21 L188.59 435.12 L188.7 435.03 L188.82 434.92 L188.93 434.8 L189.05 434.68 L189.16 434.54 L189.28 434.4 L189.39 434.25 L189.51 434.1 L189.62 433.94 L189.74 433.78 L189.85 433.62 L189.97 433.45 L190.08 433.29 L190.2 433.13 L190.31 432.96 L190.43 432.81 L190.55 432.65 L190.66 432.51 L190.78 432.37 L190.89 432.23 L191.01 432.11 L191.12 432 L191.24 431.89 L191.35 431.8 L191.47 431.71 L191.58 431.64 L191.7 431.59 L191.81 431.54 L191.93 431.51 L192.04 431.49 L192.16 431.49 L192.27 431.5 L192.39 431.53 L192.5 431.57 L192.62 431.64 L192.73 431.71 L192.85 431.8 L192.97 431.91 L193.08 432.02 L193.2 432.15 L193.31 432.29 L193.43 432.43 L193.54 432.58 L193.66 432.74 L193.77 432.9 L193.89 433.06 L194 433.22 L194.12 433.38 L194.23 433.54 L194.35 433.69 L194.46 433.83 L194.58 433.96 L194.69 434.08 L194.81 434.2 L194.92 434.29 L195.04 434.38 L195.16 434.45 L195.27 434.5 L195.39 434.54 L195.5 434.56 L195.62 434.57 L195.73 434.56 L195.85 434.53 L195.96 434.48 L196.08 434.42 L196.19 434.35 L196.31 434.26 L196.42 434.15 L196.54 434.04 L196.65 433.91 L196.77 433.77 L196.88 433.63 L197 433.47 L197.11 433.32 L197.23 433.16 L197.34 433 L197.46 432.84 L197.58 432.68 L197.69 432.52 L197.81 432.37 L197.92 432.23 L198.04 432.1 L198.15 431.97 L198.27 431.86 L198.38 431.76 L198.5 431.68 L198.61 431.61 L198.73 431.55 L198.84 431.52 L198.96 431.49 L199.07 431.49 L199.19 431.5 L199.3 431.53 L199.42 431.57 L199.53 431.64 L199.65 431.71 L199.77 431.8 L199.88 431.91 L200 432.02 L200.11 432.15 L200.23 432.29 L200.34 432.43 L200.46 432.58 L200.57 432.74 L200.69 432.9 L200.8 433.06 L200.92 433.22 L201.03 433.38 L201.15 433.54 L201.26 433.69 L201.38 433.83 L201.49 433.96 L201.61 434.08 L201.72 434.2 L201.84 434.29 L201.95 434.38 L202.07 434.45 L202.19 434.5 L202.3 434.54 L202.42 434.56 L202.53 434.57 L202.65 434.56 L202.76 434.53 L202.88 434.48 L202.99 434.42 L203.11 434.35 L203.22 434.26 L203.34 434.15 L203.45 434.04 L203.57 433.91 L203.68 433.77 L203.8 433.63 L203.91 433.47 L204.03 433.32 L204.14 433.16 L204.26 433 L204.38 432.84 L204.49 432.68 L204.61 432.52 L204.72 432.37 L204.84 432.23 L204.95 432.1 L205.07 431.97 L205.18 431.86 L205.3 431.76 L205.41 431.68 L205.53 431.61 L205.64 431.55 L205.76 431.52 L205.87 431.49 L205.99 431.49 L206.1 431.5 L206.22 431.53 L206.33 431.57 L206.45 431.64 L206.56 431.71 L206.68 431.8 L206.8 431.91 L206.91 432.02 L207.03 432.15 L207.14 432.29 L207.26 432.43 L207.37 432.58 L207.49 432.74 L207.6 432.9 L207.72 433.06 L207.83 433.22 L207.95 433.38 L208.06 433.54 L208.18 433.69 L208.29 433.83 L208.41 433.96 L208.52 434.08 L208.64 434.2 L208.75 434.29 L208.87 434.38 L208.99 434.45 L209.1 434.5 L209.22 434.54 L209.33 434.56 L209.45 434.57 L209.56 434.56 L209.68 434.53 L209.79 434.48 L209.91 434.42 L210.02 434.35 L210.14 434.26 L210.25 434.15 L210.37 434.04 L210.48 433.91 L210.6 433.77 L210.71 433.63 L210.83 433.47 L210.94 433.32 L211.06 433.16 L211.17 433 L211.29 432.84 L211.41 432.68 L211.52 432.52 L211.64 432.37 L211.75 432.23 L211.87 432.1 L211.98 431.97 L212.1 431.86 L212.21 431.76 L212.33 431.68 L212.44 431.61 L212.56 431.55 L212.67 431.52 L212.79 431.49 L212.9 431.49 L213.02 431.5 L213.13 431.53 L213.25 431.57 L213.36 431.64 L213.48 431.71 L213.6 431.8 L213.71 431.91 L213.83 432.02 L213.94 432.15 L214.06 432.29 L214.17 432.43 L214.29 432.58 L214.4 432.74 L214.52 432.9 L214.63 433.06 L214.75 433.22 L214.86 433.38 L214.98 433.54 L215.09 433.69 L215.21 433.83 L215.32 433.96 L215.44 434.08 L215.55 434.2 L215.67 434.29 L215.78 434.38 L215.9 434.45 L216.02 434.5 L216.13 434.54 L216.25 434.56 L216.36 434.57 L216.48 434.56 L216.59 434.53 L216.71 434.48 L216.82 434.42 L216.94 434.35 L217.05 434.26 L217.17 434.15 L217.28 434.04 L217.4 433.91 L217.51 433.77 L217.63 433.63 L217.74 433.47 L217.86 433.32 L217.97 433.16 L218.09 433 L218.21 432.84 L218.32 432.68 L218.44 432.52 L218.55 432.37 L218.67 432.23 L218.78 432.1 L218.9 431.97 L219.01 431.86 L219.13 431.76 L219.24 431.68 L219.36 431.61 L219.47 431.55 L219.59 431.52 L219.7 431.49 L219.82 431.49 L219.93 431.5 L220.05 431.53 L220.16 431.57 L220.28 431.64 L220.39 431.71 L220.51 431.8 L220.63 431.91 L220.74 432.02 L220.86 432.15 L220.97 432.29 L221.09 432.43 L221.2 432.58 L221.32 432.74 L221.43 432.9 L221.55 433.06 L221.66 433.22 L221.78 433.38 L221.89 433.54 L222.01 433.69 L222.12 433.83 L222.24 433.96 L222.35 434.08 L222.47 434.2 L222.58 434.29 L222.7 434.38" stroke="#0000ff" stroke-width="2.0"/>
</g>
<text x="84.4" y="465.8" font-size="8.5" text-anchor="middle" style="font-kerning:none">0</text>
<text x="118.97" y="465.8" font-size="8.5" text-anchor="middle" style="font-kerning:none">0.&#8199;</text><path d="M378 0V-709H285C263 -625 190 -582 68 -582V-489H238V0Z" transform="translate(120.16 465.8) scale(0.0085)" fill="#262626"/>
<text x="153.55" y="465.8" font-size="8.5" text-anchor="middle" style="font-kerning:none">0.2</text>
<text x="188.12" y="465.8" font-size="8.5" text-anchor="middle" style="font-kerning:none">0.3</text>
<text x="222.7" y="465.8" font-size="8.5" text-anchor="middle" style="font-kerning:none">0.4</text>
<text x="80.8" y="448.1" font-size="8.5" text-anchor="end" style="font-kerning:none">0</text>
<text x="80.8" y="404.07" font-size="8.5" text-anchor="end" style="font-kerning:none">5</text>
<text x="80.8" y="360.05" font-size="8.5" text-anchor="end" style="font-kerning:none">&#8199;0</text><path d="M378 0V-709H285C263 -625 190 -582 68 -582V-489H238V0Z" transform="translate(71.35 360.05) scale(0.0085)" fill="#262626"/>
<text x="84.9" y="356.2" font-size="11" style="font-weight:normal">&#215;</text>
<text x="91.6" y="355" font-size="9.3" text-anchor="start" style="font-kerning:none">&#8199;0</text><path d="M378 0V-709H285C263 -625 190 -582 68 -582V-489H238V0Z" transform="translate(91.6 355) scale(0.0093)" fill="#262626"/>
<text x="101.5" y="350.5" font-size="7.2">6</text>
<clipPath id="c6"><rect x="405.9" y="330.8" width="278.3" height="243.7"/></clipPath>
<path d="M462.46 332.3V573M517.52 332.3V573M572.58 332.3V573M627.64 332.3V573" stroke="#f4f4f4" stroke-width="1.4" fill="none"/>
<path d="M407.4 546.26H682.7M407.4 519.51H682.7M407.4 492.77H682.7M407.4 466.02H682.7M407.4 439.28H682.7M407.4 412.53H682.7M407.4 385.79H682.7M407.4 359.04H682.7" stroke="#ececec" stroke-width="1.4" fill="none"/>
<path d="M407.4 573v-3M407.4 332.3v3M462.46 573v-3M462.46 332.3v3M517.52 573v-3M517.52 332.3v3M572.58 573v-3M572.58 332.3v3M627.64 573v-3M627.64 332.3v3M682.7 573v-3M682.7 332.3v3M407.4 573h3M682.7 573h-3M407.4 546.26h3M682.7 546.26h-3M407.4 519.51h3M682.7 519.51h-3M407.4 492.77h3M682.7 492.77h-3M407.4 466.02h3M682.7 466.02h-3M407.4 439.28h3M682.7 439.28h-3M407.4 412.53h3M682.7 412.53h-3M407.4 385.79h3M682.7 385.79h-3M407.4 359.04h3M682.7 359.04h-3M407.4 332.3h3M682.7 332.3h-3" stroke="#a8a8a8" stroke-width="1" fill="none"/>
<path d="M406.9 332.3H683.2" stroke="#d0d0d0" stroke-width="2"/>
<path d="M406.9 573H683.2" stroke="#d0d0d0" stroke-width="2"/>
<path d="M407.4 331.8V573.5" stroke="#b5b5b5" stroke-width="1.5"/>
<path d="M682.7 331.8V573.5" stroke="#c8c8c8" stroke-width="1.5"/>
<g clip-path="url(#c6)" fill="none" stroke-linejoin="round" stroke-linecap="round">
<path d="M407.4 546.26 L407.41 545.88 L407.43 544.75 L407.44 542.87 L407.46 540.26 L407.47 536.94 L407.48 532.93 L407.5 528.27 L407.51 522.98 L407.52 517.11 L407.54 510.7 L407.55 503.79 L407.57 496.45 L407.58 488.72 L407.59 480.66 L407.61 472.34 L407.62 463.81 L407.63 455.13 L407.65 446.38 L407.66 437.62 L407.68 428.9 L407.69 420.31 L407.7 411.89 L407.72 403.72 L407.73 395.85 L407.74 388.35 L407.76 381.26 L407.77 374.65 L407.79 368.56 L407.8 363.03 L407.81 358.11 L407.83 353.84 L407.84 350.24 L407.85 347.34 L407.87 345.17 L407.88 343.74 L407.9 343.06 L407.91 343.08 L407.92 343.56 L407.94 344.47 L407.95 345.81 L407.96 347.58 L407.98 349.75 L407.99 352.33 L408.01 355.29 L408.02 358.63 L408.03 362.31 L408.05 366.33 L408.06 370.66 L408.07 375.28 L408.09 380.16 L408.1 385.28 L408.12 390.61 L408.13 396.11 L408.14 401.77 L408.16 407.55 L408.17 413.42 L408.18 419.34 L408.2 425.29 L408.21 431.23 L408.23 437.14 L408.24 442.98 L408.25 448.71 L408.27 454.31 L408.28 459.75 L408.29 464.99 L408.31 470.02 L408.32 474.8 L408.34 479.31 L408.35 483.51 L408.36 487.4 L408.38 490.95 L408.39 494.14 L408.4 496.95 L408.42 499.37 L408.43 501.38 L408.45 502.98 L408.46 504.15 L408.47 504.89 L408.49 505.19 L408.5 505.13 L408.51 504.84 L408.53 504.33 L408.54 503.6 L408.56 502.66 L408.57 501.51 L408.58 500.16 L408.6 498.62 L408.61 496.89 L408.63 494.98 L408.64 492.92 L408.65 490.7 L408.67 488.35 L408.68 485.88 L408.69 483.29 L408.71 480.62 L408.72 477.86 L408.74 475.05 L408.75 472.19 L408.76 469.3 L408.78 466.4 L408.79 463.51 L408.8 460.64 L408.82 457.82 L408.83 455.05 L408.85 452.36 L408.86 449.75 L408.87 447.25 L408.89 444.88 L408.9 442.63 L408.91 440.54 L408.93 438.6 L408.94 436.84 L408.96 435.25 L408.97 433.86 L408.98 432.67 L409 431.69 L409.01 430.92 L409.02 430.36 L409.04 430.03 L409.05 429.92 L409.07 430.04 L409.08 430.39 L409.09 430.97 L409.11 431.79 L409.12 432.83 L409.13 434.09 L409.15 435.56 L409.16 437.24 L409.18 439.1 L409.19 441.16 L409.2 443.38 L409.22 445.75 L409.23 448.28 L409.24 450.93 L409.26 453.69 L409.27 456.56 L409.29 459.5 L409.3 462.51 L409.31 465.56 L409.33 468.65 L409.34 471.74 L409.35 474.83 L409.37 477.89 L409.38 480.91 L409.4 483.86 L409.41 486.74 L409.42 489.53 L409.44 492.21 L409.45 494.76 L409.46 497.16 L409.48 499.42 L409.49 501.5 L409.51 503.41 L409.52 505.12 L409.53 506.64 L409.55 507.94 L409.56 509.02 L409.57 509.88 L409.59 510.52 L409.6 510.92 L409.62 511.08 L409.63 511.01 L409.64 510.72 L409.66 510.21 L409.67 509.49 L409.68 508.55 L409.7 507.4 L409.71 506.06 L409.73 504.54 L409.74 502.84 L409.75 500.99 L409.77 498.99 L409.78 496.86 L409.8 494.61 L409.81 492.28 L409.82 489.86 L409.84 487.38 L409.85 484.87 L409.86 482.34 L409.88 479.8 L409.89 477.29 L409.91 474.81 L409.92 472.4 L409.93 470.06 L409.95 467.81 L409.96 465.68 L409.97 463.68 L409.99 461.83 L410 460.13 L410.02 458.61 L410.03 457.27 L410.04 456.13 L410.06 455.19 L410.07 454.46 L410.08 453.95 L410.1 453.66 L410.11 453.59 L410.13 453.87 L410.14 454.55 L410.15 455.61 L410.17 457.06 L410.18 458.87 L410.19 461.04 L410.21 463.53 L410.22 466.34 L410.24 469.44 L410.25 472.8 L410.26 476.39 L410.28 480.17 L410.29 484.12 L410.3 488.21 L410.32 492.39 L410.33 496.63 L410.35 500.89 L410.36 505.14 L410.37 509.33 L410.39 513.44 L410.4 517.42 L410.41 521.24 L410.43 524.87 L410.44 528.28 L410.46 531.43 L410.47 534.3 L410.48 536.86 L410.5 539.09 L410.51 540.98 L410.52 542.5 L410.54 543.64 L410.55 544.39 L410.57 544.75 L410.58 544.76 L410.59 544.59 L410.61 544.26 L410.62 543.79 L410.63 543.16 L410.65 542.39 L410.66 541.48 L410.68 540.42 L410.69 539.23 L410.7 537.91 L410.72 536.47 L410.73 534.91 L410.74 533.25 L410.76 531.48 L410.77 529.62 L410.79 527.67 L410.8 525.65 L410.81 523.56 L410.83 521.41 L410.84 519.22 L410.86 516.99 L410.87 514.73 L410.88 512.46 L410.9 510.17 L410.91 507.9 L410.92 505.63 L410.94 503.4 L410.95 501.2 L410.97 499.04 L410.98 496.94 L410.99 494.9 L411.01 492.94 L411.02 491.06 L411.03 489.27 L411.05 487.58 L411.06 486 L411.08 484.54 L411.09 483.2 L411.1 481.98 L411.12 480.9 L411.13 479.95 L411.14 479.15 L411.16 478.5 L411.17 477.99 L411.19 477.64 L411.2 477.44 L411.21 477.39 L411.23 477.54 L411.24 477.91 L411.25 478.49 L411.27 479.28 L411.28 480.27 L411.3 481.46 L411.31 482.84 L411.32 484.41 L411.34 486.14 L411.35 488.03 L411.36 490.08 L411.38 492.25 L411.39 494.55 L411.41 496.95 L411.42 499.45 L411.43 502.02 L411.45 504.64 L411.46 507.31 L411.47 510.01 L411.49 512.71 L411.5 515.4 L411.52 518.06 L411.53 520.67 L411.54 523.23 L411.56 525.71 L411.57 528.09 L411.58 530.37 L411.6 532.52 L411.61 534.53 L411.63 536.39 L411.64 538.09 L411.65 539.62 L411.67 540.96 L411.68 542.12 L411.69 543.07 L411.71 543.82 L411.72 544.35 L411.74 544.68 L411.75 544.78 L411.75 528.13 L412.03 547.82 L412.3 528.11 L412.58 547.05 L412.85 528.56 L413.13 545.47 L413.4 528.37 L413.68 546.8 L413.95 528.57 L414.23 545.09 L414.5 528.68 L414.78 547.41 L415.05 528.79 L415.33 546.34 L415.6 529.5 L415.88 544.87 L416.15 529.55 L416.43 544.41 L416.71 529.84 L416.98 546.04 L417.26 529.5 L417.53 544.27 L417.81 530.03 L418.08 546.53 L418.36 530.13 L418.63 545.47 L418.91 530.1 L419.18 545.5 L419.46 530.12 L419.73 546.28 L420.01 530.35 L420.28 545.25 L420.56 530.96 L420.83 545.76 L421.11 531.12 L421.39 545.44 L421.66 530.87 L421.94 543.7 L422.21 531.34 L422.49 544.64 L422.76 530.98 L423.04 544.43 L423.31 531.35 L423.59 543.14 L423.86 531.39 L424.14 544.53 L424.41 531.96 L424.69 545.32 L424.96 531.73 L425.24 543.14 L425.51 532.06 L425.79 545.1 L426.07 531.67 L426.34 544.94 L426.62 532.35 L426.89 544.33 L427.17 532.33 L427.44 542.51 L427.72 532.15 L427.99 544.09 L428.27 532.66 L428.54 543.07 L428.82 532.29 L429.09 542.7 L429.37 532.42 L429.64 543.79 L429.92 532.3 L430.19 542.4 L430.47 533.01 L430.75 542.63 L431.02 533.12 L431.3 544.16 L431.57 532.74 L431.85 542.86 L432.12 533.31 L432.4 541.48 L432.67 533.03 L432.95 543.26 L433.22 533.15 L433.5 542.52 L433.77 533.57 L434.05 543.25 L434.32 533.58 L434.6 541.66 L434.87 533.69 L435.15 541.47 L435.43 533.63 L435.7 542.56 L435.98 533.52 L436.25 542.37 L436.53 533.91 L436.8 543.02 L437.08 533.61 L437.35 541.12 L437.63 533.72 L437.9 542.86 L438.18 533.66 L438.45 541.45 L438.73 533.94 L439 540.21 L439.28 534.4 L439.56 540.09 L439.83 534.07 L440.11 542.4 L440.38 534.04 L440.66 541.19 L440.93 534.53 L441.21 541.23 L441.48 534.3 L441.76 541.21 L442.03 534.64 L442.31 540.42 L442.58 534.8 L442.86 539.86 L443.13 534.83 L443.41 541.69 L443.68 535.03 L443.96 541.13 L444.24 534.93 L444.51 540.82 L444.79 535.13 L445.06 541.18 L445.34 534.88 L445.61 540.96 L445.89 534.9 L446.16 539.15 L446.44 535.27 L446.71 540.54 L446.99 535.23 L447.26 538.65 L447.54 535.39 L447.81 540.59 L448.09 535.68 L448.36 539.36 L448.64 535.88 L448.92 540.73 L449.19 535.62 L449.47 538.71 L449.74 535.95 L450.02 538.36 L450.29 535.49 L450.57 539.91 L450.84 535.63 L451.12 540.13 L451.39 536.21 L451.45 536.76 L452.55 536.76 L453.65 536.76 L454.75 536.76 L455.85 536.76 L456.95 536.76 L458.06 536.76 L459.16 536.76 L460.26 536.76 L461.36 536.76 L462.46 536.76 L463.56 536.76 L464.66 536.76 L465.76 536.76 L466.86 536.76 L467.97 536.76 L469.07 536.76 L470.17 536.76 L471.27 536.76 L472.37 536.76 L473.47 536.76 L474.57 536.76 L475.67 536.76 L476.78 536.76 L477.88 536.76 L478.98 536.76 L480.08 536.76 L481.18 536.76 L482.28 536.76 L483.38 536.76 L484.48 536.76 L485.59 536.76 L486.69 536.76 L487.79 536.76 L488.89 536.76 L489.99 536.76 L491.09 536.76 L492.19 536.76 L493.29 536.76 L494.39 536.76 L495.5 536.76 L496.6 536.76 L497.7 536.76 L498.8 536.76 L499.9 536.76 L501 536.76 L502.1 536.76 L503.2 536.76 L504.31 536.76 L505.41 536.76 L506.51 536.76 L507.61 536.76 L508.71 536.76 L509.81 536.76 L510.91 536.76 L512.01 536.76 L513.12 536.76 L514.22 536.76 L515.32 536.76 L516.42 536.76 L517.52 536.76 L518.62 536.76 L519.72 536.76 L520.82 536.76 L521.92 536.76 L523.03 536.76 L524.13 536.76 L525.23 536.76 L526.33 536.76 L527.43 536.76 L528.53 536.76 L529.63 536.76 L530.73 536.76 L531.84 536.76 L532.94 536.76 L534.04 536.76 L535.14 536.76 L536.24 536.76 L537.34 536.76 L538.44 536.76 L539.54 536.76 L540.65 536.76 L541.75 536.76 L542.85 536.76 L543.95 536.76 L545.05 536.76 L546.15 536.76 L547.25 536.76 L548.35 536.76 L549.45 536.76 L550.56 536.76 L551.66 536.76 L552.76 536.76 L553.86 536.76 L554.96 536.76 L556.06 536.76 L557.16 536.76 L558.26 536.76 L559.37 536.76 L560.47 536.76 L561.57 536.76 L562.67 536.76 L563.77 536.76 L564.87 536.76 L565.97 536.76 L567.07 536.76 L568.18 536.76 L569.28 536.76 L570.38 536.76 L571.48 536.76 L572.3 536.76 L572.58 536.76 L572.58 559.36 L572.75 537.96 L572.91 552.54 L573.13 538.68 L573.35 552.01 L573.57 539.26 L573.79 551.47 L574.01 539.83 L574.23 550.94 L574.45 540.41 L574.67 550.4 L574.89 540.98 L575.11 549.87 L575.33 541.56 L575.55 549.33 L575.77 542.13 L575.99 548.8 L576.21 542.7 L576.43 548.26 L576.65 543.28 L576.87 547.73 L577.09 543.85 L577.32 547.19 L577.54 544.43 L577.76 546.66 L577.98 545 L578.2 546.12 L578.42 545.58 L578.53 545.72 L579.74 545.85 L580.84 547.99 L600.11 547.99 L600.66 548.27 L601.21 548.54 L601.76 548.81 L602.31 549.07 L602.86 549.32 L603.41 549.57 L603.96 549.81 L604.51 550.04 L605.07 550.27 L605.62 550.5 L606.17 550.72 L606.72 550.93 L607.27 551.14 L607.82 551.34 L608.37 551.54 L608.92 551.74 L609.47 551.93 L610.02 552.11 L610.57 552.29 L611.12 552.47 L611.67 552.64 L612.22 552.81 L612.77 552.97 L613.32 553.13 L613.87 553.29 L614.43 553.44 L614.98 553.59 L615.53 553.74 L616.08 553.88 L616.63 554.02 L617.18 554.16 L617.73 554.29 L618.28 554.42 L618.83 554.54 L619.38 554.67 L619.93 554.79 L620.48 554.9 L621.03 555.02 L621.58 555.13 L622.13 555.24 L622.68 555.35 L623.24 555.45 L623.79 555.55 L624.34 555.65 L624.89 555.75 L625.44 555.84 L625.99 555.93 L626.54 556.02 L627.09 556.11 L627.64 556.2 L628.19 556.28 L628.74 556.36 L629.29 556.44 L629.84 556.52 L630.39 556.6 L630.94 556.67 L631.49 556.75 L632.04 556.82 L632.6 556.89 L633.15 556.95 L633.7 557.02 L634.25 557.08 L634.8 557.15 L635.35 557.21 L635.9 557.27 L636.45 557.33 L636.72 557.35 L636.72 530.08 L637.39 536.63 L638.05 536.31 L638.71 537.01 L639.37 536.35 L640.03 537 L640.69 536.34 L641.35 536.88 L642.01 536.27 L642.67 537.02 L643.33 536.41 L643.99 536.95 L644.65 536.3 L645.31 536.87 L645.97 536.35 L646.64 536.86 L647.3 536.39 L647.96 536.88 L648.62 536.31 L649.28 536.96 L649.94 536.39 L650.6 536.83 L651.26 536.36 L651.92 536.96 L652.58 536.39 L653.24 536.89 L653.9 536.39 L654.56 536.99 L655.23 536.32 L655.89 536.84 L656.55 536.41 L657.21 536.91 L657.87 536.32 L658.53 536.96 L659.19 536.41 L659.85 536.86 L660.51 536.29 L661.17 536.91 L661.83 536.37 L662.49 536.89 L663.15 536.24 L663.81 536.89 L664.48 536.31 L665.14 536.9 L665.8 536.34 L666.46 537 L667.12 536.23 L667.78 536.9 L668.44 536.39 L669.1 536.97 L669.76 536.39 L670.42 536.83 L671.08 536.25 L671.74 536.91 L672.4 536.26 L673.06 536.91 L673.73 536.25 L674.39 536.92 L675.05 536.39 L675.71 536.83 L676.37 536.32 L677.03 536.96 L677.69 536.24 L678.35 536.85 L679.01 536.3 L679.67 536.9 L680.33 536.33 L680.99 536.86 L681.65 536.37 L682.31 536.93 L682.7 536.24" stroke="#ff0000" stroke-width="1.8"/>
<path d="M407.4 546.26 L407.41 546.04 L407.43 545.4 L407.44 544.33 L407.46 542.84 L407.47 540.95 L407.48 538.67 L407.5 536.01 L407.51 533.01 L407.52 529.67 L407.54 526.03 L407.55 522.11 L407.57 517.94 L407.58 513.56 L407.59 509 L407.61 504.29 L407.62 499.47 L407.63 494.58 L407.65 489.65 L407.66 484.72 L407.68 479.82 L407.69 475.01 L407.7 470.31 L407.72 465.75 L407.73 461.38 L407.74 457.22 L407.76 453.32 L407.77 449.69 L407.79 446.37 L407.8 443.37 L407.81 440.74 L407.83 438.47 L407.84 436.6 L407.85 435.13 L407.87 434.08 L407.88 433.46 L407.9 433.26 L407.91 433.36 L407.92 433.63 L407.94 434.07 L407.95 434.69 L407.97 435.47 L407.98 436.42 L407.99 437.54 L408.01 438.81 L408.02 440.23 L408.03 441.8 L408.05 443.5 L408.06 445.34 L408.08 447.3 L408.09 449.38 L408.1 451.56 L408.12 453.84 L408.13 456.21 L408.14 458.65 L408.16 461.16 L408.17 463.72 L408.19 466.33 L408.2 468.98 L408.21 471.64 L408.23 474.32 L408.24 476.99 L408.25 479.65 L408.27 482.29 L408.28 484.9 L408.3 487.45 L408.31 489.95 L408.32 492.38 L408.34 494.74 L408.35 497 L408.36 499.17 L408.38 501.23 L408.39 503.17 L408.41 504.99 L408.42 506.67 L408.43 508.22 L408.45 509.62 L408.46 510.87 L408.48 511.96 L408.49 512.88 L408.5 513.64 L408.52 514.23 L408.53 514.65 L408.54 514.89 L408.56 514.96 L408.57 514.9 L408.59 514.74 L408.6 514.47 L408.61 514.1 L408.63 513.63 L408.64 513.07 L408.65 512.42 L408.67 511.68 L408.68 510.85 L408.7 509.95 L408.71 508.97 L408.72 507.93 L408.74 506.82 L408.75 505.66 L408.76 504.45 L408.78 503.2 L408.79 501.91 L408.81 500.6 L408.82 499.28 L408.83 497.94 L408.85 496.6 L408.86 495.27 L408.87 493.95 L408.89 492.65 L408.9 491.38 L408.92 490.15 L408.93 488.96 L408.94 487.82 L408.96 486.74 L408.97 485.73 L408.98 484.78 L409 483.91 L409.01 483.13 L409.03 482.43 L409.04 481.82 L409.05 481.3 L409.07 480.88 L409.08 480.56 L409.1 480.34 L409.11 480.22 L409.12 480.2 L409.14 480.31 L409.15 480.55 L409.16 480.9 L409.18 481.38 L409.19 481.97 L409.21 482.68 L409.22 483.49 L409.23 484.4 L409.25 485.41 L409.26 486.51 L409.27 487.68 L409.29 488.93 L409.3 490.23 L409.32 491.59 L409.33 492.98 L409.34 494.41 L409.36 495.85 L409.37 497.31 L409.38 498.76 L409.4 500.2 L409.41 501.62 L409.43 503 L409.44 504.34 L409.45 505.62 L409.47 506.84 L409.48 507.99 L409.49 509.06 L409.51 510.03 L409.52 510.91 L409.54 511.68 L409.55 512.35 L409.56 512.9 L409.58 513.33 L409.59 513.64 L409.61 513.83 L409.62 513.89 L409.63 513.84 L409.65 513.69 L409.66 513.43 L409.67 513.07 L409.69 512.61 L409.7 512.06 L409.72 511.42 L409.73 510.7 L409.74 509.89 L409.76 509.02 L409.77 508.08 L409.78 507.09 L409.8 506.04 L409.81 504.96 L409.83 503.84 L409.84 502.71 L409.85 501.56 L409.87 500.4 L409.88 499.25 L409.89 498.12 L409.91 497.01 L409.92 495.94 L409.94 494.91 L409.95 493.92 L409.96 493 L409.98 492.15 L409.99 491.36 L410 490.66 L410.02 490.04 L410.03 489.51 L410.05 489.08 L410.06 488.75 L410.07 488.51 L410.09 488.38 L410.1 488.36 L410.12 488.42 L410.13 488.58 L410.14 488.82 L410.16 489.15 L410.17 489.56 L410.18 490.05 L410.2 490.62 L410.21 491.26 L410.23 491.98 L410.24 492.75 L410.25 493.59 L410.27 494.48 L410.28 495.42 L410.29 496.41 L410.31 497.42 L410.32 498.47 L410.34 499.54 L410.35 500.63 L410.36 501.72 L410.38 502.82 L410.39 503.9 L410.4 504.98 L410.42 506.03 L410.43 507.06 L410.45 508.05 L410.46 509 L410.47 509.91 L410.49 510.76 L410.5 511.55 L410.51 512.28 L410.53 512.94 L410.54 513.53 L410.56 514.04 L410.57 514.48 L410.58 514.82 L410.6 515.09 L410.61 515.27 L410.63 515.35 L410.64 515.35 L410.65 515.23 L410.67 514.98 L410.68 514.61 L410.69 514.12 L410.71 513.51 L410.72 512.8 L410.74 511.98 L410.75 511.07 L410.76 510.06 L410.78 508.97 L410.79 507.81 L410.8 506.59 L410.82 505.32 L410.83 504 L410.85 502.64 L410.86 501.27 L410.87 499.89 L410.89 498.51 L410.9 497.14 L410.91 495.79 L410.93 494.48 L410.94 493.22 L410.96 492.01 L410.97 490.87 L410.98 489.8 L411 488.81 L411.01 487.92 L411.02 487.13 L411.04 486.44 L411.05 485.86 L411.07 485.4 L411.08 485.06 L411.09 484.84 L411.11 484.75 L411.12 484.78 L411.14 484.94 L411.15 485.23 L411.16 485.65 L411.18 486.2 L411.19 486.86 L411.2 487.65 L411.22 488.55 L411.23 489.56 L411.25 490.68 L411.26 491.89 L411.27 493.19 L411.29 494.58 L411.3 496.05 L411.31 497.58 L411.33 499.17 L411.34 500.82 L411.36 502.5 L411.37 504.22 L411.38 505.96 L411.4 507.72 L411.41 509.48 L411.42 511.24 L411.44 512.98 L411.45 514.69 L411.47 516.37 L411.48 518.01 L411.49 519.59 L411.51 521.12 L411.52 522.57 L411.53 523.95 L411.55 525.24 L411.56 526.44 L411.58 527.54 L411.59 528.54 L411.6 529.42 L411.62 530.19 L411.63 530.84 L411.65 531.37 L411.66 531.77 L411.67 532.05 L411.69 532.19 L411.7 532.2 L411.71 532.03 L411.73 531.68 L411.74 531.15 L411.76 530.44 L411.77 529.55 L411.78 528.5 L411.8 527.28 L411.81 525.91 L411.82 524.4 L411.84 522.75 L411.85 520.98 L411.87 519.1 L411.88 517.11 L411.89 515.04 L411.91 512.9 L411.92 510.7 L411.93 508.45 L411.95 506.18 L411.96 503.89 L411.98 501.6 L411.99 499.32 L412 497.08 L412.02 494.88 L412.03 492.74 L412.04 490.67 L412.06 488.69 L412.07 486.81 L412.09 485.04 L412.1 483.4 L412.11 481.89 L412.13 480.53 L412.14 479.32 L412.15 478.27 L412.17 477.39 L412.18 476.69 L412.2 476.16 L412.21 475.82 L412.22 475.66 L412.24 475.69 L412.25 475.9 L412.27 476.29 L412.28 476.86 L412.29 477.6 L412.31 478.52 L412.32 479.61 L412.33 480.85 L412.35 482.25 L412.36 483.8 L412.38 485.48 L412.39 487.3 L412.4 489.23 L412.42 491.27 L412.43 493.41 L412.44 495.63 L412.46 497.93 L412.47 500.28 L412.49 502.68 L412.5 505.12 L412.51 507.58 L412.53 510.04 L412.54 512.5 L412.55 514.94 L412.57 517.34 L412.58 519.7 L412.6 522 L412.61 524.23 L412.62 526.37 L412.64 528.42 L412.65 530.36 L412.66 532.18 L412.68 533.87 L412.69 535.42 L412.71 536.83 L412.72 538.09 L412.73 539.18 L412.75 540.11 L412.76 540.87 L412.78 541.45 L412.79 541.85 L412.8 542.07 L412.82 542.1 L412.83 541.98 L412.84 541.71 L412.86 541.28 L412.87 540.71 L412.89 539.99 L412.9 539.12 L412.91 538.12 L412.93 536.99 L412.94 535.73 L412.95 534.35 L412.97 532.85 L412.98 531.25 L413 529.55 L413.01 527.76 L413.02 525.89 L413.04 523.94 L413.05 521.94 L413.06 519.88 L413.08 517.78 L413.09 515.66 L413.11 513.51 L413.12 511.35 L413.13 509.19 L413.15 507.04 L413.16 504.92 L413.17 502.83 L413.19 500.79 L413.2 498.8 L413.22 496.87 L413.23 495.02 L413.24 493.25 L413.26 491.58 L413.27 490 L413.29 488.53 L413.3 487.18 L413.31 485.95 L413.33 484.85 L413.34 483.89 L413.35 483.06 L413.37 482.38 L413.38 481.84 L413.4 481.45 L413.41 481.22 L413.42 481.13 L413.44 481.26 L413.45 481.65 L413.46 482.31 L413.48 483.22 L413.49 484.39 L413.51 485.8 L413.52 487.44 L413.53 489.29 L413.55 491.33 L413.56 493.55 L413.57 495.93 L413.59 498.44 L413.6 501.06 L413.62 503.77 L413.63 506.55 L413.64 509.36 L413.66 512.18 L413.67 514.98 L413.68 517.75 L413.7 520.44 L413.71 523.05 L413.73 525.54 L413.74 527.9 L413.75 530.09 L413.77 532.11 L413.78 533.93 L413.8 535.53 L413.81 536.9 L413.82 538.04 L413.84 538.91 L413.85 539.53 L413.86 539.88 L413.88 539.97 L413.89 539.9 L413.91 539.74 L413.92 539.48 L413.93 539.12 L413.95 538.68 L413.96 538.14 L413.97 537.51 L413.99 536.79 L414 535.99 L414.02 535.12 L414.03 534.16 L414.04 533.14 L414.06 532.04 L414.07 530.88 L414.08 529.67 L414.1 528.4 L414.11 527.08 L414.13 525.72 L414.14 524.32 L414.15 522.89 L414.17 521.44 L414.18 519.97 L414.19 518.49 L414.21 517 L414.22 515.51 L414.24 514.02 L414.25 512.55 L414.26 511.1 L414.28 509.68 L414.29 508.28 L414.31 506.92 L414.32 505.61 L414.33 504.34 L414.35 503.13 L414.36 501.97 L414.37 500.88 L414.39 499.86 L414.4 498.91 L414.42 498.03 L414.43 497.24 L414.44 496.53 L414.46 495.91 L414.47 495.37 L414.48 494.93 L414.5 494.58 L414.51 494.33 L414.53 494.17 L414.54 494.1 L414.55 494.15 L414.57 494.34 L414.58 494.65 L414.59 495.09 L414.61 495.67 L414.62 496.37 L414.64 497.18 L414.65 498.12 L414.66 499.16 L414.68 500.31 L414.69 501.55 L414.7 502.89 L414.72 504.3 L414.73 505.78 L414.75 507.33 L414.76 508.94 L414.77 510.58 L414.79 512.26 L414.8 513.97 L414.81 515.69 L414.83 517.41 L414.84 519.13 L414.86 520.83 L414.87 522.5 L414.88 524.13 L414.9 525.71 L414.91 527.24 L414.93 528.7 L414.94 530.08 L414.95 531.38 L414.97 532.59 L414.98 533.7 L414.99 534.71 L415.01 535.6 L415.02 536.37 L415.04 537.03 L415.05 537.55 L415.06 537.95 L415.08 538.22 L415.09 538.35 L415.1 538.35 L415.12 538.22 L415.13 537.96 L415.15 537.57 L415.16 537.06 L415.17 536.42 L415.19 535.67 L415.2 534.81 L415.21 533.85 L415.23 532.79 L415.24 531.63 L415.26 530.4 L415.27 529.1 L415.28 527.73 L415.3 526.31 L415.31 524.85 L415.32 523.35 L415.34 521.84 L415.35 520.31 L415.37 518.79 L415.38 517.28 L415.39 515.79 L415.41 514.34 L415.42 512.93 L415.44 511.58 L415.45 510.29 L415.46 509.08 L415.48 507.95 L415.49 506.91 L415.5 505.98 L415.52 505.15 L415.53 504.43 L415.55 503.82 L415.56 503.34 L415.57 502.99 L415.59 502.76 L415.6 502.67 L415.61 502.7 L415.63 502.89 L415.64 503.22 L415.66 503.7 L415.67 504.32 L415.68 505.07 L415.7 505.95 L415.71 506.95 L415.72 508.07 L415.74 509.29 L415.75 510.6 L415.77 512 L415.78 513.47 L415.79 515 L415.81 516.58 L415.82 518.19 L415.83 519.83 L415.85 521.47 L415.86 523.11 L415.88 524.73 L415.89 526.32 L415.9 527.86 L415.92 529.34 L415.93 530.76 L415.95 532.1 L415.96 533.34 L415.97 534.48 L415.99 535.51 L416 536.42 L416.01 537.21 L416.03 537.86 L416.04 538.37 L416.06 538.74 L416.07 538.96 L416.08 539.03 L416.08 524.96 L416.36 539.11 L416.63 525.75 L416.91 538.66 L417.18 525.32 L417.46 539.45 L417.73 526.15 L418.01 538.66 L418.29 525.86 L418.56 539.52 L418.84 526.41 L419.11 539.21 L419.39 526.53 L419.66 538.99 L419.94 526.6 L420.21 539.42 L420.49 526.7 L420.76 539.36 L421.04 526.42 L421.31 538.78 L421.59 526.73 L421.86 539.4 L422.14 526.07 L422.41 539.21 L422.69 526.26 L422.97 539.3 L423.24 525.8 L423.52 539.49 L423.79 526.52 L424.07 538.95 L424.34 526.1 L424.62 539.25 L424.89 527 L425.17 539.53 L425.44 527.3 L425.72 539.23 L425.99 527.31 L426.27 538.61 L426.54 527.56 L426.82 538.62 L427.09 527.59 L427.37 538.15 L427.65 527.83 L427.92 537.86 L428.2 528.07 L428.47 537.85 L428.75 527.91 L429.02 537.51 L429.3 528.36 L429.57 537.84 L429.85 528.57 L430.12 537.29 L430.4 528.24 L430.67 537.82 L430.95 528.21 L431.22 537.86 L431.5 527.84 L431.78 537.52 L432.05 527.76 L432.33 537.48 L432.6 527.99 L432.88 537.82 L433.15 527.91 L433.43 537.76 L433.7 527.8 L433.98 537.15 L434.25 527.39 L434.53 537.87 L434.8 527.18 L435.08 537.6 L435.35 527.4 L435.63 537.87 L435.9 527.92 L436.18 537.1 L436.46 528.65 L436.73 537.31 L437.01 528.99 L437.28 537.08 L437.56 529.5 L437.83 536.73 L438.11 529.94 L438.38 537.09 L438.66 529.87 L438.93 536 L439.21 529.23 L439.48 536.17 L439.76 529.93 L440.03 536.07 L440.31 530.1 L440.58 535.94 L440.86 529.85 L441.14 536.04 L441.41 529.31 L441.69 535.29 L441.96 528.79 L442.24 535.89 L442.51 528.83 L442.79 535.81 L443.06 528.15 L443.34 535.92 L443.61 527.39 L443.89 535.19 L444.16 525.31 L444.44 535.2 L444.71 524.75 L444.99 535.29 L445.26 524.7 L445.54 535.5 L445.82 526.78 L446.09 535.64 L446.37 529.08 L446.64 535.21 L446.92 530.31 L447.19 534.06 L447.47 530.22 L447.74 533.11 L448.02 530.76 L448.29 533.13 L448.57 530.98 L448.84 533.54 L449.12 531.21 L449.39 533.55 L449.67 530.68 L449.94 533.66 L450.22 530.81 L450.5 534.51 L450.77 531.15 L451.05 534.71 L451.32 531.28 L451.6 534.01 L451.87 531.16 L452.15 532.83 L452.42 531.17 L452.7 532.63 L452.97 530.97 L453.25 532.83 L453.52 530.76 L453.8 532.49 L454.07 531.46 L454.35 532.02 L454.62 531.54 L454.9 531.39 L455.18 531.36 L455.3 531.75 L456.4 531.75 L457.5 531.75 L458.61 531.75 L459.71 531.75 L460.81 531.75 L461.91 531.75 L463.01 531.75 L464.11 531.75 L465.21 531.75 L466.31 531.75 L467.42 531.75 L468.52 531.75 L469.62 531.75 L470.72 531.75 L471.82 531.75 L472.92 531.75 L474.02 531.75 L475.12 531.75 L476.23 531.75 L477.33 531.75 L478.43 531.75 L479.53 531.75 L480.63 531.75 L481.73 531.75 L482.83 531.75 L483.93 531.75 L485.03 531.75 L486.14 531.75 L487.24 531.75 L488.34 531.75 L489.44 531.75 L490.54 531.75 L491.64 531.75 L492.74 531.75 L493.84 531.75 L494.95 531.75 L496.05 531.75 L497.15 531.75 L498.25 531.75 L499.35 531.75 L500.45 531.75 L501.55 531.75 L502.65 531.75 L503.76 531.75 L504.86 531.75 L505.96 531.75 L507.06 531.75 L508.16 531.75 L509.26 531.75 L510.36 531.75 L511.46 531.75 L512.56 531.75 L513.67 531.75 L514.77 531.75 L515.87 531.75 L516.97 531.75 L518.07 531.75 L519.17 531.75 L520.27 531.75 L521.37 531.75 L522.48 531.75 L523.58 531.75 L524.68 531.75 L525.78 531.75 L526.88 531.75 L527.98 531.75 L529.08 531.75 L530.18 531.75 L531.29 531.75 L532.39 531.75 L533.49 531.75 L534.59 531.75 L535.69 531.75 L536.79 531.75 L537.89 531.75 L538.99 531.75 L540.09 531.75 L541.2 531.75 L542.3 531.75 L543.4 531.75 L544.5 531.75 L545.6 531.75 L546.7 531.75 L547.8 531.75 L548.9 531.75 L550.01 531.75 L551.11 531.75 L552.21 531.75 L553.31 531.75 L554.41 531.75 L555.51 531.75 L556.61 531.75 L557.71 531.75 L558.82 531.75 L559.92 531.75 L561.02 531.75 L562.12 531.75 L563.22 531.75 L564.32 531.75 L565.42 531.75 L566.52 531.75 L567.62 531.75 L568.73 531.75 L569.83 531.75 L570.93 531.75 L572.03 531.75 L572.3 531.75 L572.58 531.75 L572.58 553.74 L572.75 543.05 L572.91 550.29 L573.13 542.32 L573.35 549.96 L573.57 542.45 L573.79 549.63 L574.01 542.62 L574.23 549.29 L574.45 542.82 L574.67 548.96 L574.89 543.05 L575.11 548.63 L575.33 543.3 L575.55 548.3 L575.77 543.59 L575.99 547.97 L576.21 543.9 L576.43 547.64 L576.65 544.23 L576.87 547.31 L577.09 544.58 L577.32 546.98 L577.54 544.96 L577.76 546.65 L577.98 545.36 L578.2 546.32 L578.42 545.77 L578.64 545.99 L580.73 546.12 L581.22 547.99 L600.11 547.99 L600.66 548.23 L601.21 548.46 L601.76 548.69 L602.31 548.91 L602.86 549.13 L603.41 549.34 L603.96 549.54 L604.51 549.74 L605.07 549.93 L605.62 550.11 L606.17 550.29 L606.72 550.47 L607.27 550.63 L607.82 550.79 L608.37 550.95 L608.92 551.1 L609.47 551.24 L610.02 551.38 L610.57 551.52 L611.12 551.64 L611.67 551.76 L612.22 551.88 L612.77 551.99 L613.32 552.09 L613.87 552.19 L614.43 552.28 L614.98 552.36 L615.53 552.44 L616.08 552.52 L616.63 552.58 L617.18 552.65 L617.73 552.7 L618.28 552.75 L618.83 552.8 L619.38 552.83 L619.93 552.87 L620.48 552.89 L621.03 552.91 L621.58 552.93 L622.13 552.94 L622.68 552.94 L623.24 552.94 L623.79 552.93 L624.34 552.91 L624.89 552.89 L625.44 552.87 L625.99 552.83 L626.54 552.8 L627.09 552.75 L627.64 552.7 L628.19 552.65 L628.74 552.58 L629.29 552.52 L629.84 552.44 L630.39 552.36 L630.94 552.28 L631.49 552.19 L632.04 552.09 L632.6 551.99 L633.15 551.88 L633.7 551.76 L634.25 551.64 L634.8 551.52 L635.35 551.38 L635.9 551.24 L636.34 551.13 L636.34 526.73 L637 531.75 L638.65 531.75 L640.3 531.75 L641.96 531.75 L643.61 531.75 L645.26 531.75 L646.91 531.75 L648.56 531.75 L650.21 531.75 L651.87 531.75 L653.52 531.75 L655.17 531.75 L656.82 531.75 L658.47 531.75 L660.13 531.75 L661.78 531.75 L663.43 531.75 L665.08 531.75 L666.73 531.75 L668.38 531.75 L670.04 531.75 L671.69 531.75 L673.34 531.75 L674.99 531.75 L676.64 531.75 L678.3 531.75 L679.95 531.75 L681.6 531.75 L682.7 531.75" stroke="#ffff00" stroke-width="1.8"/>
<path d="M407.4 546.26 L407.41 546.11 L407.43 545.67 L407.44 544.94 L407.46 543.93 L407.47 542.64 L407.48 541.09 L407.5 539.28 L407.51 537.23 L407.52 534.95 L407.54 532.46 L407.55 529.77 L407.57 526.92 L407.58 523.91 L407.59 520.77 L407.61 517.52 L407.62 514.19 L407.63 510.8 L407.65 507.38 L407.66 503.94 L407.68 500.52 L407.69 497.14 L407.7 493.83 L407.72 490.6 L407.73 487.49 L407.74 484.51 L407.76 481.68 L407.77 479.04 L407.79 476.59 L407.8 474.35 L407.81 472.35 L407.83 470.59 L407.84 469.09 L407.85 467.85 L407.87 466.9 L407.88 466.23 L407.9 465.85 L407.91 465.76 L407.92 465.87 L407.94 466.13 L407.95 466.55 L407.96 467.12 L407.98 467.83 L407.99 468.69 L408.01 469.7 L408.02 470.83 L408.03 472.1 L408.05 473.48 L408.06 474.99 L408.07 476.59 L408.09 478.3 L408.1 480.1 L408.12 481.97 L408.13 483.92 L408.14 485.92 L408.16 487.97 L408.17 490.07 L408.18 492.18 L408.2 494.32 L408.21 496.46 L408.23 498.59 L408.24 500.7 L408.25 502.79 L408.27 504.83 L408.28 506.83 L408.29 508.76 L408.31 510.62 L408.32 512.4 L408.34 514.08 L408.35 515.67 L408.36 517.15 L408.38 518.51 L408.39 519.75 L408.4 520.86 L408.42 521.84 L408.43 522.67 L408.45 523.36 L408.46 523.9 L408.47 524.28 L408.49 524.51 L408.5 524.59 L408.51 524.55 L408.53 524.41 L408.54 524.18 L408.56 523.86 L408.57 523.45 L408.58 522.95 L408.6 522.38 L408.61 521.72 L408.63 520.99 L408.64 520.19 L408.65 519.32 L408.67 518.39 L408.68 517.41 L408.69 516.38 L408.71 515.31 L408.72 514.2 L408.74 513.06 L408.75 511.9 L408.76 510.73 L408.78 509.55 L408.79 508.37 L408.8 507.2 L408.82 506.04 L408.83 504.9 L408.85 503.79 L408.86 502.72 L408.87 501.69 L408.89 500.71 L408.9 499.78 L408.91 498.91 L408.93 498.11 L408.94 497.38 L408.96 496.72 L408.97 496.14 L408.98 495.65 L409 495.24 L409.01 494.92 L409.02 494.69 L409.04 494.55 L409.05 494.51 L409.07 494.56 L409.08 494.73 L409.09 495.01 L409.11 495.39 L409.12 495.88 L409.13 496.48 L409.15 497.17 L409.16 497.95 L409.18 498.81 L409.19 499.76 L409.2 500.78 L409.22 501.86 L409.23 503 L409.24 504.18 L409.26 505.41 L409.27 506.66 L409.29 507.93 L409.3 509.21 L409.31 510.5 L409.33 511.77 L409.34 513.02 L409.35 514.25 L409.37 515.43 L409.38 516.57 L409.4 517.65 L409.41 518.67 L409.42 519.62 L409.44 520.48 L409.45 521.26 L409.46 521.95 L409.48 522.55 L409.49 523.04 L409.51 523.42 L409.52 523.7 L409.53 523.87 L409.55 523.92 L409.56 523.89 L409.57 523.79 L409.59 523.63 L409.6 523.4 L409.62 523.11 L409.63 522.76 L409.64 522.34 L409.66 521.87 L409.67 521.35 L409.68 520.77 L409.7 520.15 L409.71 519.48 L409.73 518.76 L409.74 518.01 L409.75 517.23 L409.77 516.41 L409.78 515.57 L409.8 514.71 L409.81 513.83 L409.82 512.94 L409.84 512.05 L409.85 511.15 L409.86 510.25 L409.88 509.37 L409.89 508.49 L409.91 507.64 L409.92 506.8 L409.93 505.99 L409.95 505.21 L409.96 504.47 L409.97 503.76 L409.99 503.1 L410 502.48 L410.02 501.92 L410.03 501.4 L410.04 500.95 L410.06 500.54 L410.07 500.2 L410.08 499.93 L410.1 499.71 L410.11 499.56 L410.13 499.47 L410.14 499.45 L410.15 499.51 L410.17 499.66 L410.18 499.89 L410.19 500.2 L410.21 500.59 L410.22 501.05 L410.24 501.59 L410.25 502.2 L410.26 502.88 L410.28 503.62 L410.29 504.41 L410.3 505.25 L410.32 506.13 L410.33 507.05 L410.35 508 L410.36 508.97 L410.37 509.96 L410.39 510.95 L410.4 511.95 L410.41 512.94 L410.43 513.92 L410.44 514.88 L410.46 515.82 L410.47 516.71 L410.48 517.57 L410.5 518.38 L410.51 519.14 L410.52 519.84 L410.54 520.48 L410.55 521.05 L410.57 521.54 L410.58 521.96 L410.59 522.31 L410.61 522.57 L410.62 522.75 L410.63 522.84 L410.65 522.85 L410.66 522.77 L410.68 522.62 L410.69 522.38 L410.7 522.06 L410.72 521.66 L410.73 521.19 L410.74 520.65 L410.76 520.04 L410.77 519.37 L410.79 518.64 L410.8 517.85 L410.81 517.02 L410.83 516.14 L410.84 515.23 L410.86 514.29 L410.87 513.32 L410.88 512.34 L410.9 511.35 L410.91 510.36 L410.92 509.37 L410.94 508.39 L410.95 507.43 L410.97 506.49 L410.98 505.59 L410.99 504.72 L411.01 503.89 L411.02 503.12 L411.03 502.4 L411.05 501.74 L411.06 501.14 L411.08 500.61 L411.09 500.16 L411.1 499.78 L411.12 499.47 L411.13 499.25 L411.14 499.11 L411.16 499.05 L411.17 499.08 L411.19 499.2 L411.2 499.4 L411.21 499.69 L411.23 500.06 L411.24 500.52 L411.25 501.06 L411.27 501.67 L411.28 502.35 L411.3 503.1 L411.31 503.91 L411.32 504.78 L411.34 505.7 L411.35 506.66 L411.36 507.65 L411.38 508.68 L411.39 509.73 L411.41 510.8 L411.42 511.87 L411.43 512.95 L411.45 514.02 L411.46 515.08 L411.47 516.12 L411.49 517.13 L411.5 518.1 L411.52 519.04 L411.53 519.93 L411.54 520.76 L411.56 521.53 L411.57 522.24 L411.58 522.89 L411.6 523.45 L411.61 523.94 L411.63 524.35 L411.64 524.67 L411.65 524.91 L411.67 525.06 L411.68 525.13 L411.69 525.1 L411.71 524.99 L411.72 524.79 L411.74 524.5 L411.75 524.13 L411.76 523.68 L411.78 523.15 L411.79 522.55 L411.8 521.88 L411.82 521.13 L411.83 520.33 L411.85 519.46 L411.86 518.54 L411.87 517.58 L411.89 516.57 L411.9 515.53 L411.91 514.46 L411.93 513.37 L411.94 512.25 L411.96 511.13 L411.97 510.01 L411.98 508.89 L412 507.79 L412.01 506.7 L412.03 505.63 L412.04 504.59 L412.05 503.59 L412.07 502.64 L412.08 501.73 L412.09 500.88 L412.11 500.08 L412.12 499.35 L412.14 498.69 L412.15 498.1 L412.16 497.59 L412.18 497.16 L412.19 496.81 L412.2 496.54 L412.22 496.36 L412.23 496.26 L412.25 496.25 L412.26 496.34 L412.27 496.54 L412.29 496.84 L412.3 497.24 L412.31 497.73 L412.33 498.32 L412.34 499 L412.36 499.77 L412.37 500.62 L412.38 501.54 L412.4 502.54 L412.41 503.6 L412.42 504.72 L412.44 505.9 L412.45 507.12 L412.47 508.38 L412.48 509.66 L412.49 510.97 L412.51 512.3 L412.52 513.63 L412.53 514.95 L412.55 516.27 L412.56 517.58 L412.58 518.85 L412.59 520.09 L412.6 521.3 L412.62 522.45 L412.63 523.55 L412.64 524.59 L412.66 525.56 L412.67 526.45 L412.69 527.27 L412.7 528 L412.71 528.65 L412.73 529.2 L412.74 529.65 L412.75 530.01 L412.77 530.27 L412.78 530.42 L412.8 530.48 L412.81 530.42 L412.82 530.26 L412.84 529.99 L412.85 529.62 L412.86 529.15 L412.88 528.57 L412.89 527.9 L412.91 527.13 L412.92 526.28 L412.93 525.35 L412.95 524.33 L412.96 523.25 L412.97 522.1 L412.99 520.89 L413 519.64 L413.02 518.33 L413.03 517 L413.04 515.63 L413.06 514.25 L413.07 512.85 L413.08 511.45 L413.1 510.06 L413.11 508.67 L413.13 507.31 L413.14 505.98 L413.15 504.69 L413.17 503.44 L413.18 502.24 L413.2 501.11 L413.21 500.04 L413.22 499.04 L413.24 498.12 L413.25 497.29 L413.26 496.54 L413.28 495.89 L413.29 495.33 L413.31 494.88 L413.32 494.52 L413.33 494.28 L413.35 494.14 L413.36 494.11 L413.37 494.19 L413.39 494.4 L413.4 494.73 L413.42 495.18 L413.43 495.75 L413.44 496.43 L413.46 497.22 L413.47 498.11 L413.48 499.1 L413.5 500.19 L413.51 501.36 L413.53 502.61 L413.54 503.94 L413.55 505.32 L413.57 506.77 L413.58 508.26 L413.59 509.78 L413.61 511.34 L413.62 512.91 L413.64 514.5 L413.65 516.08 L413.66 517.66 L413.68 519.21 L413.69 520.74 L413.7 522.23 L413.72 523.67 L413.73 525.06 L413.75 526.38 L413.76 527.63 L413.77 528.8 L413.79 529.89 L413.8 530.88 L413.81 531.78 L413.83 532.56 L413.84 533.24 L413.86 533.81 L413.87 534.26 L413.88 534.59 L413.9 534.8 L413.91 534.89 L413.92 534.85 L413.94 534.71 L413.95 534.46 L413.97 534.1 L413.98 533.63 L413.99 533.06 L414.01 532.39 L414.02 531.62 L414.03 530.76 L414.05 529.81 L414.06 528.78 L414.08 527.67 L414.09 526.49 L414.1 525.24 L414.12 523.93 L414.13 522.57 L414.14 521.16 L414.16 519.72 L414.17 518.25 L414.19 516.75 L414.2 515.24 L414.21 513.73 L414.23 512.21 L414.24 510.71 L414.25 509.22 L414.27 507.76 L414.28 506.33 L414.3 504.94 L414.31 503.6 L414.32 502.31 L414.34 501.09 L414.35 499.94 L414.37 498.86 L414.38 497.85 L414.39 496.94 L414.41 496.12 L414.42 495.39 L414.43 494.76 L414.45 494.23 L414.46 493.8 L414.48 493.48 L414.49 493.28 L414.5 493.18 L414.52 493.19 L414.53 493.31 L414.54 493.54 L414.56 493.88 L414.57 494.33 L414.59 494.88 L414.6 495.53 L414.61 496.29 L414.63 497.13 L414.64 498.07 L414.65 499.09 L414.67 500.19 L414.68 501.37 L414.7 502.62 L414.71 503.92 L414.72 505.28 L414.74 506.69 L414.75 508.14 L414.76 509.62 L414.78 511.13 L414.79 512.65 L414.81 514.19 L414.82 515.73 L414.83 517.26 L414.85 518.77 L414.86 520.26 L414.87 521.73 L414.89 523.15 L414.9 524.53 L414.92 525.86 L414.93 527.13 L414.94 528.34 L414.96 529.47 L414.97 530.52 L414.98 531.5 L415 532.38 L415.01 533.17 L415.03 533.86 L415.04 534.46 L415.05 534.95 L415.07 535.33 L415.08 535.6 L415.09 535.77 L415.11 535.83 L415.12 535.76 L415.14 535.57 L415.15 535.25 L415.16 534.81 L415.18 534.25 L415.19 533.57 L415.2 532.78 L415.22 531.88 L415.23 530.88 L415.25 529.77 L415.26 528.58 L415.27 527.31 L415.29 525.96 L415.3 524.54 L415.31 523.07 L415.33 521.55 L415.34 519.99 L415.36 518.4 L415.37 516.79 L415.38 515.17 L415.4 513.54 L415.41 511.93 L415.42 510.34 L415.44 508.78 L415.45 507.26 L415.47 505.79 L415.48 504.37 L415.49 503.02 L415.51 501.75 L415.52 500.56 L415.54 499.46 L415.55 498.45 L415.56 497.55 L415.58 496.76 L415.59 496.08 L415.6 495.52 L415.62 495.08 L415.63 494.76 L415.65 494.57 L415.66 494.51 L415.67 494.56 L415.69 494.74 L415.7 495.04 L415.71 495.45 L415.73 495.98 L415.74 496.61 L415.76 497.35 L415.77 498.2 L415.78 499.13 L415.8 500.16 L415.81 501.28 L415.82 502.47 L415.84 503.73 L415.85 505.06 L415.87 506.43 L415.88 507.86 L415.89 509.32 L415.91 510.81 L415.92 512.31 L415.93 513.83 L415.95 515.34 L415.96 516.85 L415.98 518.34 L415.99 519.8 L416 521.22 L416.02 522.6 L416.03 523.92 L416.04 525.19 L416.06 526.38 L416.07 527.49 L416.09 528.52 L416.1 529.46 L416.11 530.3 L416.13 531.04 L416.14 531.68 L416.15 532.21 L416.17 532.62 L416.18 532.91 L416.2 533.09 L416.21 533.15 L416.22 533.11 L416.24 532.98 L416.25 532.77 L416.26 532.47 L416.28 532.1 L416.29 531.64 L416.31 531.11 L416.32 530.5 L416.33 529.82 L416.35 529.07 L416.36 528.25 L416.37 527.38 L416.39 526.45 L416.4 525.47 L416.42 524.45 L416.43 523.38 L416.44 522.28 L416.46 521.14 L416.47 519.99 L416.48 518.81 L416.5 517.63 L416.51 516.44 L416.53 515.24 L416.54 514.06 L416.55 512.88 L416.57 511.73 L416.58 510.59 L416.6 509.49 L416.61 508.42 L416.62 507.4 L416.64 506.42 L416.65 505.49 L416.66 504.62 L416.68 503.8 L416.69 503.05 L416.71 502.37 L416.72 501.76 L416.73 501.23 L416.75 500.77 L416.76 500.4 L416.77 500.1 L416.79 499.89 L416.8 499.76 L416.82 499.72 L416.83 499.78 L416.84 499.95 L416.86 500.24 L416.87 500.63 L416.88 501.14 L416.9 501.74 L416.91 502.45 L416.93 503.26 L416.94 504.15 L416.95 505.12 L416.97 506.16 L416.98 507.28 L416.99 508.44 L417.01 509.66 L417.02 510.92 L417.04 512.21 L417.05 513.51 L417.06 514.83 L417.08 516.15 L417.09 517.45 L417.1 518.74 L417.12 520 L417.13 521.22 L417.15 522.39 L417.16 523.5 L417.17 524.54 L417.19 525.52 L417.2 526.41 L417.21 527.21 L417.23 527.92 L417.24 528.53 L417.26 529.03 L417.27 529.43 L417.28 529.71 L417.3 529.88 L417.31 529.94 L417.32 529.91 L417.34 529.81 L417.35 529.65 L417.37 529.42 L417.38 529.13 L417.39 528.78 L417.41 528.38 L417.42 527.91 L417.43 527.39 L417.45 526.82 L417.46 526.2 L417.48 525.54 L417.49 524.83 L417.5 524.09 L417.52 523.32 L417.53 522.51 L417.54 521.68 L417.56 520.84 L417.57 519.97 L417.59 519.1 L417.6 518.22 L417.61 517.34 L417.63 516.46 L417.64 515.59 L417.65 514.73 L417.67 513.9 L417.68 513.08 L417.7 512.29 L417.71 511.54 L417.72 510.82 L417.74 510.14 L417.75 509.5 L417.77 508.91 L417.78 508.37 L417.79 507.88 L417.81 507.45 L417.82 507.08 L417.83 506.77 L417.85 506.51 L417.86 506.33 L417.88 506.2 L417.89 506.14 L417.9 506.15 L417.92 506.24 L417.93 506.41 L417.94 506.65 L417.96 506.97 L417.97 507.36 L417.99 507.82 L418 508.34 L418.01 508.93 L418.03 509.58 L418.04 510.27 L418.05 511.02 L418.07 511.8 L418.08 512.62 L418.1 513.47 L418.11 514.33 L418.12 515.21 L418.14 516.1 L418.15 516.99 L418.16 517.87 L418.18 518.74 L418.19 519.58 L418.21 520.4 L418.22 521.18 L418.23 521.93 L418.25 522.63 L418.26 523.27 L418.27 523.86 L418.29 524.38 L418.3 524.84 L418.32 525.24 L418.33 525.55 L418.34 525.8 L418.36 525.96 L418.37 526.05 L418.38 526.06 L418.4 526.02 L418.41 525.92 L418.43 525.78 L418.44 525.59 L418.45 525.35 L418.47 525.07 L418.48 524.75 L418.49 524.38 L418.51 523.98 L418.52 523.54 L418.54 523.06 L418.55 522.56 L418.56 522.02 L418.58 521.46 L418.59 520.88 L418.6 520.28 L418.62 519.67 L418.63 519.04 L418.65 518.41 L418.66 517.78 L418.67 517.15 L418.69 516.52 L418.7 515.9 L418.71 515.29 L418.73 514.7 L418.74 514.12 L418.76 513.57 L418.77 513.05 L418.78 512.56 L418.8 512.09 L418.81 511.67 L418.82 511.28 L418.84 510.93 L418.85 510.62 L418.87 510.36 L418.88 510.14 L418.89 509.97 L418.91 509.85 L418.92 509.77 L418.94 509.75 L418.95 509.78 L418.96 509.88 L418.98 510.05 L418.99 510.28 L419 510.57 L419.02 510.93 L419.03 511.34 L419.05 511.81 L419.06 512.33 L419.07 512.9 L419.09 513.51 L419.1 514.17 L419.11 514.86 L419.13 515.58 L419.14 516.33 L419.16 517.09 L419.17 517.88 L419.18 518.67 L419.2 519.47 L419.21 520.27 L419.22 521.06 L419.24 521.84 L419.25 522.6 L419.27 523.34 L419.28 524.04 L419.29 524.72 L419.31 525.36 L419.32 525.96 L419.33 526.51 L419.35 527.01 L419.36 527.45 L419.38 527.84 L419.39 528.17 L419.4 528.44 L419.42 528.65 L419.43 528.79 L419.44 528.86 L419.46 528.87 L419.47 528.81 L419.49 528.7 L419.5 528.53 L419.51 528.3 L419.53 528.02 L419.54 527.68 L419.55 527.28 L419.57 526.84 L419.58 526.35 L419.6 525.82 L419.61 525.24 L419.62 524.62 L419.64 523.97 L419.65 523.29 L419.66 522.58 L419.68 521.84 L419.69 521.09 L419.71 520.32 L419.72 519.54 L419.73 518.76 L419.75 517.97 L419.76 517.18 L419.77 516.41 L419.79 515.64 L419.8 514.89 L419.82 514.16 L419.83 513.46 L419.84 512.78 L419.86 512.13 L419.87 511.52 L419.88 510.96 L419.9 510.43 L419.91 509.95 L419.93 509.52 L419.94 509.13 L419.95 508.8 L419.97 508.53 L419.98 508.31 L419.99 508.15 L420.01 508.05 L420.02 508.01 L420.04 508.03 L420.05 508.12 L420.06 508.28 L420.08 508.5 L420.09 508.78 L420.11 509.13 L420.12 509.54 L420.13 510.01 L420.15 510.54 L420.16 511.12 L420.17 511.75 L420.19 512.43 L420.2 513.15 L420.22 513.91 L420.23 514.7 L420.24 515.52 L420.26 516.37 L420.27 517.24 L420.28 518.13 L420.3 519.03 L420.31 519.93 L420.33 520.84 L420.34 521.74 L420.35 522.63 L420.37 523.51 L420.38 524.37 L420.39 525.2 L420.41 526.01 L420.42 526.78 L420.44 527.52 L420.45 528.21 L420.46 528.86 L420.48 529.46 L420.49 530.01 L420.5 530.5 L420.52 530.94 L420.53 531.31 L420.55 531.62 L420.56 531.87 L420.57 532.05 L420.59 532.17 L420.6 532.21 L420.61 532.2 L420.63 532.12 L420.64 531.98 L420.66 531.78 L420.67 531.52 L420.68 531.21 L420.7 530.84 L420.71 530.42 L420.72 529.95 L420.74 529.43 L420.75 528.87 L420.77 528.26 L420.78 527.61 L420.79 526.93 L420.81 526.21 L420.82 525.47 L420.83 524.7 L420.85 523.92 L420.86 523.11 L420.88 522.3 L420.89 521.48 L420.9 520.65 L420.92 519.83 L420.93 519.01 L420.94 518.21 L420.96 517.42 L420.97 516.65 L420.99 515.9 L421 515.18 L421.01 514.49 L421.03 513.83 L421.04 513.22 L421.05 512.64 L421.07 512.11 L421.08 511.63 L421.1 511.2 L421.11 510.82 L421.12 510.5 L421.14 510.23 L421.15 510.02 L421.16 509.87 L421.18 509.78 L421.19 509.75 L421.21 509.78 L421.22 509.88 L421.23 510.04 L421.25 510.27 L421.26 510.55 L421.28 510.9 L421.29 511.31 L421.3 511.77 L421.32 512.29 L421.33 512.86 L421.34 513.47 L421.36 514.13 L421.37 514.83 L421.39 515.57 L421.4 516.34 L421.41 517.13 L421.43 517.95 L421.44 518.79 L421.45 519.65 L421.47 520.51 L421.48 521.38 L421.5 522.25 L421.51 523.12 L421.52 523.97 L421.54 524.81 L421.55 525.63 L421.56 526.43 L421.58 527.2 L421.59 527.94 L421.61 528.64 L421.62 529.3 L421.63 529.91 L421.65 530.48 L421.66 531 L421.67 531.46 L421.69 531.86 L421.7 532.21 L421.72 532.5 L421.73 532.73 L421.74 532.89 L421.76 532.98 L421.77 533.02 L421.78 532.99 L421.8 532.92 L421.81 532.8 L421.83 532.64 L421.84 532.43 L421.85 532.17 L421.87 531.88 L421.88 531.54 L421.89 531.16 L421.91 530.75 L421.92 530.3 L421.94 529.82 L421.95 529.32 L421.96 528.79 L421.98 528.23 L421.99 527.66 L422 527.07 L422.02 526.47 L422.03 525.86 L422.05 525.25 L422.06 524.64 L422.07 524.03 L422.09 523.42 L422.1 522.83 L422.11 522.25 L422.13 521.69 L422.14 521.15 L422.16 520.63 L422.17 520.14 L422.18 519.68 L422.2 519.25 L422.21 518.86 L422.22 518.51 L422.24 518.19 L422.25 517.92 L422.27 517.7 L422.28 517.51 L422.29 517.37 L422.31 517.28 L422.32 517.24 L422.34 517.25 L422.35 517.29 L422.36 517.38 L422.38 517.51 L422.39 517.68 L422.4 517.89 L422.42 518.14 L422.43 518.43 L422.45 518.74 L422.46 519.1 L422.47 519.48 L422.49 519.88 L422.5 520.32 L422.51 520.77 L422.53 521.24 L422.54 521.73 L422.56 522.23 L422.57 522.74 L422.58 523.25 L422.6 523.76 L422.61 524.28 L422.62 524.78 L422.64 525.28 L422.65 525.76 L422.67 526.23 L422.68 526.68 L422.69 527.11 L422.71 527.51 L422.72 527.89 L422.73 528.23 L422.75 528.55 L422.76 528.82 L422.78 529.06 L422.79 529.27 L422.8 529.43 L422.82 529.55 L422.83 529.63 L422.84 529.67 L422.86 529.67 L422.87 529.61 L422.89 529.51 L422.9 529.36 L422.91 529.17 L422.93 528.93 L422.94 528.65 L422.95 528.33 L422.97 527.97 L422.98 527.57 L423 527.15 L423.01 526.69 L423.02 526.21 L423.04 525.71 L423.05 525.19 L423.06 524.66 L423.08 524.11 L423.09 523.57 L423.11 523.02 L423.12 522.47 L423.13 521.94 L423.15 521.41 L423.16 520.9 L423.17 520.41 L423.19 519.94 L423.2 519.51 L423.22 519.1 L423.23 518.72 L423.24 518.39 L423.26 518.09 L423.27 517.83 L423.28 517.62 L423.3 517.45 L423.31 517.33 L423.33 517.26 L423.34 517.24 L423.35 517.26 L423.37 517.34 L423.38 517.47 L423.39 517.64 L423.41 517.87 L423.42 518.14 L423.44 518.46 L423.45 518.82 L423.46 519.22 L423.48 519.65 L423.49 520.13 L423.51 520.63 L423.52 521.16 L423.53 521.72 L423.55 522.29 L423.56 522.89 L423.57 523.49 L423.59 524.11 L423.6 524.73 L423.62 525.34 L423.63 525.96 L423.64 526.56 L423.66 527.16 L423.67 527.73 L423.68 528.29 L423.7 528.82 L423.71 529.33 L423.73 529.8 L423.74 530.24 L423.75 530.64 L423.77 531 L423.78 531.31 L423.79 531.58 L423.81 531.81 L423.82 531.99 L423.84 532.11 L423.85 532.19 L423.86 532.21 L423.86 525.45 L424 531.01 L424.14 525.84 L424.28 532.71 L424.41 526.07 L424.55 533.13 L424.69 525.57 L424.83 532.02 L424.96 525.18 L425.1 532.82 L425.24 525.9 L425.38 532.81 L425.51 525.6 L425.65 530.19 L425.79 525.05 L425.93 532.04 L426.07 525.67 L426.2 531.09 L426.34 525.72 L426.48 530.13 L426.62 525.09 L426.75 531.39 L426.89 525.26 L427.03 532.09 L427.17 526.05 L427.3 530.12 L427.44 525.82 L427.58 532.2 L427.72 525.99 L427.85 530.22 L427.99 525.48 L428.13 530.23 L428.27 525.47 L428.41 531.61 L428.54 525 L428.68 531.59 L428.82 524.91 L428.96 531.32 L429.09 525.86 L429.23 530.36 L429.37 525.99 L429.51 530.31 L429.64 525.22 L429.78 530.73 L429.92 525.44 L430.06 530.11 L430.19 525.56 L430.33 531.51 L430.47 525.72 L430.61 529.63 L430.75 525.15 L430.88 529.86 L431.02 524.88 L431.16 531.52 L431.3 525.18 L431.43 530.23 L431.57 526.12 L431.71 530.22 L431.85 525.3 L431.98 529.86 L432.12 525.3 L432.26 531.58 L432.4 526.07 L432.53 530.53 L432.67 525.79 L432.81 530.44 L432.95 526.17 L433.09 530.96 L433.22 518.49 L433.36 530.35 L433.5 509.16 L433.64 531.05 L433.77 508.98 L433.91 530.69 L434.05 508.42 L434.19 531.65 L434.32 513.35 L434.46 532.01 L434.6 521.23 L434.74 531.83 L434.87 521.55 L435.01 531.92 L435.15 522.76 L435.29 531.27 L435.43 521.71 L435.56 532.09 L435.7 519.92 L435.84 530.3 L435.98 517.42 L436.11 530.26 L436.25 517.55 L436.39 531.93 L436.53 517.36 L436.66 531.12 L436.8 520.98 L436.94 529.88 L437.08 525.22 L437.21 531.87 L437.35 526.02 L437.49 529.58 L437.63 526.12 L437.77 531.72 L437.9 525.14 L438.04 531.69 L438.18 524.91 L438.32 529.7 L438.45 525.95 L438.59 530.25 L438.73 525.96 L438.87 530.24 L439 525.24 L439.14 531.64 L439.28 524.99 L439.42 529.86 L439.56 525.13 L439.69 531.01 L439.83 525.43 L439.97 531.79 L440.11 525.2 L440.24 531.07 L440.38 525.82 L440.52 530.82 L440.66 525.29 L440.79 529.19 L440.93 525.53 L441.07 529.46 L441.21 525.69 L441.34 531.62 L441.48 525.41 L441.62 530.51 L441.76 525.89 L441.9 530.72 L442.03 525.8 L442.17 530.17 L442.31 525.15 L442.45 529.27 L442.58 524.98 L442.72 529.35 L442.86 525.09 L443 531.51 L443.13 525.13 L443.27 529.44 L443.41 526.17 L443.55 531.44 L443.68 519.5 L443.82 530.1 L443.96 513.89 L444.1 530.89 L444.24 513.49 L444.37 530.43 L444.51 513.94 L444.65 530.63 L444.79 517.65 L444.92 530.53 L445.06 521.14 L445.2 529.39 L445.34 521.51 L445.47 530.93 L445.61 521.7 L445.75 530.98 L445.89 521.9 L446.02 529.3 L446.16 518.69 L446.3 529.45 L446.44 516.51 L446.58 530.02 L446.71 516.56 L446.85 528.68 L446.99 518.8 L447.13 528.66 L447.26 523.13 L447.4 530.45 L447.54 525.23 L447.68 528.56 L447.81 525.57 L447.95 529.92 L448.09 526.11 L448.23 530.28 L448.36 525.57 L448.5 529.45 L448.64 525.99 L448.78 528.83 L448.92 525.88 L449.05 529.88 L449.19 525.47 L449.33 530.36 L449.47 526.19 L449.6 528.97 L449.74 526.08 L449.88 530.26 L450.02 525.71 L450.15 528.61 L450.29 525.92 L450.43 530.31 L450.57 525.79 L450.7 528.25 L450.84 525.52 L450.98 530.07 L451.12 525.63 L451.26 528.67 L451.39 526.38 L451.53 530.11 L451.67 525.49 L451.81 529.83 L451.94 525.74 L452.08 529.06 L452.22 525.55 L452.36 529.55 L452.49 525.61 L452.63 527.78 L452.77 526.36 L452.91 530.09 L453.04 526.7 L453.18 530.06 L453.32 525.96 L453.46 527.66 L453.6 526.53 L453.73 528.3 L453.87 526.08 L454.01 529.71 L454.15 526.38 L454.28 529.92 L454.42 525.8 L454.48 528.07 L455.58 528.07 L456.68 528.07 L457.78 528.07 L458.88 528.07 L459.98 528.07 L461.08 528.07 L462.18 528.07 L463.29 528.07 L464.39 528.07 L465.49 528.07 L466.59 528.07 L467.69 528.07 L468.79 528.07 L469.89 528.07 L470.99 528.07 L472.1 528.07 L473.2 528.07 L474.3 528.07 L475.4 528.07 L476.5 528.07 L477.6 528.07 L478.7 528.07 L479.8 528.07 L480.91 528.07 L482.01 528.07 L483.11 528.07 L484.21 528.07 L485.31 528.07 L486.41 528.07 L487.51 528.07 L488.61 528.07 L489.71 528.07 L490.82 528.07 L491.92 528.07 L493.02 528.07 L494.12 528.07 L495.22 528.07 L496.32 528.07 L497.42 528.07 L498.52 528.07 L499.63 528.07 L500.73 528.07 L501.83 528.07 L502.93 528.07 L504.03 528.07 L505.13 528.07 L506.23 528.07 L507.33 528.07 L508.44 528.07 L509.54 528.07 L510.64 528.07 L511.74 528.07 L512.84 528.07 L513.94 528.07 L515.04 528.07 L516.14 528.07 L517.24 528.07 L518.35 528.07 L519.45 528.07 L520.55 528.07 L521.65 528.07 L522.75 528.07 L523.85 528.07 L524.95 528.07 L526.05 528.07 L527.16 528.07 L528.26 528.07 L529.36 528.07 L530.46 528.07 L531.56 528.07 L532.66 528.07 L533.76 528.07 L534.86 528.07 L535.97 528.07 L537.07 528.07 L538.17 528.07 L539.27 528.07 L540.37 528.07 L541.47 528.07 L542.57 528.07 L543.67 528.07 L544.77 528.07 L545.88 528.07 L546.98 528.07 L548.08 528.07 L549.18 528.07 L550.28 528.07 L551.38 528.07 L552.48 528.07 L553.58 528.07 L554.69 528.07 L555.79 528.07 L556.89 528.07 L557.99 528.07 L559.09 528.07 L560.19 528.07 L561.29 528.07 L562.39 528.07 L563.5 528.07 L564.6 528.07 L565.7 528.07 L566.8 528.07 L567.9 528.07 L569 528.07 L570.1 528.07 L571.2 528.07 L572.3 528.07 L572.58 528.07 L572.58 551.47 L572.75 543.98 L572.91 549.82 L573.13 543.35 L573.35 549.39 L573.57 543.42 L573.79 549.01 L574.01 543.5 L574.23 548.66 L574.45 543.61 L574.67 548.32 L574.89 543.72 L575.11 548 L575.33 543.86 L575.55 547.69 L575.77 544 L575.99 547.39 L576.21 544.16 L576.43 547.1 L576.65 544.33 L576.87 546.81 L577.09 544.51 L577.32 546.53 L577.54 544.7 L577.76 546.25 L577.98 544.9 L578.2 545.98 L578.42 545.12 L578.64 545.72 L578.86 545.34 L579.08 545.45 L580.84 545.72 L581.39 547.73 L600.11 547.73 L600.66 547.91 L601.21 548.09 L601.76 548.27 L602.31 548.44 L602.86 548.6 L603.41 548.75 L603.96 548.9 L604.51 549.04 L605.07 549.17 L605.62 549.3 L606.17 549.41 L606.72 549.53 L607.27 549.63 L607.82 549.73 L608.37 549.82 L608.92 549.91 L609.47 549.99 L610.02 550.06 L610.57 550.12 L611.12 550.18 L611.67 550.23 L612.22 550.28 L612.77 550.31 L613.32 550.35 L613.87 550.37 L614.43 550.39 L614.98 550.4 L615.53 550.4 L616.08 550.4 L616.63 550.39 L617.18 550.37 L617.73 550.35 L618.28 550.31 L618.83 550.28 L619.38 550.23 L619.93 550.18 L620.48 550.12 L621.03 550.06 L621.58 549.99 L622.13 549.91 L622.68 549.82 L623.24 549.73 L623.79 549.63 L624.34 549.53 L624.89 549.41 L625.44 549.3 L625.99 549.17 L626.54 549.04 L627.09 548.9 L627.64 548.75 L628.19 548.6 L628.74 548.44 L629.29 548.27 L629.84 548.09 L630.39 547.91 L630.94 547.73 L631.49 547.53 L632.04 547.33 L632.6 547.12 L633.15 546.91 L633.7 546.69 L634.25 546.46 L634.8 546.22 L635.35 545.98 L635.9 545.73 L636.45 545.48 L636.67 545.37 L636.67 524.59 L637.33 528.2 L638.98 528.2 L640.63 528.2 L642.29 528.2 L643.94 528.2 L645.59 528.2 L647.24 528.2 L648.89 528.2 L650.54 528.2 L652.2 528.2 L653.85 528.2 L655.5 528.2 L657.15 528.2 L658.8 528.2 L660.46 528.2 L662.11 528.2 L663.76 528.2 L665.41 528.2 L667.06 528.2 L668.71 528.2 L670.37 528.2 L672.02 528.2 L673.67 528.2 L675.32 528.2 L676.97 528.2 L678.63 528.2 L680.28 528.2 L681.93 528.2 L682.7 528.2" stroke="#0000ff" stroke-width="1.8"/>
</g>
<text x="407.4" y="585" font-size="8.5" text-anchor="middle" style="font-kerning:none">0</text>
<text x="462.46" y="585" font-size="8.5" text-anchor="middle" style="font-kerning:none">&#8199;</text><path d="M378 0V-709H285C263 -625 190 -582 68 -582V-489H238V0Z" transform="translate(460.1 585) scale(0.0085)" fill="#262626"/>
<text x="517.52" y="585" font-size="8.5" text-anchor="middle" style="font-kerning:none">2</text>
<text x="572.58" y="585" font-size="8.5" text-anchor="middle" style="font-kerning:none">3</text>
<text x="627.64" y="585" font-size="8.5" text-anchor="middle" style="font-kerning:none">4</text>
<text x="682.7" y="585" font-size="8.5" text-anchor="middle" style="font-kerning:none">5</text>
<text x="403.7" y="576.4" font-size="8.5" text-anchor="end" style="font-kerning:none">-2</text>
<text x="403.7" y="549.66" font-size="8.5" text-anchor="end" style="font-kerning:none">0</text>
<text x="403.7" y="522.91" font-size="8.5" text-anchor="end" style="font-kerning:none">2</text>
<text x="403.7" y="496.17" font-size="8.5" text-anchor="end" style="font-kerning:none">4</text>
<text x="403.7" y="469.42" font-size="8.5" text-anchor="end" style="font-kerning:none">6</text>
<text x="403.7" y="442.68" font-size="8.5" text-anchor="end" style="font-kerning:none">8</text>
<text x="403.7" y="415.93" font-size="8.5" text-anchor="end" style="font-kerning:none">&#8199;0</text><path d="M378 0V-709H285C263 -625 190 -582 68 -582V-489H238V0Z" transform="translate(394.25 415.93) scale(0.0085)" fill="#262626"/>
<text x="403.7" y="389.19" font-size="8.5" text-anchor="end" style="font-kerning:none">&#8199;2</text><path d="M378 0V-709H285C263 -625 190 -582 68 -582V-489H238V0Z" transform="translate(394.25 389.19) scale(0.0085)" fill="#262626"/>
<text x="403.7" y="362.44" font-size="8.5" text-anchor="end" style="font-kerning:none">&#8199;4</text><path d="M378 0V-709H285C263 -625 190 -582 68 -582V-489H238V0Z" transform="translate(394.25 362.44) scale(0.0085)" fill="#262626"/>
<text x="403.7" y="335.7" font-size="8.5" text-anchor="end" style="font-kerning:none">&#8199;6</text><path d="M378 0V-709H285C263 -625 190 -582 68 -582V-489H238V0Z" transform="translate(394.25 335.7) scale(0.0085)" fill="#262626"/>
<text x="407.8" y="331.1" font-size="11" style="font-weight:normal">&#215;</text>
<text x="414.6" y="329.9" font-size="8.5" text-anchor="start" style="font-kerning:none">&#8199;0</text><path d="M378 0V-709H285C263 -625 190 -582 68 -582V-489H238V0Z" transform="translate(414.6 329.9) scale(0.0085)" fill="#262626"/>
<text x="424.2" y="325.7" font-size="6.2">6</text>
<clipPath id="c7"><rect x="461.9" y="343.9" width="101.5" height="108.3"/></clipPath>
<rect x="463.4" y="345.4" width="98.5" height="105.3" fill="#fff"/>
<path d="M496.23 345.4V450.7M529.07 345.4V450.7" stroke="#f4f4f4" stroke-width="1.4" fill="none"/>
<path d="M463.4 429.64H561.9M463.4 408.58H561.9M463.4 387.52H561.9M463.4 366.46H561.9" stroke="#ececec" stroke-width="1.4" fill="none"/>
<path d="M463.4 450.7v-1.5M463.4 345.4v1.5M496.23 450.7v-1.5M496.23 345.4v1.5M529.07 450.7v-1.5M529.07 345.4v1.5M561.9 450.7v-1.5M561.9 345.4v1.5M463.4 450.7h1.5M561.9 450.7h-1.5M463.4 429.64h1.5M561.9 429.64h-1.5M463.4 408.58h1.5M561.9 408.58h-1.5M463.4 387.52h1.5M561.9 387.52h-1.5M463.4 366.46h1.5M561.9 366.46h-1.5M463.4 345.4h1.5M561.9 345.4h-1.5" stroke="#a8a8a8" stroke-width="1" fill="none"/>
<path d="M462.9 345.4H562.4" stroke="#999999" stroke-width="1.2"/>
<path d="M462.9 450.7H562.4" stroke="#cccccc" stroke-width="2"/>
<path d="M463.4 344.9V451.2" stroke="#999999" stroke-width="1.3"/>
<path d="M561.9 344.9V451.2" stroke="#c0c0c0" stroke-width="2"/>
<g clip-path="url(#c7)" fill="none" stroke-linejoin="round" stroke-linecap="round">
<path d="M463.4 429.64 L463.51 429.43 L463.62 428.8 L463.73 427.75 L463.84 426.31 L463.95 424.49 L464.06 422.31 L464.17 419.8 L464.28 417.01 L464.38 413.95 L464.49 410.68 L464.6 407.24 L464.71 403.67 L464.82 400.02 L464.93 396.34 L465.04 392.68 L465.15 389.08 L465.26 385.59 L465.37 382.27 L465.48 379.14 L465.59 376.26 L465.7 373.67 L465.81 371.39 L465.92 369.46 L466.03 367.9 L466.14 366.73 L466.25 365.98 L466.35 365.64 L466.46 365.68 L466.57 365.97 L466.68 366.5 L466.79 367.27 L466.9 368.27 L467.01 369.49 L467.12 370.92 L467.23 372.53 L467.34 374.33 L467.45 376.29 L467.56 378.39 L467.67 380.61 L467.78 382.94 L467.89 385.34 L468 387.8 L468.11 390.29 L468.22 392.79 L468.32 395.27 L468.43 397.71 L468.54 400.1 L468.65 402.39 L468.76 404.58 L468.87 406.64 L468.98 408.55 L469.09 410.3 L469.2 411.86 L469.31 413.22 L469.42 414.38 L469.53 415.31 L469.64 416.01 L469.75 416.47 L469.86 416.69 L469.97 416.69 L470.08 416.55 L470.19 416.29 L470.29 415.91 L470.4 415.41 L470.51 414.8 L470.62 414.09 L470.73 413.28 L470.84 412.38 L470.95 411.4 L471.06 410.35 L471.17 409.25 L471.28 408.1 L471.39 406.91 L471.5 405.7 L471.61 404.49 L471.72 403.27 L471.83 402.08 L471.94 400.91 L472.05 399.79 L472.16 398.71 L472.26 397.71 L472.37 396.77 L472.48 395.93 L472.59 395.17 L472.7 394.52 L472.81 393.98 L472.92 393.55 L473.03 393.24 L473.14 393.06 L473.25 393 L473.36 393.06 L473.47 393.26 L473.58 393.59 L473.69 394.04 L473.8 394.61 L473.91 395.3 L474.02 396.1 L474.13 397 L474.23 397.98 L474.34 399.05 L474.45 400.19 L474.56 401.39 L474.67 402.63 L474.78 403.9 L474.89 405.19 L475 406.49 L475.11 407.79 L475.22 409.06 L475.33 410.29 L475.44 411.48 L475.55 412.62 L475.66 413.68 L475.77 414.66 L475.88 415.54 L475.99 416.33 L476.1 417.01 L476.2 417.57 L476.31 418.01 L476.42 418.32 L476.53 418.51 L476.64 418.56 L476.75 418.49 L476.86 418.29 L476.97 417.97 L477.08 417.53 L477.19 416.98 L477.3 416.33 L477.41 415.58 L477.52 414.75 L477.63 413.85 L477.74 412.89 L477.85 411.88 L477.96 410.83 L478.07 409.77 L478.17 408.71 L478.28 407.66 L478.39 406.63 L478.5 405.64 L478.61 404.7 L478.72 403.84 L478.83 403.05 L478.94 402.35 L479.05 401.75 L479.16 401.25 L479.27 400.87 L479.38 400.61 L479.49 400.47 L479.6 400.47 L479.71 400.67 L479.82 401.09 L479.93 401.72 L480.04 402.56 L480.14 403.58 L480.25 404.79 L480.36 406.14 L480.47 407.63 L480.58 409.23 L480.69 410.92 L480.8 412.67 L480.91 414.46 L481.02 416.24 L481.13 418.01 L481.24 419.73 L481.35 421.37 L481.46 422.9 L481.57 424.32 L481.68 425.58 L481.79 426.68 L481.9 427.59 L482.01 428.31 L482.11 428.82 L482.22 429.11 L482.33 429.17 L482.44 429.11 L482.55 428.97 L482.66 428.74 L482.77 428.42 L482.88 428.03 L482.99 427.56 L483.1 427.01 L483.21 426.4 L483.32 425.72 L483.43 424.99 L483.54 424.2 L483.65 423.36 L483.76 422.49 L483.87 421.59 L483.98 420.66 L484.08 419.71 L484.19 418.75 L484.3 417.8 L484.41 416.85 L484.52 415.91 L484.63 414.99 L484.74 414.11 L484.85 413.26 L484.96 412.45 L485.07 411.69 L485.18 410.99 L485.29 410.35 L485.4 409.78 L485.51 409.28 L485.62 408.85 L485.73 408.5 L485.84 408.24 L485.95 408.06 L486.05 407.96 L486.16 407.96 L486.27 408.07 L486.38 408.3 L486.49 408.64 L486.6 409.1 L486.71 409.67 L486.82 410.34 L486.93 411.1 L487.04 411.94 L487.15 412.87 L487.26 413.86 L487.37 414.9 L487.48 415.98 L487.59 417.09 L487.7 418.22 L487.81 419.36 L487.92 420.48 L488.02 421.58 L488.13 422.65 L488.24 423.67 L488.35 424.64 L488.46 425.53 L488.57 426.34 L488.68 427.07 L488.79 427.7 L488.9 428.22 L489.01 428.64 L489.12 428.94 L489.23 429.12 L489.34 429.18 L489.45 429.17 L489.56 429.13 L489.67 429.08 L489.78 429.01 L489.89 428.91 L489.99 428.8 L490.1 428.67 L490.21 428.52 L490.32 428.36 L490.43 428.19 L490.54 428 L490.65 427.81 L490.76 427.61 L490.87 427.4 L490.98 427.2 L491.09 426.99 L491.2 426.79 L491.31 426.59 L491.42 426.39 L491.53 426.21 L491.64 426.03 L491.75 425.87 L491.86 425.73 L491.96 425.6 L492.07 425.48 L492.18 425.39 L492.29 425.31 L492.4 425.26 L492.51 425.23 L492.62 425.22 L492.73 425.23 L492.84 425.26 L492.95 425.31 L493.06 425.37 L493.17 425.46 L493.28 425.56 L493.39 425.68 L493.5 425.81 L493.61 425.96 L493.72 426.11 L493.83 426.28 L493.94 426.45 L494.04 426.64 L494.15 426.82 L494.26 427.01 L494.37 427.19 L494.48 427.38 L494.59 427.56 L494.7 427.74 L494.81 427.9 L494.92 428.06 L495.03 428.21 L495.14 428.34 L495.25 428.46 L495.36 428.56 L495.47 428.64 L495.58 428.71 L495.69 428.76 L495.8 428.79 L495.9 428.8 L496.01 428.79 L496.12 428.76 L496.23 428.71 L496.34 428.64 L496.45 428.56 L496.56 428.46 L496.67 428.34 L496.78 428.21 L496.89 428.06 L497 427.9 L497.11 427.74 L497.22 427.56 L497.33 427.38 L497.44 427.19 L497.55 427.01 L497.66 426.82 L497.77 426.64 L497.88 426.45 L497.98 426.28 L498.09 426.11 L498.2 425.96 L498.31 425.81 L498.42 425.68 L498.53 425.56 L498.64 425.46 L498.75 425.37 L498.86 425.31 L498.97 425.26 L499.08 425.23 L499.19 425.22 L499.3 425.23 L499.41 425.26 L499.52 425.31 L499.63 425.37 L499.74 425.46 L499.84 425.56 L499.95 425.68 L500.06 425.81 L500.17 425.96 L500.28 426.11 L500.39 426.28 L500.5 426.45 L500.61 426.64 L500.72 426.82 L500.83 427.01 L500.94 427.19 L501.05 427.38 L501.16 427.56 L501.27 427.74 L501.38 427.9 L501.49 428.06 L501.6 428.21 L501.71 428.34 L501.81 428.46 L501.92 428.56 L502.03 428.64 L502.14 428.71 L502.25 428.76 L502.36 428.79 L502.47 428.8 L502.58 428.79 L502.69 428.76 L502.8 428.71 L502.91 428.64 L503.02 428.56 L503.13 428.46 L503.24 428.34 L503.35 428.21 L503.46 428.06 L503.57 427.9 L503.68 427.74 L503.78 427.56 L503.89 427.38 L504 427.19 L504.11 427.01 L504.22 426.82 L504.33 426.64 L504.44 426.45 L504.55 426.28 L504.66 426.11 L504.77 425.96 L504.88 425.81 L504.99 425.68 L505.1 425.56 L505.21 425.46 L505.32 425.37 L505.43 425.31 L505.54 425.26 L505.65 425.23 L505.75 425.22 L505.86 425.23 L505.97 425.26 L506.08 425.31 L506.19 425.37 L506.3 425.46 L506.41 425.56 L506.52 425.68 L506.63 425.81 L506.74 425.96 L506.85 426.11 L506.96 426.28 L507.07 426.45 L507.18 426.64 L507.29 426.82 L507.4 427.01 L507.51 427.19 L507.62 427.38 L507.72 427.56 L507.83 427.74 L507.94 427.9 L508.05 428.06 L508.16 428.21 L508.27 428.34 L508.38 428.46 L508.49 428.56 L508.6 428.64 L508.71 428.71 L508.82 428.76 L508.93 428.79 L509.04 428.8 L509.15 428.79 L509.26 428.76 L509.37 428.71 L509.48 428.64 L509.59 428.56 L509.69 428.46 L509.8 428.34 L509.91 428.21 L510.02 428.06 L510.13 427.9 L510.24 427.74 L510.35 427.56 L510.46 427.38 L510.57 427.19 L510.68 427.01 L510.79 426.82 L510.9 426.64 L511.01 426.45 L511.12 426.28 L511.23 426.11 L511.34 425.96 L511.45 425.81 L511.56 425.68 L511.66 425.56 L511.77 425.46 L511.88 425.37 L511.99 425.31 L512.1 425.26 L512.21 425.23 L512.32 425.22 L512.43 425.23 L512.54 425.26 L512.65 425.31 L512.76 425.37 L512.87 425.46 L512.98 425.56 L513.09 425.68 L513.2 425.81 L513.31 425.96 L513.42 426.11 L513.53 426.28 L513.63 426.45 L513.74 426.64 L513.85 426.82 L513.96 427.01 L514.07 427.19 L514.18 427.38 L514.29 427.56 L514.4 427.74 L514.51 427.9 L514.62 428.06 L514.73 428.21 L514.84 428.34 L514.95 428.46 L515.06 428.56 L515.17 428.64 L515.28 428.71 L515.39 428.76 L515.5 428.79 L515.61 428.8 L515.71 428.79 L515.82 428.76 L515.93 428.71 L516.04 428.64 L516.15 428.56 L516.26 428.46 L516.37 428.34 L516.48 428.21 L516.59 428.06 L516.7 427.9 L516.81 427.74 L516.92 427.56 L517.03 427.38 L517.14 427.19 L517.25 427.01 L517.36 426.82 L517.47 426.64 L517.57 426.45 L517.68 426.28 L517.79 426.11 L517.9 425.96 L518.01 425.81 L518.12 425.68 L518.23 425.56 L518.34 425.46 L518.45 425.37 L518.56 425.31 L518.67 425.26 L518.78 425.23 L518.89 425.22 L519 425.23 L519.11 425.26 L519.22 425.31 L519.33 425.37 L519.44 425.46 L519.54 425.56 L519.65 425.68 L519.76 425.81 L519.87 425.96 L519.98 426.11 L520.09 426.28 L520.2 426.45 L520.31 426.64 L520.42 426.82 L520.53 427.01 L520.64 427.19 L520.75 427.38 L520.86 427.56 L520.97 427.74 L521.08 427.9 L521.19 428.06 L521.3 428.21 L521.41 428.34 L521.51 428.46 L521.62 428.56 L521.73 428.64 L521.84 428.71 L521.95 428.76 L522.06 428.79 L522.17 428.8 L522.28 428.79 L522.39 428.76 L522.5 428.71 L522.61 428.64 L522.72 428.56 L522.83 428.46 L522.94 428.34 L523.05 428.21 L523.16 428.06 L523.27 427.9 L523.38 427.74 L523.49 427.56 L523.59 427.38 L523.7 427.19 L523.81 427.01 L523.92 426.82 L524.03 426.64 L524.14 426.45 L524.25 426.28 L524.36 426.11 L524.47 425.96 L524.58 425.81 L524.69 425.68 L524.8 425.56 L524.91 425.46 L525.02 425.37 L525.13 425.31 L525.24 425.26 L525.35 425.23 L525.45 425.22 L525.56 425.23 L525.67 425.26 L525.78 425.31 L525.89 425.37 L526 425.46 L526.11 425.56 L526.22 425.68 L526.33 425.81 L526.44 425.96 L526.55 426.11 L526.66 426.28 L526.77 426.45 L526.88 426.64 L526.99 426.82 L527.1 427.01 L527.21 427.19 L527.32 427.38 L527.42 427.56 L527.53 427.74 L527.64 427.9 L527.75 428.06 L527.86 428.21 L527.97 428.34 L528.08 428.46 L528.19 428.56 L528.3 428.64 L528.41 428.71 L528.52 428.76 L528.63 428.79 L528.74 428.8 L528.85 428.79 L528.96 428.76 L529.07 428.71 L529.18 428.64 L529.29 428.56 L529.39 428.46 L529.5 428.34 L529.61 428.21 L529.72 428.06 L529.83 427.9 L529.94 427.74 L530.05 427.56 L530.16 427.38 L530.27 427.19 L530.38 427.01 L530.49 426.82 L530.6 426.64 L530.71 426.45 L530.82 426.28 L530.93 426.11 L531.04 425.96 L531.15 425.81 L531.26 425.68 L531.37 425.56 L531.47 425.46 L531.58 425.37 L531.69 425.31 L531.8 425.26 L531.91 425.23 L532.02 425.22 L532.13 425.23 L532.24 425.26 L532.35 425.31 L532.46 425.37 L532.57 425.46 L532.68 425.56 L532.79 425.68 L532.9 425.81 L533.01 425.96 L533.12 426.11 L533.23 426.28 L533.34 426.45 L533.44 426.64 L533.55 426.82 L533.66 427.01 L533.77 427.19 L533.88 427.38 L533.99 427.56 L534.1 427.74 L534.21 427.9 L534.32 428.06 L534.43 428.21 L534.54 428.34 L534.65 428.46 L534.76 428.56 L534.87 428.64 L534.98 428.71 L535.09 428.76 L535.2 428.79 L535.3 428.8 L535.41 428.79 L535.52 428.76 L535.63 428.71 L535.74 428.64 L535.85 428.56 L535.96 428.46 L536.07 428.34 L536.18 428.21 L536.29 428.06 L536.4 427.9 L536.51 427.74 L536.62 427.56 L536.73 427.38 L536.84 427.19 L536.95 427.01 L537.06 426.82 L537.17 426.64 L537.27 426.45 L537.38 426.28 L537.49 426.11 L537.6 425.96 L537.71 425.81 L537.82 425.68 L537.93 425.56 L538.04 425.46 L538.15 425.37 L538.26 425.31 L538.37 425.26 L538.48 425.23 L538.59 425.22 L538.7 425.23 L538.81 425.26 L538.92 425.31 L539.03 425.37 L539.14 425.46 L539.25 425.56 L539.35 425.68 L539.46 425.81 L539.57 425.96 L539.68 426.11 L539.79 426.28 L539.9 426.45 L540.01 426.64 L540.12 426.82 L540.23 427.01 L540.34 427.19 L540.45 427.38 L540.56 427.56 L540.67 427.74 L540.78 427.9 L540.89 428.06 L541 428.21 L541.11 428.34 L541.21 428.46 L541.32 428.56 L541.43 428.64 L541.54 428.71 L541.65 428.76 L541.76 428.79 L541.87 428.8 L541.98 428.79 L542.09 428.76 L542.2 428.71 L542.31 428.64 L542.42 428.56 L542.53 428.46 L542.64 428.34 L542.75 428.21 L542.86 428.06 L542.97 427.9 L543.08 427.74 L543.18 427.56 L543.29 427.38 L543.4 427.19 L543.51 427.01 L543.62 426.82 L543.73 426.64 L543.84 426.45 L543.95 426.28 L544.06 426.11 L544.17 425.96 L544.28 425.81 L544.39 425.68 L544.5 425.56 L544.61 425.46 L544.72 425.37 L544.83 425.31 L544.94 425.26 L545.05 425.23 L545.15 425.22 L545.26 425.23 L545.37 425.26 L545.48 425.31 L545.59 425.37 L545.7 425.46 L545.81 425.56 L545.92 425.68 L546.03 425.81 L546.14 425.96 L546.25 426.11 L546.36 426.28 L546.47 426.45 L546.58 426.64 L546.69 426.82 L546.8 427.01 L546.91 427.19 L547.02 427.38 L547.12 427.56 L547.23 427.74 L547.34 427.9 L547.45 428.06 L547.56 428.21 L547.67 428.34 L547.78 428.46 L547.89 428.56 L548 428.64 L548.11 428.71 L548.22 428.76 L548.33 428.79 L548.44 428.8 L548.55 428.79 L548.66 428.76 L548.77 428.71 L548.88 428.64 L548.99 428.56 L549.1 428.46 L549.2 428.34 L549.31 428.21 L549.42 428.06 L549.53 427.9 L549.64 427.74 L549.75 427.56 L549.86 427.38 L549.97 427.19 L550.08 427.01 L550.19 426.82 L550.3 426.64 L550.41 426.45 L550.52 426.28 L550.63 426.11 L550.74 425.96 L550.85 425.81 L550.96 425.68 L551.06 425.56 L551.17 425.46 L551.28 425.37 L551.39 425.31 L551.5 425.26 L551.61 425.23 L551.72 425.22 L551.83 425.23 L551.94 425.26 L552.05 425.31 L552.16 425.37 L552.27 425.46 L552.38 425.56 L552.49 425.68 L552.6 425.81 L552.71 425.96 L552.82 426.11 L552.93 426.28 L553.03 426.45 L553.14 426.64 L553.25 426.82 L553.36 427.01 L553.47 427.19 L553.58 427.38 L553.69 427.56 L553.8 427.74 L553.91 427.9 L554.02 428.06 L554.13 428.21 L554.24 428.34 L554.35 428.46 L554.46 428.56 L554.57 428.64 L554.68 428.71 L554.79 428.76 L554.9 428.79 L555 428.8 L555.11 428.79 L555.22 428.76 L555.33 428.71 L555.44 428.64 L555.55 428.56 L555.66 428.46 L555.77 428.34 L555.88 428.21 L555.99 428.06 L556.1 427.9 L556.21 427.74 L556.32 427.56 L556.43 427.38 L556.54 427.19 L556.65 427.01 L556.76 426.82 L556.87 426.64 L556.97 426.45 L557.08 426.28 L557.19 426.11 L557.3 425.96 L557.41 425.81 L557.52 425.68 L557.63 425.56 L557.74 425.46 L557.85 425.37 L557.96 425.31 L558.07 425.26 L558.18 425.23 L558.29 425.22 L558.4 425.23 L558.51 425.26 L558.62 425.31 L558.73 425.37 L558.84 425.46 L558.94 425.56 L559.05 425.68 L559.16 425.81 L559.27 425.96 L559.38 426.11 L559.49 426.28 L559.6 426.45 L559.71 426.64 L559.82 426.82 L559.93 427.01 L560.04 427.19 L560.15 427.38 L560.26 427.56 L560.37 427.74 L560.48 427.9 L560.59 428.06 L560.7 428.21 L560.81 428.34 L560.91 428.46 L561.02 428.56 L561.13 428.64 L561.24 428.71 L561.35 428.76 L561.46 428.79 L561.57 428.8 L561.68 428.79 L561.79 428.76 L561.9 428.71" stroke="#ff0000" stroke-width="2.0"/>
<path d="M463.4 429.64 L463.51 429.52 L463.62 429.16 L463.73 428.57 L463.84 427.75 L463.95 426.71 L464.06 425.48 L464.17 424.06 L464.28 422.47 L464.38 420.74 L464.49 418.89 L464.6 416.95 L464.71 414.93 L464.82 412.88 L464.93 410.81 L465.04 408.75 L465.15 406.74 L465.26 404.8 L465.37 402.95 L465.48 401.22 L465.59 399.63 L465.7 398.21 L465.81 396.98 L465.92 395.94 L466.03 395.12 L466.14 394.53 L466.25 394.17 L466.35 394.05 L466.46 394.1 L466.57 394.24 L466.68 394.49 L466.79 394.82 L466.9 395.25 L467.01 395.77 L467.12 396.38 L467.23 397.06 L467.34 397.82 L467.45 398.65 L467.56 399.54 L467.67 400.48 L467.78 401.48 L467.89 402.52 L468 403.59 L468.11 404.68 L468.22 405.79 L468.32 406.92 L468.43 408.04 L468.54 409.15 L468.65 410.25 L468.76 411.32 L468.87 412.35 L468.98 413.35 L469.09 414.3 L469.2 415.19 L469.31 416.02 L469.42 416.77 L469.53 417.46 L469.64 418.06 L469.75 418.58 L469.86 419.01 L469.97 419.35 L470.08 419.59 L470.19 419.73 L470.29 419.78 L470.4 419.76 L470.51 419.67 L470.62 419.53 L470.73 419.33 L470.84 419.08 L470.95 418.78 L471.06 418.43 L471.17 418.04 L471.28 417.61 L471.39 417.14 L471.5 416.65 L471.61 416.13 L471.72 415.59 L471.83 415.04 L471.94 414.48 L472.05 413.92 L472.16 413.36 L472.26 412.81 L472.37 412.28 L472.48 411.77 L472.59 411.28 L472.7 410.83 L472.81 410.42 L472.92 410.04 L473.03 409.71 L473.14 409.43 L473.25 409.2 L473.36 409.03 L473.47 408.91 L473.58 408.84 L473.69 408.84 L473.8 408.9 L473.91 409.03 L474.02 409.23 L474.13 409.5 L474.23 409.82 L474.34 410.21 L474.45 410.64 L474.56 411.13 L474.67 411.65 L474.78 412.2 L474.89 412.78 L475 413.38 L475.11 413.99 L475.22 414.6 L475.33 415.2 L475.44 415.79 L475.55 416.36 L475.66 416.9 L475.77 417.4 L475.88 417.86 L475.99 418.27 L476.1 418.63 L476.2 418.92 L476.31 419.15 L476.42 419.32 L476.53 419.42 L476.64 419.45 L476.75 419.41 L476.86 419.32 L476.97 419.17 L477.08 418.97 L477.19 418.71 L477.3 418.41 L477.41 418.07 L477.52 417.68 L477.63 417.27 L477.74 416.82 L477.85 416.36 L477.96 415.88 L478.07 415.4 L478.17 414.92 L478.28 414.44 L478.39 413.98 L478.5 413.54 L478.61 413.13 L478.72 412.75 L478.83 412.41 L478.94 412.11 L479.05 411.86 L479.16 411.66 L479.27 411.52 L479.38 411.43 L479.49 411.4 L479.6 411.43 L479.71 411.5 L479.82 411.62 L479.93 411.79 L480.04 412.01 L480.14 412.26 L480.25 412.56 L480.36 412.89 L480.47 413.26 L480.58 413.65 L480.69 414.07 L480.8 414.5 L480.91 414.95 L481.02 415.4 L481.13 415.86 L481.24 416.32 L481.35 416.77 L481.46 417.2 L481.57 417.62 L481.68 418.02 L481.79 418.38 L481.9 418.72 L482.01 419.02 L482.11 419.28 L482.22 419.5 L482.33 419.67 L482.44 419.8 L482.55 419.88 L482.66 419.91 L482.77 419.88 L482.88 419.78 L482.99 419.62 L483.1 419.39 L483.21 419.1 L483.32 418.74 L483.43 418.34 L483.54 417.89 L483.65 417.4 L483.76 416.87 L483.87 416.32 L483.98 415.75 L484.08 415.17 L484.19 414.59 L484.3 414.02 L484.41 413.47 L484.52 412.93 L484.63 412.43 L484.74 411.97 L484.85 411.55 L484.96 411.18 L485.07 410.87 L485.18 410.62 L485.29 410.43 L485.4 410.32 L485.51 410.27 L485.62 410.29 L485.73 410.38 L485.84 410.55 L485.95 410.79 L486.05 411.09 L486.16 411.46 L486.27 411.89 L486.38 412.38 L486.49 412.92 L486.6 413.5 L486.71 414.13 L486.82 414.79 L486.93 415.49 L487.04 416.2 L487.15 416.93 L487.26 417.67 L487.37 418.4 L487.48 419.14 L487.59 419.85 L487.7 420.55 L487.81 421.22 L487.92 421.86 L488.02 422.45 L488.13 423 L488.24 423.5 L488.35 423.94 L488.46 424.32 L488.57 424.64 L488.68 424.89 L488.79 425.07 L488.9 425.18 L489.01 425.22 L489.12 425.17 L489.23 425.01 L489.34 424.75 L489.45 424.4 L489.56 423.95 L489.67 423.41 L489.78 422.79 L489.89 422.1 L489.99 421.33 L490.1 420.51 L490.21 419.64 L490.32 418.73 L490.43 417.79 L490.54 416.84 L490.65 415.88 L490.76 414.92 L490.87 413.98 L490.98 413.07 L491.09 412.19 L491.2 411.36 L491.31 410.6 L491.42 409.89 L491.53 409.26 L491.64 408.72 L491.75 408.26 L491.86 407.89 L491.96 407.63 L492.07 407.46 L492.18 407.4 L492.29 407.44 L492.4 407.58 L492.51 407.83 L492.62 408.17 L492.73 408.6 L492.84 409.13 L492.95 409.74 L493.06 410.43 L493.17 411.19 L493.28 412.02 L493.39 412.9 L493.5 413.84 L493.61 414.81 L493.72 415.81 L493.83 416.84 L493.94 417.87 L494.04 418.9 L494.15 419.92 L494.26 420.92 L494.37 421.9 L494.48 422.83 L494.59 423.71 L494.7 424.54 L494.81 425.31 L494.92 426 L495.03 426.61 L495.14 427.13 L495.25 427.57 L495.36 427.91 L495.47 428.15 L495.58 428.29 L495.69 428.33 L495.8 428.28 L495.9 428.15 L496.01 427.93 L496.12 427.62 L496.23 427.24 L496.34 426.79 L496.45 426.26 L496.56 425.66 L496.67 425.01 L496.78 424.29 L496.89 423.53 L497 422.73 L497.11 421.89 L497.22 421.02 L497.33 420.13 L497.44 419.23 L497.55 418.32 L497.66 417.42 L497.77 416.53 L497.88 415.66 L497.98 414.82 L498.09 414.01 L498.2 413.24 L498.31 412.52 L498.42 411.86 L498.53 411.26 L498.64 410.72 L498.75 410.26 L498.86 409.87 L498.97 409.56 L499.08 409.33 L499.19 409.19 L499.3 409.13 L499.41 409.18 L499.52 409.37 L499.63 409.71 L499.74 410.2 L499.84 410.81 L499.95 411.56 L500.06 412.41 L500.17 413.36 L500.28 414.39 L500.39 415.49 L500.5 416.63 L500.61 417.8 L500.72 418.99 L500.83 420.16 L500.94 421.3 L501.05 422.4 L501.16 423.43 L501.27 424.38 L501.38 425.23 L501.49 425.97 L501.6 426.59 L501.71 427.07 L501.81 427.42 L501.92 427.61 L502.03 427.66 L502.14 427.62 L502.25 427.53 L502.36 427.39 L502.47 427.19 L502.58 426.94 L502.69 426.65 L502.8 426.3 L502.91 425.92 L503.02 425.49 L503.13 425.02 L503.24 424.52 L503.35 423.99 L503.46 423.44 L503.57 422.86 L503.68 422.26 L503.78 421.65 L503.89 421.03 L504 420.41 L504.11 419.78 L504.22 419.16 L504.33 418.55 L504.44 417.96 L504.55 417.38 L504.66 416.82 L504.77 416.3 L504.88 415.8 L504.99 415.34 L505.1 414.92 L505.21 414.53 L505.32 414.2 L505.43 413.91 L505.54 413.66 L505.65 413.47 L505.75 413.33 L505.86 413.25 L505.97 413.21 L506.08 413.24 L506.19 413.35 L506.3 413.53 L506.41 413.78 L506.52 414.09 L506.63 414.48 L506.74 414.92 L506.85 415.42 L506.96 415.98 L507.07 416.57 L507.18 417.21 L507.29 417.88 L507.4 418.57 L507.51 419.28 L507.62 420 L507.72 420.73 L507.83 421.44 L507.94 422.14 L508.05 422.83 L508.16 423.48 L508.27 424.1 L508.38 424.67 L508.49 425.2 L508.6 425.68 L508.71 426.09 L508.82 426.44 L508.93 426.73 L509.04 426.94 L509.15 427.08 L509.26 427.15 L509.37 427.14 L509.48 427.06 L509.59 426.91 L509.69 426.69 L509.8 426.4 L509.91 426.05 L510.02 425.64 L510.13 425.18 L510.24 424.67 L510.35 424.12 L510.46 423.54 L510.57 422.93 L510.68 422.3 L510.79 421.66 L510.9 421.02 L511.01 420.39 L511.12 419.77 L511.23 419.17 L511.34 418.61 L511.45 418.08 L511.56 417.6 L511.66 417.17 L511.77 416.8 L511.88 416.48 L511.99 416.23 L512.1 416.05 L512.21 415.95 L512.32 415.91 L512.43 415.95 L512.54 416.07 L512.65 416.28 L512.76 416.56 L512.87 416.92 L512.98 417.34 L513.09 417.82 L513.2 418.37 L513.31 418.95 L513.42 419.58 L513.53 420.24 L513.63 420.92 L513.74 421.6 L513.85 422.29 L513.96 422.97 L514.07 423.63 L514.18 424.26 L514.29 424.85 L514.4 425.4 L514.51 425.89 L514.62 426.32 L514.73 426.68 L514.84 426.97 L514.95 427.18 L515.06 427.32 L515.17 427.37 L515.28 427.36 L515.39 427.33 L515.5 427.29 L515.61 427.23 L515.71 427.15 L515.82 427.06 L515.93 426.95 L516.04 426.83 L516.15 426.69 L516.26 426.55 L516.37 426.39 L516.48 426.22 L516.59 426.04 L516.7 425.86 L516.81 425.68 L516.92 425.49 L517.03 425.3 L517.14 425.11 L517.25 424.92 L517.36 424.73 L517.47 424.55 L517.57 424.38 L517.68 424.22 L517.79 424.07 L517.9 423.92 L518.01 423.8 L518.12 423.68 L518.23 423.58 L518.34 423.49 L518.45 423.43 L518.56 423.37 L518.67 423.34 L518.78 423.32 L518.89 423.33 L519 423.35 L519.11 423.38 L519.22 423.44 L519.33 423.51 L519.44 423.6 L519.54 423.71 L519.65 423.83 L519.76 423.96 L519.87 424.1 L519.98 424.26 L520.09 424.42 L520.2 424.59 L520.31 424.76 L520.42 424.94 L520.53 425.11 L520.64 425.29 L520.75 425.46 L520.86 425.63 L520.97 425.79 L521.08 425.94 L521.19 426.08 L521.3 426.21 L521.41 426.33 L521.51 426.43 L521.62 426.52 L521.73 426.59 L521.84 426.64 L521.95 426.67 L522.06 426.69 L522.17 426.69 L522.28 426.67 L522.39 426.63 L522.5 426.57 L522.61 426.5 L522.72 426.41 L522.83 426.3 L522.94 426.19 L523.05 426.05 L523.16 425.91 L523.27 425.76 L523.38 425.59 L523.49 425.43 L523.59 425.25 L523.7 425.08 L523.81 424.9 L523.92 424.73 L524.03 424.55 L524.14 424.39 L524.25 424.23 L524.36 424.07 L524.47 423.93 L524.58 423.8 L524.69 423.69 L524.8 423.58 L524.91 423.5 L525.02 423.43 L525.13 423.37 L525.24 423.34 L525.35 423.32 L525.45 423.33 L525.56 423.35 L525.67 423.38 L525.78 423.44 L525.89 423.51 L526 423.6 L526.11 423.71 L526.22 423.83 L526.33 423.96 L526.44 424.1 L526.55 424.26 L526.66 424.42 L526.77 424.59 L526.88 424.76 L526.99 424.94 L527.1 425.11 L527.21 425.29 L527.32 425.46 L527.42 425.63 L527.53 425.79 L527.64 425.94 L527.75 426.08 L527.86 426.21 L527.97 426.33 L528.08 426.43 L528.19 426.52 L528.3 426.59 L528.41 426.64 L528.52 426.67 L528.63 426.69 L528.74 426.69 L528.85 426.67 L528.96 426.63 L529.07 426.57 L529.18 426.5 L529.29 426.41 L529.39 426.3 L529.5 426.19 L529.61 426.05 L529.72 425.91 L529.83 425.76 L529.94 425.59 L530.05 425.43 L530.16 425.25 L530.27 425.08 L530.38 424.9 L530.49 424.73 L530.6 424.55 L530.71 424.39 L530.82 424.23 L530.93 424.07 L531.04 423.93 L531.15 423.8 L531.26 423.69 L531.37 423.58 L531.47 423.5 L531.58 423.43 L531.69 423.37 L531.8 423.34 L531.91 423.32 L532.02 423.33 L532.13 423.35 L532.24 423.38 L532.35 423.44 L532.46 423.51 L532.57 423.6 L532.68 423.71 L532.79 423.83 L532.9 423.96 L533.01 424.1 L533.12 424.26 L533.23 424.42 L533.34 424.59 L533.44 424.76 L533.55 424.94 L533.66 425.11 L533.77 425.29 L533.88 425.46 L533.99 425.63 L534.1 425.79 L534.21 425.94 L534.32 426.08 L534.43 426.21 L534.54 426.33 L534.65 426.43 L534.76 426.52 L534.87 426.59 L534.98 426.64 L535.09 426.67 L535.2 426.69 L535.3 426.69 L535.41 426.67 L535.52 426.63 L535.63 426.57 L535.74 426.5 L535.85 426.41 L535.96 426.3 L536.07 426.19 L536.18 426.05 L536.29 425.91 L536.4 425.76 L536.51 425.59 L536.62 425.43 L536.73 425.25 L536.84 425.08 L536.95 424.9 L537.06 424.73 L537.17 424.55 L537.27 424.39 L537.38 424.23 L537.49 424.07 L537.6 423.93 L537.71 423.8 L537.82 423.69 L537.93 423.58 L538.04 423.5 L538.15 423.43 L538.26 423.37 L538.37 423.34 L538.48 423.32 L538.59 423.33 L538.7 423.35 L538.81 423.38 L538.92 423.44 L539.03 423.51 L539.14 423.6 L539.25 423.71 L539.35 423.83 L539.46 423.96 L539.57 424.1 L539.68 424.26 L539.79 424.42 L539.9 424.59 L540.01 424.76 L540.12 424.94 L540.23 425.11 L540.34 425.29 L540.45 425.46 L540.56 425.63 L540.67 425.79 L540.78 425.94 L540.89 426.08 L541 426.21 L541.11 426.33 L541.21 426.43 L541.32 426.52 L541.43 426.59 L541.54 426.64 L541.65 426.67 L541.76 426.69 L541.87 426.69 L541.98 426.67 L542.09 426.63 L542.2 426.57 L542.31 426.5 L542.42 426.41 L542.53 426.3 L542.64 426.19 L542.75 426.05 L542.86 425.91 L542.97 425.76 L543.08 425.59 L543.18 425.43 L543.29 425.25 L543.4 425.08 L543.51 424.9 L543.62 424.73 L543.73 424.55 L543.84 424.39 L543.95 424.23 L544.06 424.07 L544.17 423.93 L544.28 423.8 L544.39 423.69 L544.5 423.58 L544.61 423.5 L544.72 423.43 L544.83 423.37 L544.94 423.34 L545.05 423.32 L545.15 423.33 L545.26 423.35 L545.37 423.38 L545.48 423.44 L545.59 423.51 L545.7 423.6 L545.81 423.71 L545.92 423.83 L546.03 423.96 L546.14 424.1 L546.25 424.26 L546.36 424.42 L546.47 424.59 L546.58 424.76 L546.69 424.94 L546.8 425.11 L546.91 425.29 L547.02 425.46 L547.12 425.63 L547.23 425.79 L547.34 425.94 L547.45 426.08 L547.56 426.21 L547.67 426.33 L547.78 426.43 L547.89 426.52 L548 426.59 L548.11 426.64 L548.22 426.67 L548.33 426.69 L548.44 426.69 L548.55 426.67 L548.66 426.63 L548.77 426.57 L548.88 426.5 L548.99 426.41 L549.1 426.3 L549.2 426.19 L549.31 426.05 L549.42 425.91 L549.53 425.76 L549.64 425.59 L549.75 425.43 L549.86 425.25 L549.97 425.08 L550.08 424.9 L550.19 424.73 L550.3 424.55 L550.41 424.39 L550.52 424.23 L550.63 424.07 L550.74 423.93 L550.85 423.8 L550.96 423.69 L551.06 423.58 L551.17 423.5 L551.28 423.43 L551.39 423.37 L551.5 423.34 L551.61 423.32 L551.72 423.33 L551.83 423.35 L551.94 423.38 L552.05 423.44 L552.16 423.51 L552.27 423.6 L552.38 423.71 L552.49 423.83 L552.6 423.96 L552.71 424.1 L552.82 424.26 L552.93 424.42 L553.03 424.59 L553.14 424.76 L553.25 424.94 L553.36 425.11 L553.47 425.29 L553.58 425.46 L553.69 425.63 L553.8 425.79 L553.91 425.94 L554.02 426.08 L554.13 426.21 L554.24 426.33 L554.35 426.43 L554.46 426.52 L554.57 426.59 L554.68 426.64 L554.79 426.67 L554.9 426.69 L555 426.69 L555.11 426.67 L555.22 426.63 L555.33 426.57 L555.44 426.5 L555.55 426.41 L555.66 426.3 L555.77 426.19 L555.88 426.05 L555.99 425.91 L556.1 425.76 L556.21 425.59 L556.32 425.43 L556.43 425.25 L556.54 425.08 L556.65 424.9 L556.76 424.73 L556.87 424.55 L556.97 424.39 L557.08 424.23 L557.19 424.07 L557.3 423.93 L557.41 423.8 L557.52 423.69 L557.63 423.58 L557.74 423.5 L557.85 423.43 L557.96 423.37 L558.07 423.34 L558.18 423.32 L558.29 423.33 L558.4 423.35 L558.51 423.38 L558.62 423.44 L558.73 423.51 L558.84 423.6 L558.94 423.71 L559.05 423.83 L559.16 423.96 L559.27 424.1 L559.38 424.26 L559.49 424.42 L559.6 424.59 L559.71 424.76 L559.82 424.94 L559.93 425.11 L560.04 425.29 L560.15 425.46 L560.26 425.63 L560.37 425.79 L560.48 425.94 L560.59 426.08 L560.7 426.21 L560.81 426.33 L560.91 426.43 L561.02 426.52 L561.13 426.59 L561.24 426.64 L561.35 426.67 L561.46 426.69 L561.57 426.69 L561.68 426.67 L561.79 426.63 L561.9 426.57" stroke="#ffff00" stroke-width="2.0"/>
<path d="M463.4 429.64 L463.51 429.56 L463.62 429.31 L463.73 428.91 L463.84 428.35 L463.95 427.64 L464.06 426.8 L464.17 425.82 L464.28 424.74 L464.38 423.55 L464.49 422.28 L464.6 420.93 L464.71 419.54 L464.82 418.11 L464.93 416.67 L465.04 415.24 L465.15 413.82 L465.26 412.45 L465.37 411.13 L465.48 409.89 L465.59 408.74 L465.7 407.7 L465.81 406.77 L465.92 405.98 L466.03 405.33 L466.14 404.83 L466.25 404.49 L466.35 404.31 L466.46 404.29 L466.57 404.37 L466.68 404.53 L466.79 404.78 L466.9 405.11 L467.01 405.53 L467.12 406.01 L467.23 406.57 L467.34 407.19 L467.45 407.87 L467.56 408.61 L467.67 409.39 L467.78 410.21 L467.89 411.07 L468 411.94 L468.11 412.83 L468.22 413.73 L468.32 414.63 L468.43 415.51 L468.54 416.38 L468.65 417.22 L468.76 418.03 L468.87 418.79 L468.98 419.51 L469.09 420.17 L469.2 420.76 L469.31 421.29 L469.42 421.75 L469.53 422.13 L469.64 422.43 L469.75 422.64 L469.86 422.77 L469.97 422.82 L470.08 422.79 L470.19 422.71 L470.29 422.58 L470.4 422.41 L470.51 422.18 L470.62 421.91 L470.73 421.6 L470.84 421.25 L470.95 420.86 L471.06 420.45 L471.17 420.01 L471.28 419.54 L471.39 419.06 L471.5 418.57 L471.61 418.08 L471.72 417.58 L471.83 417.09 L471.94 416.61 L472.05 416.15 L472.16 415.71 L472.26 415.29 L472.37 414.91 L472.48 414.56 L472.59 414.24 L472.7 413.97 L472.81 413.75 L472.92 413.57 L473.03 413.44 L473.14 413.37 L473.25 413.34 L473.36 413.37 L473.47 413.46 L473.58 413.62 L473.69 413.83 L473.8 414.1 L473.91 414.42 L474.02 414.79 L474.13 415.21 L474.23 415.66 L474.34 416.14 L474.45 416.64 L474.56 417.17 L474.67 417.7 L474.78 418.24 L474.89 418.78 L475 419.3 L475.11 419.81 L475.22 420.29 L475.33 420.74 L475.44 421.15 L475.55 421.52 L475.66 421.84 L475.77 422.11 L475.88 422.33 L475.99 422.48 L476.1 422.57 L476.2 422.61 L476.31 422.59 L476.42 422.53 L476.53 422.44 L476.64 422.31 L476.75 422.15 L476.86 421.96 L476.97 421.74 L477.08 421.48 L477.19 421.21 L477.3 420.9 L477.41 420.58 L477.52 420.24 L477.63 419.89 L477.74 419.52 L477.85 419.15 L477.96 418.77 L478.07 418.39 L478.17 418.02 L478.28 417.65 L478.39 417.3 L478.5 416.96 L478.61 416.63 L478.72 416.33 L478.83 416.05 L478.94 415.79 L479.05 415.56 L479.16 415.37 L479.27 415.2 L479.38 415.07 L479.49 414.98 L479.6 414.92 L479.71 414.9 L479.82 414.92 L479.93 414.98 L480.04 415.1 L480.14 415.26 L480.25 415.46 L480.36 415.7 L480.47 415.98 L480.58 416.29 L480.69 416.63 L480.8 417 L480.91 417.39 L481.02 417.79 L481.13 418.21 L481.24 418.63 L481.35 419.04 L481.46 419.46 L481.57 419.86 L481.68 420.24 L481.79 420.6 L481.9 420.94 L482.01 421.25 L482.11 421.52 L482.22 421.75 L482.33 421.95 L482.44 422.1 L482.55 422.2 L482.66 422.26 L482.77 422.27 L482.88 422.23 L482.99 422.15 L483.1 422.02 L483.21 421.85 L483.32 421.63 L483.43 421.38 L483.54 421.1 L483.65 420.78 L483.76 420.43 L483.87 420.06 L483.98 419.67 L484.08 419.27 L484.19 418.85 L484.3 418.44 L484.41 418.02 L484.52 417.61 L484.63 417.21 L484.74 416.83 L484.85 416.47 L484.96 416.13 L485.07 415.83 L485.18 415.55 L485.29 415.32 L485.4 415.12 L485.51 414.97 L485.62 414.86 L485.73 414.79 L485.84 414.77 L485.95 414.8 L486.05 414.88 L486.16 415.01 L486.27 415.18 L486.38 415.4 L486.49 415.67 L486.6 415.97 L486.71 416.3 L486.82 416.67 L486.93 417.06 L487.04 417.48 L487.15 417.91 L487.26 418.36 L487.37 418.81 L487.48 419.26 L487.59 419.71 L487.7 420.15 L487.81 420.57 L487.92 420.97 L488.02 421.35 L488.13 421.69 L488.24 422 L488.35 422.28 L488.46 422.51 L488.57 422.7 L488.68 422.84 L488.79 422.94 L488.9 422.98 L489.01 422.98 L489.12 422.92 L489.23 422.82 L489.34 422.67 L489.45 422.48 L489.56 422.24 L489.67 421.96 L489.78 421.64 L489.89 421.29 L489.99 420.91 L490.1 420.5 L490.21 420.07 L490.32 419.62 L490.43 419.16 L490.54 418.7 L490.65 418.22 L490.76 417.75 L490.87 417.29 L490.98 416.84 L491.09 416.41 L491.2 416 L491.31 415.62 L491.42 415.26 L491.53 414.94 L491.64 414.66 L491.75 414.42 L491.86 414.22 L491.96 414.06 L492.07 413.96 L492.18 413.9 L492.29 413.89 L492.4 413.94 L492.51 414.04 L492.62 414.2 L492.73 414.41 L492.84 414.68 L492.95 415 L493.06 415.36 L493.17 415.76 L493.28 416.21 L493.39 416.68 L493.5 417.18 L493.61 417.71 L493.72 418.25 L493.83 418.8 L493.94 419.36 L494.04 419.92 L494.15 420.47 L494.26 421.01 L494.37 421.53 L494.48 422.02 L494.59 422.49 L494.7 422.92 L494.81 423.31 L494.92 423.66 L495.03 423.96 L495.14 424.21 L495.25 424.41 L495.36 424.55 L495.47 424.64 L495.58 424.67 L495.69 424.64 L495.8 424.55 L495.9 424.4 L496.01 424.19 L496.12 423.93 L496.23 423.62 L496.34 423.25 L496.45 422.84 L496.56 422.39 L496.67 421.91 L496.78 421.39 L496.89 420.85 L497 420.28 L497.11 419.7 L497.22 419.12 L497.33 418.53 L497.44 417.95 L497.55 417.37 L497.66 416.82 L497.77 416.28 L497.88 415.78 L497.98 415.3 L498.09 414.87 L498.2 414.48 L498.31 414.13 L498.42 413.84 L498.53 413.6 L498.64 413.42 L498.75 413.29 L498.86 413.22 L498.97 413.22 L499.08 413.28 L499.19 413.41 L499.3 413.61 L499.41 413.87 L499.52 414.19 L499.63 414.58 L499.74 415.01 L499.84 415.5 L499.95 416.03 L500.06 416.6 L500.17 417.2 L500.28 417.83 L500.39 418.48 L500.5 419.14 L500.61 419.8 L500.72 420.47 L500.83 421.12 L500.94 421.76 L501.05 422.38 L501.16 422.96 L501.27 423.51 L501.38 424.02 L501.49 424.48 L501.6 424.89 L501.71 425.25 L501.81 425.54 L501.92 425.77 L502.03 425.94 L502.14 426.03 L502.25 426.06 L502.36 426.02 L502.47 425.92 L502.58 425.77 L502.69 425.55 L502.8 425.27 L502.91 424.94 L503.02 424.56 L503.13 424.14 L503.24 423.66 L503.35 423.15 L503.46 422.61 L503.57 422.03 L503.68 421.43 L503.78 420.82 L503.89 420.19 L504 419.55 L504.11 418.92 L504.22 418.29 L504.33 417.67 L504.44 417.06 L504.55 416.48 L504.66 415.93 L504.77 415.41 L504.88 414.93 L504.99 414.5 L505.1 414.11 L505.21 413.77 L505.32 413.48 L505.43 413.25 L505.54 413.08 L505.65 412.97 L505.75 412.92 L505.86 412.93 L505.97 413.01 L506.08 413.14 L506.19 413.34 L506.3 413.59 L506.41 413.9 L506.52 414.26 L506.63 414.67 L506.74 415.13 L506.85 415.63 L506.96 416.17 L507.07 416.73 L507.18 417.33 L507.29 417.94 L507.4 418.58 L507.51 419.22 L507.62 419.86 L507.72 420.51 L507.83 421.14 L507.94 421.76 L508.05 422.36 L508.16 422.94 L508.27 423.49 L508.38 424 L508.49 424.47 L508.6 424.89 L508.71 425.27 L508.82 425.59 L508.93 425.86 L509.04 426.08 L509.15 426.23 L509.26 426.32 L509.37 426.35 L509.48 426.32 L509.59 426.21 L509.69 426.04 L509.8 425.79 L509.91 425.48 L510.02 425.11 L510.13 424.68 L510.24 424.2 L510.35 423.67 L510.46 423.1 L510.57 422.49 L510.68 421.86 L510.79 421.2 L510.9 420.53 L511.01 419.85 L511.12 419.17 L511.23 418.49 L511.34 417.84 L511.45 417.2 L511.56 416.59 L511.66 416.02 L511.77 415.49 L511.88 415.01 L511.99 414.58 L512.1 414.21 L512.21 413.9 L512.32 413.66 L512.43 413.48 L512.54 413.38 L512.65 413.34 L512.76 413.37 L512.87 413.47 L512.98 413.64 L513.09 413.87 L513.2 414.15 L513.31 414.5 L513.42 414.9 L513.53 415.35 L513.63 415.85 L513.74 416.38 L513.85 416.95 L513.96 417.55 L514.07 418.16 L514.18 418.79 L514.29 419.43 L514.4 420.06 L514.51 420.69 L514.62 421.31 L514.73 421.9 L514.84 422.47 L514.95 423 L515.06 423.5 L515.17 423.95 L515.28 424.35 L515.39 424.7 L515.5 424.99 L515.61 425.21 L515.71 425.38 L515.82 425.48 L515.93 425.51 L516.04 425.49 L516.15 425.42 L516.26 425.3 L516.37 425.14 L516.48 424.93 L516.59 424.68 L516.7 424.39 L516.81 424.06 L516.92 423.7 L517.03 423.3 L517.14 422.88 L517.25 422.43 L517.36 421.97 L517.47 421.49 L517.57 421 L517.68 420.5 L517.79 420 L517.9 419.5 L518.01 419.01 L518.12 418.53 L518.23 418.06 L518.34 417.61 L518.45 417.19 L518.56 416.8 L518.67 416.44 L518.78 416.11 L518.89 415.82 L519 415.57 L519.11 415.36 L519.22 415.2 L519.33 415.08 L519.44 415.01 L519.54 414.98 L519.65 415.01 L519.76 415.11 L519.87 415.27 L519.98 415.49 L520.09 415.77 L520.2 416.1 L520.31 416.48 L520.42 416.9 L520.53 417.36 L520.64 417.86 L520.75 418.38 L520.86 418.92 L520.97 419.47 L521.08 420.02 L521.19 420.57 L521.3 421.11 L521.41 421.63 L521.51 422.12 L521.62 422.58 L521.73 423.01 L521.84 423.39 L521.95 423.72 L522.06 424 L522.17 424.21 L522.28 424.37 L522.39 424.47 L522.5 424.5 L522.61 424.48 L522.72 424.43 L522.83 424.34 L522.94 424.21 L523.05 424.05 L523.16 423.86 L523.27 423.64 L523.38 423.39 L523.49 423.11 L523.59 422.82 L523.7 422.5 L523.81 422.16 L523.92 421.81 L524.03 421.45 L524.14 421.09 L524.25 420.72 L524.36 420.35 L524.47 419.98 L524.58 419.62 L524.69 419.28 L524.8 418.94 L524.91 418.63 L525.02 418.33 L525.13 418.06 L525.24 417.82 L525.35 417.6 L525.45 417.42 L525.56 417.27 L525.67 417.15 L525.78 417.06 L525.89 417.02 L526 417 L526.11 417.04 L526.22 417.11 L526.33 417.23 L526.44 417.39 L526.55 417.59 L526.66 417.82 L526.77 418.09 L526.88 418.38 L526.99 418.7 L527.1 419.05 L527.21 419.4 L527.32 419.77 L527.42 420.14 L527.53 420.51 L527.64 420.88 L527.75 421.24 L527.86 421.58 L527.97 421.9 L528.08 422.2 L528.19 422.46 L528.3 422.7 L528.41 422.9 L528.52 423.06 L528.63 423.17 L528.74 423.25 L528.85 423.28 L528.96 423.27 L529.07 423.24 L529.18 423.17 L529.29 423.08 L529.39 422.97 L529.5 422.83 L529.61 422.67 L529.72 422.48 L529.83 422.28 L529.94 422.06 L530.05 421.83 L530.16 421.59 L530.27 421.33 L530.38 421.07 L530.49 420.8 L530.6 420.54 L530.71 420.27 L530.82 420.01 L530.93 419.76 L531.04 419.52 L531.15 419.29 L531.26 419.08 L531.37 418.88 L531.47 418.7 L531.58 418.55 L531.69 418.42 L531.8 418.31 L531.91 418.23 L532.02 418.17 L532.13 418.14 L532.24 418.15 L532.35 418.18 L532.46 418.26 L532.57 418.37 L532.68 418.51 L532.79 418.69 L532.9 418.9 L533.01 419.13 L533.12 419.39 L533.23 419.68 L533.34 419.98 L533.44 420.29 L533.55 420.62 L533.66 420.95 L533.77 421.29 L533.88 421.62 L533.99 421.95 L534.1 422.27 L534.21 422.57 L534.32 422.86 L534.43 423.12 L534.54 423.36 L534.65 423.58 L534.76 423.76 L534.87 423.91 L534.98 424.03 L535.09 424.11 L535.2 424.16 L535.3 424.16 L535.41 424.14 L535.52 424.08 L535.63 423.98 L535.74 423.86 L535.85 423.71 L535.96 423.53 L536.07 423.32 L536.18 423.08 L536.29 422.83 L536.4 422.55 L536.51 422.26 L536.62 421.95 L536.73 421.63 L536.84 421.31 L536.95 420.98 L537.06 420.65 L537.17 420.32 L537.27 420 L537.38 419.68 L537.49 419.38 L537.6 419.1 L537.71 418.83 L537.82 418.58 L537.93 418.36 L538.04 418.16 L538.15 417.99 L538.26 417.84 L538.37 417.73 L538.48 417.65 L538.59 417.61 L538.7 417.59 L538.81 417.62 L538.92 417.68 L539.03 417.77 L539.14 417.91 L539.25 418.08 L539.35 418.28 L539.46 418.51 L539.57 418.77 L539.68 419.06 L539.79 419.37 L539.9 419.7 L540.01 420.05 L540.12 420.41 L540.23 420.78 L540.34 421.16 L540.45 421.54 L540.56 421.92 L540.67 422.29 L540.78 422.66 L540.89 423.01 L541 423.34 L541.11 423.66 L541.21 423.96 L541.32 424.23 L541.43 424.47 L541.54 424.68 L541.65 424.86 L541.76 425 L541.87 425.11 L541.98 425.18 L542.09 425.21 L542.2 425.21 L542.31 425.17 L542.42 425.1 L542.53 425 L542.64 424.86 L542.75 424.7 L542.86 424.5 L542.97 424.28 L543.08 424.04 L543.18 423.77 L543.29 423.48 L543.4 423.17 L543.51 422.85 L543.62 422.52 L543.73 422.18 L543.84 421.84 L543.95 421.49 L544.06 421.14 L544.17 420.81 L544.28 420.47 L544.39 420.16 L544.5 419.85 L544.61 419.56 L544.72 419.3 L544.83 419.05 L544.94 418.83 L545.05 418.64 L545.15 418.48 L545.26 418.35 L545.37 418.25 L545.48 418.18 L545.59 418.15 L545.7 418.15 L545.81 418.18 L545.92 418.25 L546.03 418.36 L546.14 418.5 L546.25 418.68 L546.36 418.88 L546.47 419.12 L546.58 419.38 L546.69 419.67 L546.8 419.97 L546.91 420.3 L547.02 420.64 L547.12 420.99 L547.23 421.35 L547.34 421.71 L547.45 422.08 L547.56 422.44 L547.67 422.8 L547.78 423.14 L547.89 423.48 L548 423.79 L548.11 424.09 L548.22 424.36 L548.33 424.61 L548.44 424.83 L548.55 425.02 L548.66 425.18 L548.77 425.31 L548.88 425.4 L548.99 425.45 L549.1 425.47 L549.2 425.46 L549.31 425.42 L549.42 425.35 L549.53 425.26 L549.64 425.14 L549.75 425 L549.86 424.84 L549.97 424.66 L550.08 424.46 L550.19 424.25 L550.3 424.02 L550.41 423.78 L550.52 423.53 L550.63 423.28 L550.74 423.02 L550.85 422.77 L550.96 422.51 L551.06 422.26 L551.17 422.02 L551.28 421.79 L551.39 421.57 L551.5 421.36 L551.61 421.18 L551.72 421.01 L551.83 420.87 L551.94 420.74 L552.05 420.64 L552.16 420.57 L552.27 420.52 L552.38 420.5 L552.49 420.51 L552.6 420.53 L552.71 420.59 L552.82 420.66 L552.93 420.76 L553.03 420.87 L553.14 421.01 L553.25 421.16 L553.36 421.33 L553.47 421.52 L553.58 421.71 L553.69 421.92 L553.8 422.13 L553.91 422.34 L554.02 422.56 L554.13 422.77 L554.24 422.98 L554.35 423.19 L554.46 423.38 L554.57 423.57 L554.68 423.74 L554.79 423.89 L554.9 424.03 L555 424.15 L555.11 424.25 L555.22 424.32 L555.33 424.38 L555.44 424.41 L555.55 424.42 L555.66 424.4 L555.77 424.35 L555.88 424.28 L555.99 424.18 L556.1 424.06 L556.21 423.92 L556.32 423.76 L556.43 423.57 L556.54 423.38 L556.65 423.17 L556.76 422.95 L556.87 422.72 L556.97 422.49 L557.08 422.26 L557.19 422.04 L557.3 421.81 L557.41 421.6 L557.52 421.4 L557.63 421.21 L557.74 421.05 L557.85 420.9 L557.96 420.77 L558.07 420.66 L558.18 420.58 L558.29 420.53 L558.4 420.5 L558.51 420.5 L558.62 420.53 L558.73 420.59 L558.84 420.67 L558.94 420.78 L559.05 420.92 L559.16 421.08 L559.27 421.26 L559.38 421.46 L559.49 421.68 L559.6 421.91 L559.71 422.15 L559.82 422.41 L559.93 422.66 L560.04 422.92 L560.15 423.18 L560.26 423.44 L560.37 423.69 L560.48 423.92 L560.59 424.15 L560.7 424.36 L560.81 424.55 L560.91 424.72 L561.02 424.87 L561.13 424.99 L561.24 425.09 L561.35 425.16 L561.46 425.2 L561.57 425.22 L561.68 425.21 L561.79 425.2 L561.9 425.19" stroke="#0000ff" stroke-width="2.0"/>
</g>
<text x="463.4" y="463" font-size="8.5" text-anchor="middle" style="font-kerning:none">0</text>
<text x="496.23" y="463" font-size="8.5" text-anchor="middle" style="font-kerning:none">0.&#8199;</text><path d="M378 0V-709H285C263 -625 190 -582 68 -582V-489H238V0Z" transform="translate(497.41 463) scale(0.0085)" fill="#262626"/>
<text x="529.07" y="463" font-size="8.5" text-anchor="middle" style="font-kerning:none">0.2</text>
<text x="561.9" y="463" font-size="8.5" text-anchor="middle" style="font-kerning:none">0.3</text>
<text x="459.8" y="454.1" font-size="8.5" text-anchor="end" style="font-kerning:none">-5</text>
<text x="459.8" y="433.04" font-size="8.5" text-anchor="end" style="font-kerning:none">0</text>
<text x="459.8" y="411.98" font-size="8.5" text-anchor="end" style="font-kerning:none">5</text>
<text x="459.8" y="390.92" font-size="8.5" text-anchor="end" style="font-kerning:none">&#8199;0</text><path d="M378 0V-709H285C263 -625 190 -582 68 -582V-489H238V0Z" transform="translate(450.35 390.92) scale(0.0085)" fill="#262626"/>
<text x="459.8" y="369.86" font-size="8.5" text-anchor="end" style="font-kerning:none">&#8199;5</text><path d="M378 0V-709H285C263 -625 190 -582 68 -582V-489H238V0Z" transform="translate(450.35 369.86) scale(0.0085)" fill="#262626"/>
<text x="459.8" y="348.8" font-size="8.5" text-anchor="end" style="font-kerning:none">20</text>
<text x="464.5" y="344.4" font-size="9.6" style="font-weight:normal">&#215;</text>
<text x="470.7" y="343.2" font-size="8.5" text-anchor="start" style="font-kerning:none">&#8199;0</text><path d="M378 0V-709H285C263 -625 190 -582 68 -582V-489H238V0Z" transform="translate(470.7 343.2) scale(0.0085)" fill="#262626"/>
<text x="479.8" y="339" font-size="6.2">6</text>
<rect x="580.9" y="342.2" width="96.9" height="31.8" fill="#fff" stroke="#a8a8a8" stroke-width="1"/>
<path d="M583.8 348.65H600.7" stroke="#ff0000" stroke-width="1.6"/>
<text x="602.6" y="351.55" font-size="7.6" style="fill:#111">Without PSO &amp; SSA</text>
<path d="M583.8 358.8H600.7" stroke="#ffff00" stroke-width="1.6"/>
<text x="602.6" y="361.7" font-size="7.6" style="fill:#111">With PSO</text>
<path d="M583.8 368.4H600.7" stroke="#0000ff" stroke-width="1.6"/>
<text x="602.6" y="371.3" font-size="7.6" style="fill:#111">With SSA</text>
<text x="175" y="282.2" font-size="9.3" text-anchor="middle">Time (seconds)</text>
<text x="535.5" y="270.2" font-size="9.3" text-anchor="middle">Time (seconds)</text>
<text x="183" y="590.4" font-size="9.3" text-anchor="middle">Time (seconds)</text>
<text x="541.3" y="601" font-size="9.3" text-anchor="middle">Time (seconds)</text>
<text transform="translate(7.3 135.6) rotate(-90)" font-size="9.3" text-anchor="middle">Reactive Power (VAR)</text>
<text transform="translate(369.6 136.6) rotate(-90)" font-size="9.3" text-anchor="middle">Reactive Power (VAR)</text>
<text transform="translate(16.4 446.3) rotate(-90)" font-size="9.3" text-anchor="middle">Reactive Power (VAR)</text>
<text transform="translate(389 452.7) rotate(-90)" font-size="9.3" text-anchor="middle">Reactive Power (VAR)</text>
<text transform="translate(166.5 309.7) scale(1.06 1)" font-size="14" text-anchor="middle" class="cap">(a)</text>
<text transform="translate(526.2 309.4) scale(1.06 1)" font-size="14" text-anchor="middle" class="cap">(b)</text>
<text transform="translate(179.6 623.5) scale(1.06 1)" font-size="14" text-anchor="middle" class="cap">(c)</text>
<text transform="translate(534.8 633) scale(1.06 1)" font-size="14" text-anchor="middle" class="cap">(d)</text>
</svg>
</body></html>
